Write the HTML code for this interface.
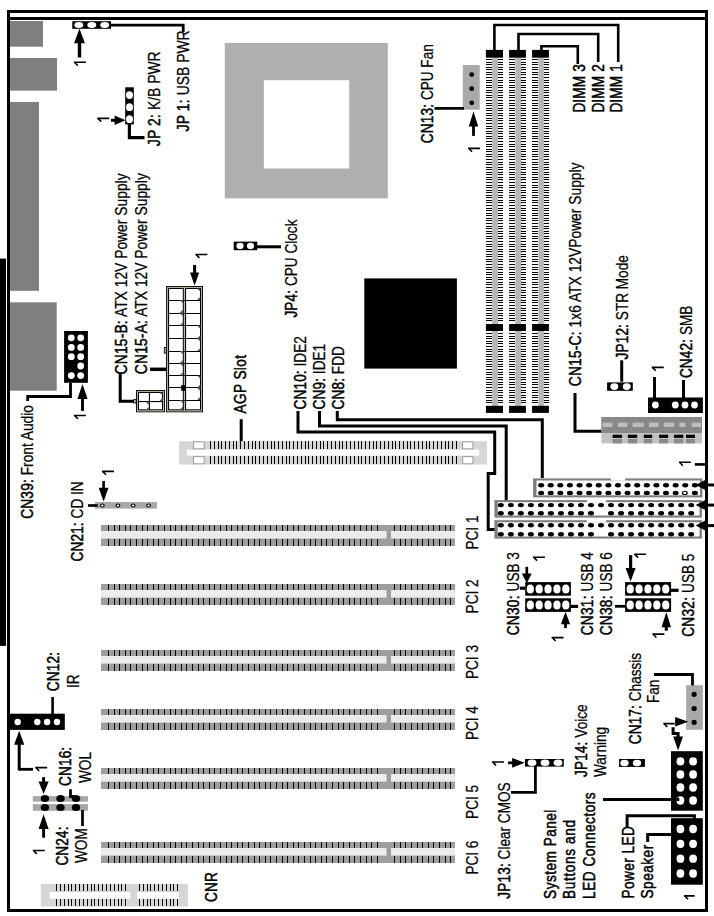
<!DOCTYPE html>
<html><head><meta charset="utf-8"><style>
html,body{margin:0;padding:0;background:#fff;width:714px;height:916px;overflow:hidden}
svg{display:block}
text{font-family:"Liberation Sans",sans-serif;fill:#000}
</style></head><body>
<svg width="714" height="916" viewBox="0 0 714 916">
<rect x="0" y="0" width="714" height="916" fill="#fff"/>
<rect x="7.00" y="10.00" width="3.00" height="902.00" fill="#000"/>
<rect x="7.00" y="10.00" width="701.00" height="3.00" fill="#000"/>
<rect x="10.00" y="17.00" width="695.00" height="3.00" fill="#000"/>
<rect x="705.00" y="10.00" width="3.00" height="902.00" fill="#000"/>
<rect x="7.00" y="909.00" width="701.00" height="3.00" fill="#000"/>
<rect x="0.00" y="258.60" width="6.00" height="387.30" fill="#000"/>
<rect x="10.00" y="21.00" width="33.00" height="25.70" fill="#7f7f7f"/>
<rect x="10.00" y="58.00" width="47.00" height="32.60" fill="#7f7f7f"/>
<rect x="10.00" y="102.00" width="29.00" height="188.80" fill="#7f7f7f"/>
<rect x="10.00" y="302.30" width="46.70" height="88.40" fill="#7f7f7f"/>
<rect x="224.80" y="42.90" width="163.00" height="155.50" fill="#afafaf"/>
<rect x="263.90" y="80.20" width="85.30" height="88.30" fill="#fff"/>
<rect x="72.30" y="21.20" width="38.70" height="7.60" fill="#000"/>
<ellipse cx="78.80" cy="25.00" rx="4.50" ry="2.90" fill="#fff"/>
<ellipse cx="91.80" cy="25.00" rx="4.50" ry="2.90" fill="#fff"/>
<ellipse cx="104.70" cy="25.00" rx="4.50" ry="2.90" fill="#fff"/>
<path d="M111.00,25.20 L183.20,25.20 L183.20,32.00" fill="none" stroke="#000" stroke-width="2.8" stroke-linejoin="miter" stroke-linecap="butt"/>
<path d="M79.5,28.8 L74.0,43.3 L85.0,43.3 Z"/>
<rect x="77.80" y="42.30" width="3.40" height="15.20" fill="#000"/>
<path d="M73.90,62.30 L85.90,62.30 M74.20,62.00 L77.90,65.70" fill="none" stroke="#000" stroke-width="1.6"/>
<text transform="translate(189.00,131.50) rotate(-90) scale(0.82,1)" font-size="17" xml:space="preserve" ><tspan stroke="#000" stroke-width="0.5" letter-spacing="0.2">JP 1:</tspan><tspan stroke="#000" stroke-width="0.25"> USB PWR</tspan></text>
<rect x="125.20" y="87.30" width="8.60" height="37.10" fill="#000"/>
<ellipse cx="129.50" cy="95.10" rx="3.50" ry="3.90" fill="#fff"/>
<ellipse cx="129.50" cy="107.20" rx="3.50" ry="3.90" fill="#fff"/>
<ellipse cx="129.50" cy="119.20" rx="3.50" ry="3.90" fill="#fff"/>
<path d="M129.40,124.00 L129.40,137.70 L144.50,137.70" fill="none" stroke="#000" stroke-width="3.2" stroke-linejoin="miter" stroke-linecap="butt"/>
<path d="M125.6,120.3 L114.6,115.55 L114.6,125.05 Z"/>
<rect x="111.00" y="118.80" width="4.60" height="3.00" fill="#000"/>
<path d="M97.30,118.40 L109.30,118.40 M97.60,118.10 L101.30,121.80" fill="none" stroke="#000" stroke-width="1.6"/>
<text transform="translate(159.70,146.20) rotate(-90) scale(0.818,1)" font-size="17" xml:space="preserve" ><tspan stroke="#000" stroke-width="0.5" letter-spacing="0.2">JP 2:</tspan><tspan stroke="#000" stroke-width="0.25"> K/B PWR</tspan></text>
<rect x="462.80" y="65.00" width="16.90" height="44.70" fill="#a9a9a9"/>
<ellipse cx="471.70" cy="74.60" rx="2.40" ry="2.40" fill="#000"/>
<ellipse cx="471.70" cy="88.70" rx="2.40" ry="2.40" fill="#000"/>
<ellipse cx="471.70" cy="102.80" rx="2.40" ry="2.40" fill="#000"/>
<path d="M434.50,108.40 L464.00,108.40" fill="none" stroke="#000" stroke-width="2.7" stroke-linejoin="miter" stroke-linecap="butt"/>
<path d="M473.5,111.5 L468.75,126.5 L478.25,126.5 Z"/>
<rect x="472.10" y="125.50" width="2.80" height="10.40" fill="#000"/>
<path d="M468.10,148.40 L480.10,148.40 M468.40,148.10 L472.10,151.80" fill="none" stroke="#000" stroke-width="1.6"/>
<text transform="translate(432.80,143.20) rotate(-90) scale(0.8,1)" font-size="17" xml:space="preserve" ><tspan stroke="#000" stroke-width="0.5" letter-spacing="0.2">CN13:</tspan><tspan stroke="#000" stroke-width="0.25"> CPU Fan</tspan></text>
<rect x="492.10" y="57.70" width="5.90" height="348.10" fill="#b6b6ba"/>
<rect x="485.90" y="49.90" width="17.10" height="7.80" fill="#000"/>
<rect x="485.90" y="324.00" width="17.10" height="7.00" fill="#000"/>
<rect x="485.90" y="405.80" width="17.10" height="7.10" fill="#000"/>
<rect x="486" y="59" width="6" height="1" fill="#000" shape-rendering="crispEdges"/>
<rect x="498" y="59" width="5" height="1" fill="#000" shape-rendering="crispEdges"/>
<rect x="486" y="62" width="6" height="1" fill="#000" shape-rendering="crispEdges"/>
<rect x="498" y="62" width="5" height="1" fill="#000" shape-rendering="crispEdges"/>
<rect x="486" y="64" width="6" height="1" fill="#000" shape-rendering="crispEdges"/>
<rect x="498" y="64" width="5" height="1" fill="#000" shape-rendering="crispEdges"/>
<rect x="486" y="67" width="6" height="1" fill="#000" shape-rendering="crispEdges"/>
<rect x="498" y="67" width="5" height="1" fill="#000" shape-rendering="crispEdges"/>
<rect x="486" y="69" width="6" height="1" fill="#000" shape-rendering="crispEdges"/>
<rect x="498" y="69" width="5" height="1" fill="#000" shape-rendering="crispEdges"/>
<rect x="486" y="72" width="6" height="1" fill="#000" shape-rendering="crispEdges"/>
<rect x="498" y="72" width="5" height="1" fill="#000" shape-rendering="crispEdges"/>
<rect x="486" y="74" width="6" height="1" fill="#000" shape-rendering="crispEdges"/>
<rect x="498" y="74" width="5" height="1" fill="#000" shape-rendering="crispEdges"/>
<rect x="486" y="77" width="6" height="1" fill="#000" shape-rendering="crispEdges"/>
<rect x="498" y="77" width="5" height="1" fill="#000" shape-rendering="crispEdges"/>
<rect x="486" y="80" width="6" height="1" fill="#000" shape-rendering="crispEdges"/>
<rect x="498" y="80" width="5" height="1" fill="#000" shape-rendering="crispEdges"/>
<rect x="486" y="82" width="6" height="1" fill="#000" shape-rendering="crispEdges"/>
<rect x="498" y="82" width="5" height="1" fill="#000" shape-rendering="crispEdges"/>
<rect x="486" y="85" width="6" height="1" fill="#000" shape-rendering="crispEdges"/>
<rect x="498" y="85" width="5" height="1" fill="#000" shape-rendering="crispEdges"/>
<rect x="486" y="87" width="6" height="1" fill="#000" shape-rendering="crispEdges"/>
<rect x="498" y="87" width="5" height="1" fill="#000" shape-rendering="crispEdges"/>
<rect x="486" y="90" width="6" height="1" fill="#000" shape-rendering="crispEdges"/>
<rect x="498" y="90" width="5" height="1" fill="#000" shape-rendering="crispEdges"/>
<rect x="486" y="92" width="6" height="1" fill="#000" shape-rendering="crispEdges"/>
<rect x="498" y="92" width="5" height="1" fill="#000" shape-rendering="crispEdges"/>
<rect x="486" y="95" width="6" height="1" fill="#000" shape-rendering="crispEdges"/>
<rect x="498" y="95" width="5" height="1" fill="#000" shape-rendering="crispEdges"/>
<rect x="486" y="97" width="6" height="1" fill="#000" shape-rendering="crispEdges"/>
<rect x="498" y="97" width="5" height="1" fill="#000" shape-rendering="crispEdges"/>
<rect x="486" y="100" width="6" height="1" fill="#000" shape-rendering="crispEdges"/>
<rect x="498" y="100" width="5" height="1" fill="#000" shape-rendering="crispEdges"/>
<rect x="486" y="103" width="6" height="1" fill="#000" shape-rendering="crispEdges"/>
<rect x="498" y="103" width="5" height="1" fill="#000" shape-rendering="crispEdges"/>
<rect x="486" y="105" width="6" height="1" fill="#000" shape-rendering="crispEdges"/>
<rect x="498" y="105" width="5" height="1" fill="#000" shape-rendering="crispEdges"/>
<rect x="486" y="108" width="6" height="1" fill="#000" shape-rendering="crispEdges"/>
<rect x="498" y="108" width="5" height="1" fill="#000" shape-rendering="crispEdges"/>
<rect x="486" y="110" width="6" height="1" fill="#000" shape-rendering="crispEdges"/>
<rect x="498" y="110" width="5" height="1" fill="#000" shape-rendering="crispEdges"/>
<rect x="486" y="113" width="6" height="1" fill="#000" shape-rendering="crispEdges"/>
<rect x="498" y="113" width="5" height="1" fill="#000" shape-rendering="crispEdges"/>
<rect x="486" y="115" width="6" height="1" fill="#000" shape-rendering="crispEdges"/>
<rect x="498" y="115" width="5" height="1" fill="#000" shape-rendering="crispEdges"/>
<rect x="486" y="118" width="6" height="1" fill="#000" shape-rendering="crispEdges"/>
<rect x="498" y="118" width="5" height="1" fill="#000" shape-rendering="crispEdges"/>
<rect x="486" y="120" width="6" height="1" fill="#000" shape-rendering="crispEdges"/>
<rect x="498" y="120" width="5" height="1" fill="#000" shape-rendering="crispEdges"/>
<rect x="486" y="123" width="6" height="1" fill="#000" shape-rendering="crispEdges"/>
<rect x="498" y="123" width="5" height="1" fill="#000" shape-rendering="crispEdges"/>
<rect x="486" y="126" width="6" height="1" fill="#000" shape-rendering="crispEdges"/>
<rect x="498" y="126" width="5" height="1" fill="#000" shape-rendering="crispEdges"/>
<rect x="486" y="128" width="6" height="1" fill="#000" shape-rendering="crispEdges"/>
<rect x="498" y="128" width="5" height="1" fill="#000" shape-rendering="crispEdges"/>
<rect x="486" y="131" width="6" height="1" fill="#000" shape-rendering="crispEdges"/>
<rect x="498" y="131" width="5" height="1" fill="#000" shape-rendering="crispEdges"/>
<rect x="486" y="133" width="6" height="1" fill="#000" shape-rendering="crispEdges"/>
<rect x="498" y="133" width="5" height="1" fill="#000" shape-rendering="crispEdges"/>
<rect x="486" y="136" width="6" height="1" fill="#000" shape-rendering="crispEdges"/>
<rect x="498" y="136" width="5" height="1" fill="#000" shape-rendering="crispEdges"/>
<rect x="486" y="138" width="6" height="1" fill="#000" shape-rendering="crispEdges"/>
<rect x="498" y="138" width="5" height="1" fill="#000" shape-rendering="crispEdges"/>
<rect x="486" y="141" width="6" height="1" fill="#000" shape-rendering="crispEdges"/>
<rect x="498" y="141" width="5" height="1" fill="#000" shape-rendering="crispEdges"/>
<rect x="486" y="144" width="6" height="1" fill="#000" shape-rendering="crispEdges"/>
<rect x="498" y="144" width="5" height="1" fill="#000" shape-rendering="crispEdges"/>
<rect x="486" y="146" width="6" height="1" fill="#000" shape-rendering="crispEdges"/>
<rect x="498" y="146" width="5" height="1" fill="#000" shape-rendering="crispEdges"/>
<rect x="486" y="149" width="6" height="1" fill="#000" shape-rendering="crispEdges"/>
<rect x="498" y="149" width="5" height="1" fill="#000" shape-rendering="crispEdges"/>
<rect x="486" y="151" width="6" height="1" fill="#000" shape-rendering="crispEdges"/>
<rect x="498" y="151" width="5" height="1" fill="#000" shape-rendering="crispEdges"/>
<rect x="486" y="154" width="6" height="1" fill="#000" shape-rendering="crispEdges"/>
<rect x="498" y="154" width="5" height="1" fill="#000" shape-rendering="crispEdges"/>
<rect x="486" y="156" width="6" height="1" fill="#000" shape-rendering="crispEdges"/>
<rect x="498" y="156" width="5" height="1" fill="#000" shape-rendering="crispEdges"/>
<rect x="486" y="159" width="6" height="1" fill="#000" shape-rendering="crispEdges"/>
<rect x="498" y="159" width="5" height="1" fill="#000" shape-rendering="crispEdges"/>
<rect x="486" y="162" width="6" height="1" fill="#000" shape-rendering="crispEdges"/>
<rect x="498" y="162" width="5" height="1" fill="#000" shape-rendering="crispEdges"/>
<rect x="486" y="164" width="6" height="1" fill="#000" shape-rendering="crispEdges"/>
<rect x="498" y="164" width="5" height="1" fill="#000" shape-rendering="crispEdges"/>
<rect x="486" y="167" width="6" height="1" fill="#000" shape-rendering="crispEdges"/>
<rect x="498" y="167" width="5" height="1" fill="#000" shape-rendering="crispEdges"/>
<rect x="486" y="169" width="6" height="1" fill="#000" shape-rendering="crispEdges"/>
<rect x="498" y="169" width="5" height="1" fill="#000" shape-rendering="crispEdges"/>
<rect x="486" y="172" width="6" height="1" fill="#000" shape-rendering="crispEdges"/>
<rect x="498" y="172" width="5" height="1" fill="#000" shape-rendering="crispEdges"/>
<rect x="486" y="174" width="6" height="1" fill="#000" shape-rendering="crispEdges"/>
<rect x="498" y="174" width="5" height="1" fill="#000" shape-rendering="crispEdges"/>
<rect x="486" y="177" width="6" height="1" fill="#000" shape-rendering="crispEdges"/>
<rect x="498" y="177" width="5" height="1" fill="#000" shape-rendering="crispEdges"/>
<rect x="486" y="179" width="6" height="1" fill="#000" shape-rendering="crispEdges"/>
<rect x="498" y="179" width="5" height="1" fill="#000" shape-rendering="crispEdges"/>
<rect x="486" y="182" width="6" height="1" fill="#000" shape-rendering="crispEdges"/>
<rect x="498" y="182" width="5" height="1" fill="#000" shape-rendering="crispEdges"/>
<rect x="486" y="185" width="6" height="1" fill="#000" shape-rendering="crispEdges"/>
<rect x="498" y="185" width="5" height="1" fill="#000" shape-rendering="crispEdges"/>
<rect x="486" y="187" width="6" height="1" fill="#000" shape-rendering="crispEdges"/>
<rect x="498" y="187" width="5" height="1" fill="#000" shape-rendering="crispEdges"/>
<rect x="486" y="190" width="6" height="1" fill="#000" shape-rendering="crispEdges"/>
<rect x="498" y="190" width="5" height="1" fill="#000" shape-rendering="crispEdges"/>
<rect x="486" y="192" width="6" height="1" fill="#000" shape-rendering="crispEdges"/>
<rect x="498" y="192" width="5" height="1" fill="#000" shape-rendering="crispEdges"/>
<rect x="486" y="195" width="6" height="1" fill="#000" shape-rendering="crispEdges"/>
<rect x="498" y="195" width="5" height="1" fill="#000" shape-rendering="crispEdges"/>
<rect x="486" y="197" width="6" height="1" fill="#000" shape-rendering="crispEdges"/>
<rect x="498" y="197" width="5" height="1" fill="#000" shape-rendering="crispEdges"/>
<rect x="486" y="200" width="6" height="1" fill="#000" shape-rendering="crispEdges"/>
<rect x="498" y="200" width="5" height="1" fill="#000" shape-rendering="crispEdges"/>
<rect x="486" y="202" width="6" height="1" fill="#000" shape-rendering="crispEdges"/>
<rect x="498" y="202" width="5" height="1" fill="#000" shape-rendering="crispEdges"/>
<rect x="486" y="205" width="6" height="1" fill="#000" shape-rendering="crispEdges"/>
<rect x="498" y="205" width="5" height="1" fill="#000" shape-rendering="crispEdges"/>
<rect x="486" y="208" width="6" height="1" fill="#000" shape-rendering="crispEdges"/>
<rect x="498" y="208" width="5" height="1" fill="#000" shape-rendering="crispEdges"/>
<rect x="486" y="210" width="6" height="1" fill="#000" shape-rendering="crispEdges"/>
<rect x="498" y="210" width="5" height="1" fill="#000" shape-rendering="crispEdges"/>
<rect x="486" y="213" width="6" height="1" fill="#000" shape-rendering="crispEdges"/>
<rect x="498" y="213" width="5" height="1" fill="#000" shape-rendering="crispEdges"/>
<rect x="486" y="215" width="6" height="1" fill="#000" shape-rendering="crispEdges"/>
<rect x="498" y="215" width="5" height="1" fill="#000" shape-rendering="crispEdges"/>
<rect x="486" y="218" width="6" height="1" fill="#000" shape-rendering="crispEdges"/>
<rect x="498" y="218" width="5" height="1" fill="#000" shape-rendering="crispEdges"/>
<rect x="486" y="220" width="6" height="1" fill="#000" shape-rendering="crispEdges"/>
<rect x="498" y="220" width="5" height="1" fill="#000" shape-rendering="crispEdges"/>
<rect x="486" y="223" width="6" height="1" fill="#000" shape-rendering="crispEdges"/>
<rect x="498" y="223" width="5" height="1" fill="#000" shape-rendering="crispEdges"/>
<rect x="486" y="226" width="6" height="1" fill="#000" shape-rendering="crispEdges"/>
<rect x="498" y="226" width="5" height="1" fill="#000" shape-rendering="crispEdges"/>
<rect x="486" y="228" width="6" height="1" fill="#000" shape-rendering="crispEdges"/>
<rect x="498" y="228" width="5" height="1" fill="#000" shape-rendering="crispEdges"/>
<rect x="486" y="231" width="6" height="1" fill="#000" shape-rendering="crispEdges"/>
<rect x="498" y="231" width="5" height="1" fill="#000" shape-rendering="crispEdges"/>
<rect x="486" y="233" width="6" height="1" fill="#000" shape-rendering="crispEdges"/>
<rect x="498" y="233" width="5" height="1" fill="#000" shape-rendering="crispEdges"/>
<rect x="486" y="236" width="6" height="1" fill="#000" shape-rendering="crispEdges"/>
<rect x="498" y="236" width="5" height="1" fill="#000" shape-rendering="crispEdges"/>
<rect x="486" y="238" width="6" height="1" fill="#000" shape-rendering="crispEdges"/>
<rect x="498" y="238" width="5" height="1" fill="#000" shape-rendering="crispEdges"/>
<rect x="486" y="241" width="6" height="1" fill="#000" shape-rendering="crispEdges"/>
<rect x="498" y="241" width="5" height="1" fill="#000" shape-rendering="crispEdges"/>
<rect x="486" y="244" width="6" height="1" fill="#000" shape-rendering="crispEdges"/>
<rect x="498" y="244" width="5" height="1" fill="#000" shape-rendering="crispEdges"/>
<rect x="486" y="246" width="6" height="1" fill="#000" shape-rendering="crispEdges"/>
<rect x="498" y="246" width="5" height="1" fill="#000" shape-rendering="crispEdges"/>
<rect x="486" y="249" width="6" height="1" fill="#000" shape-rendering="crispEdges"/>
<rect x="498" y="249" width="5" height="1" fill="#000" shape-rendering="crispEdges"/>
<rect x="486" y="251" width="6" height="1" fill="#000" shape-rendering="crispEdges"/>
<rect x="498" y="251" width="5" height="1" fill="#000" shape-rendering="crispEdges"/>
<rect x="486" y="254" width="6" height="1" fill="#000" shape-rendering="crispEdges"/>
<rect x="498" y="254" width="5" height="1" fill="#000" shape-rendering="crispEdges"/>
<rect x="486" y="256" width="6" height="1" fill="#000" shape-rendering="crispEdges"/>
<rect x="498" y="256" width="5" height="1" fill="#000" shape-rendering="crispEdges"/>
<rect x="486" y="259" width="6" height="1" fill="#000" shape-rendering="crispEdges"/>
<rect x="498" y="259" width="5" height="1" fill="#000" shape-rendering="crispEdges"/>
<rect x="486" y="261" width="6" height="1" fill="#000" shape-rendering="crispEdges"/>
<rect x="498" y="261" width="5" height="1" fill="#000" shape-rendering="crispEdges"/>
<rect x="486" y="264" width="6" height="1" fill="#000" shape-rendering="crispEdges"/>
<rect x="498" y="264" width="5" height="1" fill="#000" shape-rendering="crispEdges"/>
<rect x="486" y="267" width="6" height="1" fill="#000" shape-rendering="crispEdges"/>
<rect x="498" y="267" width="5" height="1" fill="#000" shape-rendering="crispEdges"/>
<rect x="486" y="269" width="6" height="1" fill="#000" shape-rendering="crispEdges"/>
<rect x="498" y="269" width="5" height="1" fill="#000" shape-rendering="crispEdges"/>
<rect x="486" y="272" width="6" height="1" fill="#000" shape-rendering="crispEdges"/>
<rect x="498" y="272" width="5" height="1" fill="#000" shape-rendering="crispEdges"/>
<rect x="486" y="274" width="6" height="1" fill="#000" shape-rendering="crispEdges"/>
<rect x="498" y="274" width="5" height="1" fill="#000" shape-rendering="crispEdges"/>
<rect x="486" y="277" width="6" height="1" fill="#000" shape-rendering="crispEdges"/>
<rect x="498" y="277" width="5" height="1" fill="#000" shape-rendering="crispEdges"/>
<rect x="486" y="279" width="6" height="1" fill="#000" shape-rendering="crispEdges"/>
<rect x="498" y="279" width="5" height="1" fill="#000" shape-rendering="crispEdges"/>
<rect x="486" y="282" width="6" height="1" fill="#000" shape-rendering="crispEdges"/>
<rect x="498" y="282" width="5" height="1" fill="#000" shape-rendering="crispEdges"/>
<rect x="486" y="284" width="6" height="1" fill="#000" shape-rendering="crispEdges"/>
<rect x="498" y="284" width="5" height="1" fill="#000" shape-rendering="crispEdges"/>
<rect x="486" y="287" width="6" height="1" fill="#000" shape-rendering="crispEdges"/>
<rect x="498" y="287" width="5" height="1" fill="#000" shape-rendering="crispEdges"/>
<rect x="486" y="290" width="6" height="1" fill="#000" shape-rendering="crispEdges"/>
<rect x="498" y="290" width="5" height="1" fill="#000" shape-rendering="crispEdges"/>
<rect x="486" y="292" width="6" height="1" fill="#000" shape-rendering="crispEdges"/>
<rect x="498" y="292" width="5" height="1" fill="#000" shape-rendering="crispEdges"/>
<rect x="486" y="295" width="6" height="1" fill="#000" shape-rendering="crispEdges"/>
<rect x="498" y="295" width="5" height="1" fill="#000" shape-rendering="crispEdges"/>
<rect x="486" y="297" width="6" height="1" fill="#000" shape-rendering="crispEdges"/>
<rect x="498" y="297" width="5" height="1" fill="#000" shape-rendering="crispEdges"/>
<rect x="486" y="300" width="6" height="1" fill="#000" shape-rendering="crispEdges"/>
<rect x="498" y="300" width="5" height="1" fill="#000" shape-rendering="crispEdges"/>
<rect x="486" y="302" width="6" height="1" fill="#000" shape-rendering="crispEdges"/>
<rect x="498" y="302" width="5" height="1" fill="#000" shape-rendering="crispEdges"/>
<rect x="486" y="305" width="6" height="1" fill="#000" shape-rendering="crispEdges"/>
<rect x="498" y="305" width="5" height="1" fill="#000" shape-rendering="crispEdges"/>
<rect x="486" y="308" width="6" height="1" fill="#000" shape-rendering="crispEdges"/>
<rect x="498" y="308" width="5" height="1" fill="#000" shape-rendering="crispEdges"/>
<rect x="486" y="310" width="6" height="1" fill="#000" shape-rendering="crispEdges"/>
<rect x="498" y="310" width="5" height="1" fill="#000" shape-rendering="crispEdges"/>
<rect x="486" y="313" width="6" height="1" fill="#000" shape-rendering="crispEdges"/>
<rect x="498" y="313" width="5" height="1" fill="#000" shape-rendering="crispEdges"/>
<rect x="486" y="315" width="6" height="1" fill="#000" shape-rendering="crispEdges"/>
<rect x="498" y="315" width="5" height="1" fill="#000" shape-rendering="crispEdges"/>
<rect x="486" y="318" width="6" height="1" fill="#000" shape-rendering="crispEdges"/>
<rect x="498" y="318" width="5" height="1" fill="#000" shape-rendering="crispEdges"/>
<rect x="486" y="320" width="6" height="1" fill="#000" shape-rendering="crispEdges"/>
<rect x="498" y="320" width="5" height="1" fill="#000" shape-rendering="crispEdges"/>
<rect x="486" y="333" width="6" height="1" fill="#000" shape-rendering="crispEdges"/>
<rect x="498" y="333" width="5" height="1" fill="#000" shape-rendering="crispEdges"/>
<rect x="486" y="336" width="6" height="1" fill="#000" shape-rendering="crispEdges"/>
<rect x="498" y="336" width="5" height="1" fill="#000" shape-rendering="crispEdges"/>
<rect x="486" y="338" width="6" height="1" fill="#000" shape-rendering="crispEdges"/>
<rect x="498" y="338" width="5" height="1" fill="#000" shape-rendering="crispEdges"/>
<rect x="486" y="341" width="6" height="1" fill="#000" shape-rendering="crispEdges"/>
<rect x="498" y="341" width="5" height="1" fill="#000" shape-rendering="crispEdges"/>
<rect x="486" y="343" width="6" height="1" fill="#000" shape-rendering="crispEdges"/>
<rect x="498" y="343" width="5" height="1" fill="#000" shape-rendering="crispEdges"/>
<rect x="486" y="346" width="6" height="1" fill="#000" shape-rendering="crispEdges"/>
<rect x="498" y="346" width="5" height="1" fill="#000" shape-rendering="crispEdges"/>
<rect x="486" y="349" width="6" height="1" fill="#000" shape-rendering="crispEdges"/>
<rect x="498" y="349" width="5" height="1" fill="#000" shape-rendering="crispEdges"/>
<rect x="486" y="351" width="6" height="1" fill="#000" shape-rendering="crispEdges"/>
<rect x="498" y="351" width="5" height="1" fill="#000" shape-rendering="crispEdges"/>
<rect x="486" y="354" width="6" height="1" fill="#000" shape-rendering="crispEdges"/>
<rect x="498" y="354" width="5" height="1" fill="#000" shape-rendering="crispEdges"/>
<rect x="486" y="356" width="6" height="1" fill="#000" shape-rendering="crispEdges"/>
<rect x="498" y="356" width="5" height="1" fill="#000" shape-rendering="crispEdges"/>
<rect x="486" y="359" width="6" height="1" fill="#000" shape-rendering="crispEdges"/>
<rect x="498" y="359" width="5" height="1" fill="#000" shape-rendering="crispEdges"/>
<rect x="486" y="361" width="6" height="1" fill="#000" shape-rendering="crispEdges"/>
<rect x="498" y="361" width="5" height="1" fill="#000" shape-rendering="crispEdges"/>
<rect x="486" y="364" width="6" height="1" fill="#000" shape-rendering="crispEdges"/>
<rect x="498" y="364" width="5" height="1" fill="#000" shape-rendering="crispEdges"/>
<rect x="486" y="366" width="6" height="1" fill="#000" shape-rendering="crispEdges"/>
<rect x="498" y="366" width="5" height="1" fill="#000" shape-rendering="crispEdges"/>
<rect x="486" y="369" width="6" height="1" fill="#000" shape-rendering="crispEdges"/>
<rect x="498" y="369" width="5" height="1" fill="#000" shape-rendering="crispEdges"/>
<rect x="486" y="372" width="6" height="1" fill="#000" shape-rendering="crispEdges"/>
<rect x="498" y="372" width="5" height="1" fill="#000" shape-rendering="crispEdges"/>
<rect x="486" y="374" width="6" height="1" fill="#000" shape-rendering="crispEdges"/>
<rect x="498" y="374" width="5" height="1" fill="#000" shape-rendering="crispEdges"/>
<rect x="486" y="377" width="6" height="1" fill="#000" shape-rendering="crispEdges"/>
<rect x="498" y="377" width="5" height="1" fill="#000" shape-rendering="crispEdges"/>
<rect x="486" y="379" width="6" height="1" fill="#000" shape-rendering="crispEdges"/>
<rect x="498" y="379" width="5" height="1" fill="#000" shape-rendering="crispEdges"/>
<rect x="486" y="382" width="6" height="1" fill="#000" shape-rendering="crispEdges"/>
<rect x="498" y="382" width="5" height="1" fill="#000" shape-rendering="crispEdges"/>
<rect x="486" y="384" width="6" height="1" fill="#000" shape-rendering="crispEdges"/>
<rect x="498" y="384" width="5" height="1" fill="#000" shape-rendering="crispEdges"/>
<rect x="486" y="387" width="6" height="1" fill="#000" shape-rendering="crispEdges"/>
<rect x="498" y="387" width="5" height="1" fill="#000" shape-rendering="crispEdges"/>
<rect x="486" y="390" width="6" height="1" fill="#000" shape-rendering="crispEdges"/>
<rect x="498" y="390" width="5" height="1" fill="#000" shape-rendering="crispEdges"/>
<rect x="486" y="392" width="6" height="1" fill="#000" shape-rendering="crispEdges"/>
<rect x="498" y="392" width="5" height="1" fill="#000" shape-rendering="crispEdges"/>
<rect x="486" y="395" width="6" height="1" fill="#000" shape-rendering="crispEdges"/>
<rect x="498" y="395" width="5" height="1" fill="#000" shape-rendering="crispEdges"/>
<rect x="486" y="397" width="6" height="1" fill="#000" shape-rendering="crispEdges"/>
<rect x="498" y="397" width="5" height="1" fill="#000" shape-rendering="crispEdges"/>
<rect x="486" y="400" width="6" height="1" fill="#000" shape-rendering="crispEdges"/>
<rect x="498" y="400" width="5" height="1" fill="#000" shape-rendering="crispEdges"/>
<rect x="486" y="402" width="6" height="1" fill="#000" shape-rendering="crispEdges"/>
<rect x="498" y="402" width="5" height="1" fill="#000" shape-rendering="crispEdges"/>
<rect x="515.30" y="57.70" width="5.90" height="348.10" fill="#b6b6ba"/>
<rect x="509.10" y="49.90" width="16.80" height="7.80" fill="#000"/>
<rect x="509.10" y="324.00" width="16.80" height="7.00" fill="#000"/>
<rect x="509.10" y="405.80" width="16.80" height="7.10" fill="#000"/>
<rect x="509" y="59" width="6" height="1" fill="#000" shape-rendering="crispEdges"/>
<rect x="521" y="59" width="5" height="1" fill="#000" shape-rendering="crispEdges"/>
<rect x="509" y="62" width="6" height="1" fill="#000" shape-rendering="crispEdges"/>
<rect x="521" y="62" width="5" height="1" fill="#000" shape-rendering="crispEdges"/>
<rect x="509" y="64" width="6" height="1" fill="#000" shape-rendering="crispEdges"/>
<rect x="521" y="64" width="5" height="1" fill="#000" shape-rendering="crispEdges"/>
<rect x="509" y="67" width="6" height="1" fill="#000" shape-rendering="crispEdges"/>
<rect x="521" y="67" width="5" height="1" fill="#000" shape-rendering="crispEdges"/>
<rect x="509" y="69" width="6" height="1" fill="#000" shape-rendering="crispEdges"/>
<rect x="521" y="69" width="5" height="1" fill="#000" shape-rendering="crispEdges"/>
<rect x="509" y="72" width="6" height="1" fill="#000" shape-rendering="crispEdges"/>
<rect x="521" y="72" width="5" height="1" fill="#000" shape-rendering="crispEdges"/>
<rect x="509" y="74" width="6" height="1" fill="#000" shape-rendering="crispEdges"/>
<rect x="521" y="74" width="5" height="1" fill="#000" shape-rendering="crispEdges"/>
<rect x="509" y="77" width="6" height="1" fill="#000" shape-rendering="crispEdges"/>
<rect x="521" y="77" width="5" height="1" fill="#000" shape-rendering="crispEdges"/>
<rect x="509" y="80" width="6" height="1" fill="#000" shape-rendering="crispEdges"/>
<rect x="521" y="80" width="5" height="1" fill="#000" shape-rendering="crispEdges"/>
<rect x="509" y="82" width="6" height="1" fill="#000" shape-rendering="crispEdges"/>
<rect x="521" y="82" width="5" height="1" fill="#000" shape-rendering="crispEdges"/>
<rect x="509" y="85" width="6" height="1" fill="#000" shape-rendering="crispEdges"/>
<rect x="521" y="85" width="5" height="1" fill="#000" shape-rendering="crispEdges"/>
<rect x="509" y="87" width="6" height="1" fill="#000" shape-rendering="crispEdges"/>
<rect x="521" y="87" width="5" height="1" fill="#000" shape-rendering="crispEdges"/>
<rect x="509" y="90" width="6" height="1" fill="#000" shape-rendering="crispEdges"/>
<rect x="521" y="90" width="5" height="1" fill="#000" shape-rendering="crispEdges"/>
<rect x="509" y="92" width="6" height="1" fill="#000" shape-rendering="crispEdges"/>
<rect x="521" y="92" width="5" height="1" fill="#000" shape-rendering="crispEdges"/>
<rect x="509" y="95" width="6" height="1" fill="#000" shape-rendering="crispEdges"/>
<rect x="521" y="95" width="5" height="1" fill="#000" shape-rendering="crispEdges"/>
<rect x="509" y="97" width="6" height="1" fill="#000" shape-rendering="crispEdges"/>
<rect x="521" y="97" width="5" height="1" fill="#000" shape-rendering="crispEdges"/>
<rect x="509" y="100" width="6" height="1" fill="#000" shape-rendering="crispEdges"/>
<rect x="521" y="100" width="5" height="1" fill="#000" shape-rendering="crispEdges"/>
<rect x="509" y="103" width="6" height="1" fill="#000" shape-rendering="crispEdges"/>
<rect x="521" y="103" width="5" height="1" fill="#000" shape-rendering="crispEdges"/>
<rect x="509" y="105" width="6" height="1" fill="#000" shape-rendering="crispEdges"/>
<rect x="521" y="105" width="5" height="1" fill="#000" shape-rendering="crispEdges"/>
<rect x="509" y="108" width="6" height="1" fill="#000" shape-rendering="crispEdges"/>
<rect x="521" y="108" width="5" height="1" fill="#000" shape-rendering="crispEdges"/>
<rect x="509" y="110" width="6" height="1" fill="#000" shape-rendering="crispEdges"/>
<rect x="521" y="110" width="5" height="1" fill="#000" shape-rendering="crispEdges"/>
<rect x="509" y="113" width="6" height="1" fill="#000" shape-rendering="crispEdges"/>
<rect x="521" y="113" width="5" height="1" fill="#000" shape-rendering="crispEdges"/>
<rect x="509" y="115" width="6" height="1" fill="#000" shape-rendering="crispEdges"/>
<rect x="521" y="115" width="5" height="1" fill="#000" shape-rendering="crispEdges"/>
<rect x="509" y="118" width="6" height="1" fill="#000" shape-rendering="crispEdges"/>
<rect x="521" y="118" width="5" height="1" fill="#000" shape-rendering="crispEdges"/>
<rect x="509" y="120" width="6" height="1" fill="#000" shape-rendering="crispEdges"/>
<rect x="521" y="120" width="5" height="1" fill="#000" shape-rendering="crispEdges"/>
<rect x="509" y="123" width="6" height="1" fill="#000" shape-rendering="crispEdges"/>
<rect x="521" y="123" width="5" height="1" fill="#000" shape-rendering="crispEdges"/>
<rect x="509" y="126" width="6" height="1" fill="#000" shape-rendering="crispEdges"/>
<rect x="521" y="126" width="5" height="1" fill="#000" shape-rendering="crispEdges"/>
<rect x="509" y="128" width="6" height="1" fill="#000" shape-rendering="crispEdges"/>
<rect x="521" y="128" width="5" height="1" fill="#000" shape-rendering="crispEdges"/>
<rect x="509" y="131" width="6" height="1" fill="#000" shape-rendering="crispEdges"/>
<rect x="521" y="131" width="5" height="1" fill="#000" shape-rendering="crispEdges"/>
<rect x="509" y="133" width="6" height="1" fill="#000" shape-rendering="crispEdges"/>
<rect x="521" y="133" width="5" height="1" fill="#000" shape-rendering="crispEdges"/>
<rect x="509" y="136" width="6" height="1" fill="#000" shape-rendering="crispEdges"/>
<rect x="521" y="136" width="5" height="1" fill="#000" shape-rendering="crispEdges"/>
<rect x="509" y="138" width="6" height="1" fill="#000" shape-rendering="crispEdges"/>
<rect x="521" y="138" width="5" height="1" fill="#000" shape-rendering="crispEdges"/>
<rect x="509" y="141" width="6" height="1" fill="#000" shape-rendering="crispEdges"/>
<rect x="521" y="141" width="5" height="1" fill="#000" shape-rendering="crispEdges"/>
<rect x="509" y="144" width="6" height="1" fill="#000" shape-rendering="crispEdges"/>
<rect x="521" y="144" width="5" height="1" fill="#000" shape-rendering="crispEdges"/>
<rect x="509" y="146" width="6" height="1" fill="#000" shape-rendering="crispEdges"/>
<rect x="521" y="146" width="5" height="1" fill="#000" shape-rendering="crispEdges"/>
<rect x="509" y="149" width="6" height="1" fill="#000" shape-rendering="crispEdges"/>
<rect x="521" y="149" width="5" height="1" fill="#000" shape-rendering="crispEdges"/>
<rect x="509" y="151" width="6" height="1" fill="#000" shape-rendering="crispEdges"/>
<rect x="521" y="151" width="5" height="1" fill="#000" shape-rendering="crispEdges"/>
<rect x="509" y="154" width="6" height="1" fill="#000" shape-rendering="crispEdges"/>
<rect x="521" y="154" width="5" height="1" fill="#000" shape-rendering="crispEdges"/>
<rect x="509" y="156" width="6" height="1" fill="#000" shape-rendering="crispEdges"/>
<rect x="521" y="156" width="5" height="1" fill="#000" shape-rendering="crispEdges"/>
<rect x="509" y="159" width="6" height="1" fill="#000" shape-rendering="crispEdges"/>
<rect x="521" y="159" width="5" height="1" fill="#000" shape-rendering="crispEdges"/>
<rect x="509" y="162" width="6" height="1" fill="#000" shape-rendering="crispEdges"/>
<rect x="521" y="162" width="5" height="1" fill="#000" shape-rendering="crispEdges"/>
<rect x="509" y="164" width="6" height="1" fill="#000" shape-rendering="crispEdges"/>
<rect x="521" y="164" width="5" height="1" fill="#000" shape-rendering="crispEdges"/>
<rect x="509" y="167" width="6" height="1" fill="#000" shape-rendering="crispEdges"/>
<rect x="521" y="167" width="5" height="1" fill="#000" shape-rendering="crispEdges"/>
<rect x="509" y="169" width="6" height="1" fill="#000" shape-rendering="crispEdges"/>
<rect x="521" y="169" width="5" height="1" fill="#000" shape-rendering="crispEdges"/>
<rect x="509" y="172" width="6" height="1" fill="#000" shape-rendering="crispEdges"/>
<rect x="521" y="172" width="5" height="1" fill="#000" shape-rendering="crispEdges"/>
<rect x="509" y="174" width="6" height="1" fill="#000" shape-rendering="crispEdges"/>
<rect x="521" y="174" width="5" height="1" fill="#000" shape-rendering="crispEdges"/>
<rect x="509" y="177" width="6" height="1" fill="#000" shape-rendering="crispEdges"/>
<rect x="521" y="177" width="5" height="1" fill="#000" shape-rendering="crispEdges"/>
<rect x="509" y="179" width="6" height="1" fill="#000" shape-rendering="crispEdges"/>
<rect x="521" y="179" width="5" height="1" fill="#000" shape-rendering="crispEdges"/>
<rect x="509" y="182" width="6" height="1" fill="#000" shape-rendering="crispEdges"/>
<rect x="521" y="182" width="5" height="1" fill="#000" shape-rendering="crispEdges"/>
<rect x="509" y="185" width="6" height="1" fill="#000" shape-rendering="crispEdges"/>
<rect x="521" y="185" width="5" height="1" fill="#000" shape-rendering="crispEdges"/>
<rect x="509" y="187" width="6" height="1" fill="#000" shape-rendering="crispEdges"/>
<rect x="521" y="187" width="5" height="1" fill="#000" shape-rendering="crispEdges"/>
<rect x="509" y="190" width="6" height="1" fill="#000" shape-rendering="crispEdges"/>
<rect x="521" y="190" width="5" height="1" fill="#000" shape-rendering="crispEdges"/>
<rect x="509" y="192" width="6" height="1" fill="#000" shape-rendering="crispEdges"/>
<rect x="521" y="192" width="5" height="1" fill="#000" shape-rendering="crispEdges"/>
<rect x="509" y="195" width="6" height="1" fill="#000" shape-rendering="crispEdges"/>
<rect x="521" y="195" width="5" height="1" fill="#000" shape-rendering="crispEdges"/>
<rect x="509" y="197" width="6" height="1" fill="#000" shape-rendering="crispEdges"/>
<rect x="521" y="197" width="5" height="1" fill="#000" shape-rendering="crispEdges"/>
<rect x="509" y="200" width="6" height="1" fill="#000" shape-rendering="crispEdges"/>
<rect x="521" y="200" width="5" height="1" fill="#000" shape-rendering="crispEdges"/>
<rect x="509" y="202" width="6" height="1" fill="#000" shape-rendering="crispEdges"/>
<rect x="521" y="202" width="5" height="1" fill="#000" shape-rendering="crispEdges"/>
<rect x="509" y="205" width="6" height="1" fill="#000" shape-rendering="crispEdges"/>
<rect x="521" y="205" width="5" height="1" fill="#000" shape-rendering="crispEdges"/>
<rect x="509" y="208" width="6" height="1" fill="#000" shape-rendering="crispEdges"/>
<rect x="521" y="208" width="5" height="1" fill="#000" shape-rendering="crispEdges"/>
<rect x="509" y="210" width="6" height="1" fill="#000" shape-rendering="crispEdges"/>
<rect x="521" y="210" width="5" height="1" fill="#000" shape-rendering="crispEdges"/>
<rect x="509" y="213" width="6" height="1" fill="#000" shape-rendering="crispEdges"/>
<rect x="521" y="213" width="5" height="1" fill="#000" shape-rendering="crispEdges"/>
<rect x="509" y="215" width="6" height="1" fill="#000" shape-rendering="crispEdges"/>
<rect x="521" y="215" width="5" height="1" fill="#000" shape-rendering="crispEdges"/>
<rect x="509" y="218" width="6" height="1" fill="#000" shape-rendering="crispEdges"/>
<rect x="521" y="218" width="5" height="1" fill="#000" shape-rendering="crispEdges"/>
<rect x="509" y="220" width="6" height="1" fill="#000" shape-rendering="crispEdges"/>
<rect x="521" y="220" width="5" height="1" fill="#000" shape-rendering="crispEdges"/>
<rect x="509" y="223" width="6" height="1" fill="#000" shape-rendering="crispEdges"/>
<rect x="521" y="223" width="5" height="1" fill="#000" shape-rendering="crispEdges"/>
<rect x="509" y="226" width="6" height="1" fill="#000" shape-rendering="crispEdges"/>
<rect x="521" y="226" width="5" height="1" fill="#000" shape-rendering="crispEdges"/>
<rect x="509" y="228" width="6" height="1" fill="#000" shape-rendering="crispEdges"/>
<rect x="521" y="228" width="5" height="1" fill="#000" shape-rendering="crispEdges"/>
<rect x="509" y="231" width="6" height="1" fill="#000" shape-rendering="crispEdges"/>
<rect x="521" y="231" width="5" height="1" fill="#000" shape-rendering="crispEdges"/>
<rect x="509" y="233" width="6" height="1" fill="#000" shape-rendering="crispEdges"/>
<rect x="521" y="233" width="5" height="1" fill="#000" shape-rendering="crispEdges"/>
<rect x="509" y="236" width="6" height="1" fill="#000" shape-rendering="crispEdges"/>
<rect x="521" y="236" width="5" height="1" fill="#000" shape-rendering="crispEdges"/>
<rect x="509" y="238" width="6" height="1" fill="#000" shape-rendering="crispEdges"/>
<rect x="521" y="238" width="5" height="1" fill="#000" shape-rendering="crispEdges"/>
<rect x="509" y="241" width="6" height="1" fill="#000" shape-rendering="crispEdges"/>
<rect x="521" y="241" width="5" height="1" fill="#000" shape-rendering="crispEdges"/>
<rect x="509" y="244" width="6" height="1" fill="#000" shape-rendering="crispEdges"/>
<rect x="521" y="244" width="5" height="1" fill="#000" shape-rendering="crispEdges"/>
<rect x="509" y="246" width="6" height="1" fill="#000" shape-rendering="crispEdges"/>
<rect x="521" y="246" width="5" height="1" fill="#000" shape-rendering="crispEdges"/>
<rect x="509" y="249" width="6" height="1" fill="#000" shape-rendering="crispEdges"/>
<rect x="521" y="249" width="5" height="1" fill="#000" shape-rendering="crispEdges"/>
<rect x="509" y="251" width="6" height="1" fill="#000" shape-rendering="crispEdges"/>
<rect x="521" y="251" width="5" height="1" fill="#000" shape-rendering="crispEdges"/>
<rect x="509" y="254" width="6" height="1" fill="#000" shape-rendering="crispEdges"/>
<rect x="521" y="254" width="5" height="1" fill="#000" shape-rendering="crispEdges"/>
<rect x="509" y="256" width="6" height="1" fill="#000" shape-rendering="crispEdges"/>
<rect x="521" y="256" width="5" height="1" fill="#000" shape-rendering="crispEdges"/>
<rect x="509" y="259" width="6" height="1" fill="#000" shape-rendering="crispEdges"/>
<rect x="521" y="259" width="5" height="1" fill="#000" shape-rendering="crispEdges"/>
<rect x="509" y="261" width="6" height="1" fill="#000" shape-rendering="crispEdges"/>
<rect x="521" y="261" width="5" height="1" fill="#000" shape-rendering="crispEdges"/>
<rect x="509" y="264" width="6" height="1" fill="#000" shape-rendering="crispEdges"/>
<rect x="521" y="264" width="5" height="1" fill="#000" shape-rendering="crispEdges"/>
<rect x="509" y="267" width="6" height="1" fill="#000" shape-rendering="crispEdges"/>
<rect x="521" y="267" width="5" height="1" fill="#000" shape-rendering="crispEdges"/>
<rect x="509" y="269" width="6" height="1" fill="#000" shape-rendering="crispEdges"/>
<rect x="521" y="269" width="5" height="1" fill="#000" shape-rendering="crispEdges"/>
<rect x="509" y="272" width="6" height="1" fill="#000" shape-rendering="crispEdges"/>
<rect x="521" y="272" width="5" height="1" fill="#000" shape-rendering="crispEdges"/>
<rect x="509" y="274" width="6" height="1" fill="#000" shape-rendering="crispEdges"/>
<rect x="521" y="274" width="5" height="1" fill="#000" shape-rendering="crispEdges"/>
<rect x="509" y="277" width="6" height="1" fill="#000" shape-rendering="crispEdges"/>
<rect x="521" y="277" width="5" height="1" fill="#000" shape-rendering="crispEdges"/>
<rect x="509" y="279" width="6" height="1" fill="#000" shape-rendering="crispEdges"/>
<rect x="521" y="279" width="5" height="1" fill="#000" shape-rendering="crispEdges"/>
<rect x="509" y="282" width="6" height="1" fill="#000" shape-rendering="crispEdges"/>
<rect x="521" y="282" width="5" height="1" fill="#000" shape-rendering="crispEdges"/>
<rect x="509" y="284" width="6" height="1" fill="#000" shape-rendering="crispEdges"/>
<rect x="521" y="284" width="5" height="1" fill="#000" shape-rendering="crispEdges"/>
<rect x="509" y="287" width="6" height="1" fill="#000" shape-rendering="crispEdges"/>
<rect x="521" y="287" width="5" height="1" fill="#000" shape-rendering="crispEdges"/>
<rect x="509" y="290" width="6" height="1" fill="#000" shape-rendering="crispEdges"/>
<rect x="521" y="290" width="5" height="1" fill="#000" shape-rendering="crispEdges"/>
<rect x="509" y="292" width="6" height="1" fill="#000" shape-rendering="crispEdges"/>
<rect x="521" y="292" width="5" height="1" fill="#000" shape-rendering="crispEdges"/>
<rect x="509" y="295" width="6" height="1" fill="#000" shape-rendering="crispEdges"/>
<rect x="521" y="295" width="5" height="1" fill="#000" shape-rendering="crispEdges"/>
<rect x="509" y="297" width="6" height="1" fill="#000" shape-rendering="crispEdges"/>
<rect x="521" y="297" width="5" height="1" fill="#000" shape-rendering="crispEdges"/>
<rect x="509" y="300" width="6" height="1" fill="#000" shape-rendering="crispEdges"/>
<rect x="521" y="300" width="5" height="1" fill="#000" shape-rendering="crispEdges"/>
<rect x="509" y="302" width="6" height="1" fill="#000" shape-rendering="crispEdges"/>
<rect x="521" y="302" width="5" height="1" fill="#000" shape-rendering="crispEdges"/>
<rect x="509" y="305" width="6" height="1" fill="#000" shape-rendering="crispEdges"/>
<rect x="521" y="305" width="5" height="1" fill="#000" shape-rendering="crispEdges"/>
<rect x="509" y="308" width="6" height="1" fill="#000" shape-rendering="crispEdges"/>
<rect x="521" y="308" width="5" height="1" fill="#000" shape-rendering="crispEdges"/>
<rect x="509" y="310" width="6" height="1" fill="#000" shape-rendering="crispEdges"/>
<rect x="521" y="310" width="5" height="1" fill="#000" shape-rendering="crispEdges"/>
<rect x="509" y="313" width="6" height="1" fill="#000" shape-rendering="crispEdges"/>
<rect x="521" y="313" width="5" height="1" fill="#000" shape-rendering="crispEdges"/>
<rect x="509" y="315" width="6" height="1" fill="#000" shape-rendering="crispEdges"/>
<rect x="521" y="315" width="5" height="1" fill="#000" shape-rendering="crispEdges"/>
<rect x="509" y="318" width="6" height="1" fill="#000" shape-rendering="crispEdges"/>
<rect x="521" y="318" width="5" height="1" fill="#000" shape-rendering="crispEdges"/>
<rect x="509" y="320" width="6" height="1" fill="#000" shape-rendering="crispEdges"/>
<rect x="521" y="320" width="5" height="1" fill="#000" shape-rendering="crispEdges"/>
<rect x="509" y="333" width="6" height="1" fill="#000" shape-rendering="crispEdges"/>
<rect x="521" y="333" width="5" height="1" fill="#000" shape-rendering="crispEdges"/>
<rect x="509" y="336" width="6" height="1" fill="#000" shape-rendering="crispEdges"/>
<rect x="521" y="336" width="5" height="1" fill="#000" shape-rendering="crispEdges"/>
<rect x="509" y="338" width="6" height="1" fill="#000" shape-rendering="crispEdges"/>
<rect x="521" y="338" width="5" height="1" fill="#000" shape-rendering="crispEdges"/>
<rect x="509" y="341" width="6" height="1" fill="#000" shape-rendering="crispEdges"/>
<rect x="521" y="341" width="5" height="1" fill="#000" shape-rendering="crispEdges"/>
<rect x="509" y="343" width="6" height="1" fill="#000" shape-rendering="crispEdges"/>
<rect x="521" y="343" width="5" height="1" fill="#000" shape-rendering="crispEdges"/>
<rect x="509" y="346" width="6" height="1" fill="#000" shape-rendering="crispEdges"/>
<rect x="521" y="346" width="5" height="1" fill="#000" shape-rendering="crispEdges"/>
<rect x="509" y="349" width="6" height="1" fill="#000" shape-rendering="crispEdges"/>
<rect x="521" y="349" width="5" height="1" fill="#000" shape-rendering="crispEdges"/>
<rect x="509" y="351" width="6" height="1" fill="#000" shape-rendering="crispEdges"/>
<rect x="521" y="351" width="5" height="1" fill="#000" shape-rendering="crispEdges"/>
<rect x="509" y="354" width="6" height="1" fill="#000" shape-rendering="crispEdges"/>
<rect x="521" y="354" width="5" height="1" fill="#000" shape-rendering="crispEdges"/>
<rect x="509" y="356" width="6" height="1" fill="#000" shape-rendering="crispEdges"/>
<rect x="521" y="356" width="5" height="1" fill="#000" shape-rendering="crispEdges"/>
<rect x="509" y="359" width="6" height="1" fill="#000" shape-rendering="crispEdges"/>
<rect x="521" y="359" width="5" height="1" fill="#000" shape-rendering="crispEdges"/>
<rect x="509" y="361" width="6" height="1" fill="#000" shape-rendering="crispEdges"/>
<rect x="521" y="361" width="5" height="1" fill="#000" shape-rendering="crispEdges"/>
<rect x="509" y="364" width="6" height="1" fill="#000" shape-rendering="crispEdges"/>
<rect x="521" y="364" width="5" height="1" fill="#000" shape-rendering="crispEdges"/>
<rect x="509" y="366" width="6" height="1" fill="#000" shape-rendering="crispEdges"/>
<rect x="521" y="366" width="5" height="1" fill="#000" shape-rendering="crispEdges"/>
<rect x="509" y="369" width="6" height="1" fill="#000" shape-rendering="crispEdges"/>
<rect x="521" y="369" width="5" height="1" fill="#000" shape-rendering="crispEdges"/>
<rect x="509" y="372" width="6" height="1" fill="#000" shape-rendering="crispEdges"/>
<rect x="521" y="372" width="5" height="1" fill="#000" shape-rendering="crispEdges"/>
<rect x="509" y="374" width="6" height="1" fill="#000" shape-rendering="crispEdges"/>
<rect x="521" y="374" width="5" height="1" fill="#000" shape-rendering="crispEdges"/>
<rect x="509" y="377" width="6" height="1" fill="#000" shape-rendering="crispEdges"/>
<rect x="521" y="377" width="5" height="1" fill="#000" shape-rendering="crispEdges"/>
<rect x="509" y="379" width="6" height="1" fill="#000" shape-rendering="crispEdges"/>
<rect x="521" y="379" width="5" height="1" fill="#000" shape-rendering="crispEdges"/>
<rect x="509" y="382" width="6" height="1" fill="#000" shape-rendering="crispEdges"/>
<rect x="521" y="382" width="5" height="1" fill="#000" shape-rendering="crispEdges"/>
<rect x="509" y="384" width="6" height="1" fill="#000" shape-rendering="crispEdges"/>
<rect x="521" y="384" width="5" height="1" fill="#000" shape-rendering="crispEdges"/>
<rect x="509" y="387" width="6" height="1" fill="#000" shape-rendering="crispEdges"/>
<rect x="521" y="387" width="5" height="1" fill="#000" shape-rendering="crispEdges"/>
<rect x="509" y="390" width="6" height="1" fill="#000" shape-rendering="crispEdges"/>
<rect x="521" y="390" width="5" height="1" fill="#000" shape-rendering="crispEdges"/>
<rect x="509" y="392" width="6" height="1" fill="#000" shape-rendering="crispEdges"/>
<rect x="521" y="392" width="5" height="1" fill="#000" shape-rendering="crispEdges"/>
<rect x="509" y="395" width="6" height="1" fill="#000" shape-rendering="crispEdges"/>
<rect x="521" y="395" width="5" height="1" fill="#000" shape-rendering="crispEdges"/>
<rect x="509" y="397" width="6" height="1" fill="#000" shape-rendering="crispEdges"/>
<rect x="521" y="397" width="5" height="1" fill="#000" shape-rendering="crispEdges"/>
<rect x="509" y="400" width="6" height="1" fill="#000" shape-rendering="crispEdges"/>
<rect x="521" y="400" width="5" height="1" fill="#000" shape-rendering="crispEdges"/>
<rect x="509" y="402" width="6" height="1" fill="#000" shape-rendering="crispEdges"/>
<rect x="521" y="402" width="5" height="1" fill="#000" shape-rendering="crispEdges"/>
<rect x="538.30" y="57.70" width="5.90" height="348.10" fill="#b6b6ba"/>
<rect x="532.10" y="49.90" width="16.80" height="7.80" fill="#000"/>
<rect x="532.10" y="324.00" width="16.80" height="7.00" fill="#000"/>
<rect x="532.10" y="405.80" width="16.80" height="7.10" fill="#000"/>
<rect x="532" y="59" width="6" height="1" fill="#000" shape-rendering="crispEdges"/>
<rect x="544" y="59" width="5" height="1" fill="#000" shape-rendering="crispEdges"/>
<rect x="532" y="62" width="6" height="1" fill="#000" shape-rendering="crispEdges"/>
<rect x="544" y="62" width="5" height="1" fill="#000" shape-rendering="crispEdges"/>
<rect x="532" y="64" width="6" height="1" fill="#000" shape-rendering="crispEdges"/>
<rect x="544" y="64" width="5" height="1" fill="#000" shape-rendering="crispEdges"/>
<rect x="532" y="67" width="6" height="1" fill="#000" shape-rendering="crispEdges"/>
<rect x="544" y="67" width="5" height="1" fill="#000" shape-rendering="crispEdges"/>
<rect x="532" y="69" width="6" height="1" fill="#000" shape-rendering="crispEdges"/>
<rect x="544" y="69" width="5" height="1" fill="#000" shape-rendering="crispEdges"/>
<rect x="532" y="72" width="6" height="1" fill="#000" shape-rendering="crispEdges"/>
<rect x="544" y="72" width="5" height="1" fill="#000" shape-rendering="crispEdges"/>
<rect x="532" y="74" width="6" height="1" fill="#000" shape-rendering="crispEdges"/>
<rect x="544" y="74" width="5" height="1" fill="#000" shape-rendering="crispEdges"/>
<rect x="532" y="77" width="6" height="1" fill="#000" shape-rendering="crispEdges"/>
<rect x="544" y="77" width="5" height="1" fill="#000" shape-rendering="crispEdges"/>
<rect x="532" y="80" width="6" height="1" fill="#000" shape-rendering="crispEdges"/>
<rect x="544" y="80" width="5" height="1" fill="#000" shape-rendering="crispEdges"/>
<rect x="532" y="82" width="6" height="1" fill="#000" shape-rendering="crispEdges"/>
<rect x="544" y="82" width="5" height="1" fill="#000" shape-rendering="crispEdges"/>
<rect x="532" y="85" width="6" height="1" fill="#000" shape-rendering="crispEdges"/>
<rect x="544" y="85" width="5" height="1" fill="#000" shape-rendering="crispEdges"/>
<rect x="532" y="87" width="6" height="1" fill="#000" shape-rendering="crispEdges"/>
<rect x="544" y="87" width="5" height="1" fill="#000" shape-rendering="crispEdges"/>
<rect x="532" y="90" width="6" height="1" fill="#000" shape-rendering="crispEdges"/>
<rect x="544" y="90" width="5" height="1" fill="#000" shape-rendering="crispEdges"/>
<rect x="532" y="92" width="6" height="1" fill="#000" shape-rendering="crispEdges"/>
<rect x="544" y="92" width="5" height="1" fill="#000" shape-rendering="crispEdges"/>
<rect x="532" y="95" width="6" height="1" fill="#000" shape-rendering="crispEdges"/>
<rect x="544" y="95" width="5" height="1" fill="#000" shape-rendering="crispEdges"/>
<rect x="532" y="97" width="6" height="1" fill="#000" shape-rendering="crispEdges"/>
<rect x="544" y="97" width="5" height="1" fill="#000" shape-rendering="crispEdges"/>
<rect x="532" y="100" width="6" height="1" fill="#000" shape-rendering="crispEdges"/>
<rect x="544" y="100" width="5" height="1" fill="#000" shape-rendering="crispEdges"/>
<rect x="532" y="103" width="6" height="1" fill="#000" shape-rendering="crispEdges"/>
<rect x="544" y="103" width="5" height="1" fill="#000" shape-rendering="crispEdges"/>
<rect x="532" y="105" width="6" height="1" fill="#000" shape-rendering="crispEdges"/>
<rect x="544" y="105" width="5" height="1" fill="#000" shape-rendering="crispEdges"/>
<rect x="532" y="108" width="6" height="1" fill="#000" shape-rendering="crispEdges"/>
<rect x="544" y="108" width="5" height="1" fill="#000" shape-rendering="crispEdges"/>
<rect x="532" y="110" width="6" height="1" fill="#000" shape-rendering="crispEdges"/>
<rect x="544" y="110" width="5" height="1" fill="#000" shape-rendering="crispEdges"/>
<rect x="532" y="113" width="6" height="1" fill="#000" shape-rendering="crispEdges"/>
<rect x="544" y="113" width="5" height="1" fill="#000" shape-rendering="crispEdges"/>
<rect x="532" y="115" width="6" height="1" fill="#000" shape-rendering="crispEdges"/>
<rect x="544" y="115" width="5" height="1" fill="#000" shape-rendering="crispEdges"/>
<rect x="532" y="118" width="6" height="1" fill="#000" shape-rendering="crispEdges"/>
<rect x="544" y="118" width="5" height="1" fill="#000" shape-rendering="crispEdges"/>
<rect x="532" y="120" width="6" height="1" fill="#000" shape-rendering="crispEdges"/>
<rect x="544" y="120" width="5" height="1" fill="#000" shape-rendering="crispEdges"/>
<rect x="532" y="123" width="6" height="1" fill="#000" shape-rendering="crispEdges"/>
<rect x="544" y="123" width="5" height="1" fill="#000" shape-rendering="crispEdges"/>
<rect x="532" y="126" width="6" height="1" fill="#000" shape-rendering="crispEdges"/>
<rect x="544" y="126" width="5" height="1" fill="#000" shape-rendering="crispEdges"/>
<rect x="532" y="128" width="6" height="1" fill="#000" shape-rendering="crispEdges"/>
<rect x="544" y="128" width="5" height="1" fill="#000" shape-rendering="crispEdges"/>
<rect x="532" y="131" width="6" height="1" fill="#000" shape-rendering="crispEdges"/>
<rect x="544" y="131" width="5" height="1" fill="#000" shape-rendering="crispEdges"/>
<rect x="532" y="133" width="6" height="1" fill="#000" shape-rendering="crispEdges"/>
<rect x="544" y="133" width="5" height="1" fill="#000" shape-rendering="crispEdges"/>
<rect x="532" y="136" width="6" height="1" fill="#000" shape-rendering="crispEdges"/>
<rect x="544" y="136" width="5" height="1" fill="#000" shape-rendering="crispEdges"/>
<rect x="532" y="138" width="6" height="1" fill="#000" shape-rendering="crispEdges"/>
<rect x="544" y="138" width="5" height="1" fill="#000" shape-rendering="crispEdges"/>
<rect x="532" y="141" width="6" height="1" fill="#000" shape-rendering="crispEdges"/>
<rect x="544" y="141" width="5" height="1" fill="#000" shape-rendering="crispEdges"/>
<rect x="532" y="144" width="6" height="1" fill="#000" shape-rendering="crispEdges"/>
<rect x="544" y="144" width="5" height="1" fill="#000" shape-rendering="crispEdges"/>
<rect x="532" y="146" width="6" height="1" fill="#000" shape-rendering="crispEdges"/>
<rect x="544" y="146" width="5" height="1" fill="#000" shape-rendering="crispEdges"/>
<rect x="532" y="149" width="6" height="1" fill="#000" shape-rendering="crispEdges"/>
<rect x="544" y="149" width="5" height="1" fill="#000" shape-rendering="crispEdges"/>
<rect x="532" y="151" width="6" height="1" fill="#000" shape-rendering="crispEdges"/>
<rect x="544" y="151" width="5" height="1" fill="#000" shape-rendering="crispEdges"/>
<rect x="532" y="154" width="6" height="1" fill="#000" shape-rendering="crispEdges"/>
<rect x="544" y="154" width="5" height="1" fill="#000" shape-rendering="crispEdges"/>
<rect x="532" y="156" width="6" height="1" fill="#000" shape-rendering="crispEdges"/>
<rect x="544" y="156" width="5" height="1" fill="#000" shape-rendering="crispEdges"/>
<rect x="532" y="159" width="6" height="1" fill="#000" shape-rendering="crispEdges"/>
<rect x="544" y="159" width="5" height="1" fill="#000" shape-rendering="crispEdges"/>
<rect x="532" y="162" width="6" height="1" fill="#000" shape-rendering="crispEdges"/>
<rect x="544" y="162" width="5" height="1" fill="#000" shape-rendering="crispEdges"/>
<rect x="532" y="164" width="6" height="1" fill="#000" shape-rendering="crispEdges"/>
<rect x="544" y="164" width="5" height="1" fill="#000" shape-rendering="crispEdges"/>
<rect x="532" y="167" width="6" height="1" fill="#000" shape-rendering="crispEdges"/>
<rect x="544" y="167" width="5" height="1" fill="#000" shape-rendering="crispEdges"/>
<rect x="532" y="169" width="6" height="1" fill="#000" shape-rendering="crispEdges"/>
<rect x="544" y="169" width="5" height="1" fill="#000" shape-rendering="crispEdges"/>
<rect x="532" y="172" width="6" height="1" fill="#000" shape-rendering="crispEdges"/>
<rect x="544" y="172" width="5" height="1" fill="#000" shape-rendering="crispEdges"/>
<rect x="532" y="174" width="6" height="1" fill="#000" shape-rendering="crispEdges"/>
<rect x="544" y="174" width="5" height="1" fill="#000" shape-rendering="crispEdges"/>
<rect x="532" y="177" width="6" height="1" fill="#000" shape-rendering="crispEdges"/>
<rect x="544" y="177" width="5" height="1" fill="#000" shape-rendering="crispEdges"/>
<rect x="532" y="179" width="6" height="1" fill="#000" shape-rendering="crispEdges"/>
<rect x="544" y="179" width="5" height="1" fill="#000" shape-rendering="crispEdges"/>
<rect x="532" y="182" width="6" height="1" fill="#000" shape-rendering="crispEdges"/>
<rect x="544" y="182" width="5" height="1" fill="#000" shape-rendering="crispEdges"/>
<rect x="532" y="185" width="6" height="1" fill="#000" shape-rendering="crispEdges"/>
<rect x="544" y="185" width="5" height="1" fill="#000" shape-rendering="crispEdges"/>
<rect x="532" y="187" width="6" height="1" fill="#000" shape-rendering="crispEdges"/>
<rect x="544" y="187" width="5" height="1" fill="#000" shape-rendering="crispEdges"/>
<rect x="532" y="190" width="6" height="1" fill="#000" shape-rendering="crispEdges"/>
<rect x="544" y="190" width="5" height="1" fill="#000" shape-rendering="crispEdges"/>
<rect x="532" y="192" width="6" height="1" fill="#000" shape-rendering="crispEdges"/>
<rect x="544" y="192" width="5" height="1" fill="#000" shape-rendering="crispEdges"/>
<rect x="532" y="195" width="6" height="1" fill="#000" shape-rendering="crispEdges"/>
<rect x="544" y="195" width="5" height="1" fill="#000" shape-rendering="crispEdges"/>
<rect x="532" y="197" width="6" height="1" fill="#000" shape-rendering="crispEdges"/>
<rect x="544" y="197" width="5" height="1" fill="#000" shape-rendering="crispEdges"/>
<rect x="532" y="200" width="6" height="1" fill="#000" shape-rendering="crispEdges"/>
<rect x="544" y="200" width="5" height="1" fill="#000" shape-rendering="crispEdges"/>
<rect x="532" y="202" width="6" height="1" fill="#000" shape-rendering="crispEdges"/>
<rect x="544" y="202" width="5" height="1" fill="#000" shape-rendering="crispEdges"/>
<rect x="532" y="205" width="6" height="1" fill="#000" shape-rendering="crispEdges"/>
<rect x="544" y="205" width="5" height="1" fill="#000" shape-rendering="crispEdges"/>
<rect x="532" y="208" width="6" height="1" fill="#000" shape-rendering="crispEdges"/>
<rect x="544" y="208" width="5" height="1" fill="#000" shape-rendering="crispEdges"/>
<rect x="532" y="210" width="6" height="1" fill="#000" shape-rendering="crispEdges"/>
<rect x="544" y="210" width="5" height="1" fill="#000" shape-rendering="crispEdges"/>
<rect x="532" y="213" width="6" height="1" fill="#000" shape-rendering="crispEdges"/>
<rect x="544" y="213" width="5" height="1" fill="#000" shape-rendering="crispEdges"/>
<rect x="532" y="215" width="6" height="1" fill="#000" shape-rendering="crispEdges"/>
<rect x="544" y="215" width="5" height="1" fill="#000" shape-rendering="crispEdges"/>
<rect x="532" y="218" width="6" height="1" fill="#000" shape-rendering="crispEdges"/>
<rect x="544" y="218" width="5" height="1" fill="#000" shape-rendering="crispEdges"/>
<rect x="532" y="220" width="6" height="1" fill="#000" shape-rendering="crispEdges"/>
<rect x="544" y="220" width="5" height="1" fill="#000" shape-rendering="crispEdges"/>
<rect x="532" y="223" width="6" height="1" fill="#000" shape-rendering="crispEdges"/>
<rect x="544" y="223" width="5" height="1" fill="#000" shape-rendering="crispEdges"/>
<rect x="532" y="226" width="6" height="1" fill="#000" shape-rendering="crispEdges"/>
<rect x="544" y="226" width="5" height="1" fill="#000" shape-rendering="crispEdges"/>
<rect x="532" y="228" width="6" height="1" fill="#000" shape-rendering="crispEdges"/>
<rect x="544" y="228" width="5" height="1" fill="#000" shape-rendering="crispEdges"/>
<rect x="532" y="231" width="6" height="1" fill="#000" shape-rendering="crispEdges"/>
<rect x="544" y="231" width="5" height="1" fill="#000" shape-rendering="crispEdges"/>
<rect x="532" y="233" width="6" height="1" fill="#000" shape-rendering="crispEdges"/>
<rect x="544" y="233" width="5" height="1" fill="#000" shape-rendering="crispEdges"/>
<rect x="532" y="236" width="6" height="1" fill="#000" shape-rendering="crispEdges"/>
<rect x="544" y="236" width="5" height="1" fill="#000" shape-rendering="crispEdges"/>
<rect x="532" y="238" width="6" height="1" fill="#000" shape-rendering="crispEdges"/>
<rect x="544" y="238" width="5" height="1" fill="#000" shape-rendering="crispEdges"/>
<rect x="532" y="241" width="6" height="1" fill="#000" shape-rendering="crispEdges"/>
<rect x="544" y="241" width="5" height="1" fill="#000" shape-rendering="crispEdges"/>
<rect x="532" y="244" width="6" height="1" fill="#000" shape-rendering="crispEdges"/>
<rect x="544" y="244" width="5" height="1" fill="#000" shape-rendering="crispEdges"/>
<rect x="532" y="246" width="6" height="1" fill="#000" shape-rendering="crispEdges"/>
<rect x="544" y="246" width="5" height="1" fill="#000" shape-rendering="crispEdges"/>
<rect x="532" y="249" width="6" height="1" fill="#000" shape-rendering="crispEdges"/>
<rect x="544" y="249" width="5" height="1" fill="#000" shape-rendering="crispEdges"/>
<rect x="532" y="251" width="6" height="1" fill="#000" shape-rendering="crispEdges"/>
<rect x="544" y="251" width="5" height="1" fill="#000" shape-rendering="crispEdges"/>
<rect x="532" y="254" width="6" height="1" fill="#000" shape-rendering="crispEdges"/>
<rect x="544" y="254" width="5" height="1" fill="#000" shape-rendering="crispEdges"/>
<rect x="532" y="256" width="6" height="1" fill="#000" shape-rendering="crispEdges"/>
<rect x="544" y="256" width="5" height="1" fill="#000" shape-rendering="crispEdges"/>
<rect x="532" y="259" width="6" height="1" fill="#000" shape-rendering="crispEdges"/>
<rect x="544" y="259" width="5" height="1" fill="#000" shape-rendering="crispEdges"/>
<rect x="532" y="261" width="6" height="1" fill="#000" shape-rendering="crispEdges"/>
<rect x="544" y="261" width="5" height="1" fill="#000" shape-rendering="crispEdges"/>
<rect x="532" y="264" width="6" height="1" fill="#000" shape-rendering="crispEdges"/>
<rect x="544" y="264" width="5" height="1" fill="#000" shape-rendering="crispEdges"/>
<rect x="532" y="267" width="6" height="1" fill="#000" shape-rendering="crispEdges"/>
<rect x="544" y="267" width="5" height="1" fill="#000" shape-rendering="crispEdges"/>
<rect x="532" y="269" width="6" height="1" fill="#000" shape-rendering="crispEdges"/>
<rect x="544" y="269" width="5" height="1" fill="#000" shape-rendering="crispEdges"/>
<rect x="532" y="272" width="6" height="1" fill="#000" shape-rendering="crispEdges"/>
<rect x="544" y="272" width="5" height="1" fill="#000" shape-rendering="crispEdges"/>
<rect x="532" y="274" width="6" height="1" fill="#000" shape-rendering="crispEdges"/>
<rect x="544" y="274" width="5" height="1" fill="#000" shape-rendering="crispEdges"/>
<rect x="532" y="277" width="6" height="1" fill="#000" shape-rendering="crispEdges"/>
<rect x="544" y="277" width="5" height="1" fill="#000" shape-rendering="crispEdges"/>
<rect x="532" y="279" width="6" height="1" fill="#000" shape-rendering="crispEdges"/>
<rect x="544" y="279" width="5" height="1" fill="#000" shape-rendering="crispEdges"/>
<rect x="532" y="282" width="6" height="1" fill="#000" shape-rendering="crispEdges"/>
<rect x="544" y="282" width="5" height="1" fill="#000" shape-rendering="crispEdges"/>
<rect x="532" y="284" width="6" height="1" fill="#000" shape-rendering="crispEdges"/>
<rect x="544" y="284" width="5" height="1" fill="#000" shape-rendering="crispEdges"/>
<rect x="532" y="287" width="6" height="1" fill="#000" shape-rendering="crispEdges"/>
<rect x="544" y="287" width="5" height="1" fill="#000" shape-rendering="crispEdges"/>
<rect x="532" y="290" width="6" height="1" fill="#000" shape-rendering="crispEdges"/>
<rect x="544" y="290" width="5" height="1" fill="#000" shape-rendering="crispEdges"/>
<rect x="532" y="292" width="6" height="1" fill="#000" shape-rendering="crispEdges"/>
<rect x="544" y="292" width="5" height="1" fill="#000" shape-rendering="crispEdges"/>
<rect x="532" y="295" width="6" height="1" fill="#000" shape-rendering="crispEdges"/>
<rect x="544" y="295" width="5" height="1" fill="#000" shape-rendering="crispEdges"/>
<rect x="532" y="297" width="6" height="1" fill="#000" shape-rendering="crispEdges"/>
<rect x="544" y="297" width="5" height="1" fill="#000" shape-rendering="crispEdges"/>
<rect x="532" y="300" width="6" height="1" fill="#000" shape-rendering="crispEdges"/>
<rect x="544" y="300" width="5" height="1" fill="#000" shape-rendering="crispEdges"/>
<rect x="532" y="302" width="6" height="1" fill="#000" shape-rendering="crispEdges"/>
<rect x="544" y="302" width="5" height="1" fill="#000" shape-rendering="crispEdges"/>
<rect x="532" y="305" width="6" height="1" fill="#000" shape-rendering="crispEdges"/>
<rect x="544" y="305" width="5" height="1" fill="#000" shape-rendering="crispEdges"/>
<rect x="532" y="308" width="6" height="1" fill="#000" shape-rendering="crispEdges"/>
<rect x="544" y="308" width="5" height="1" fill="#000" shape-rendering="crispEdges"/>
<rect x="532" y="310" width="6" height="1" fill="#000" shape-rendering="crispEdges"/>
<rect x="544" y="310" width="5" height="1" fill="#000" shape-rendering="crispEdges"/>
<rect x="532" y="313" width="6" height="1" fill="#000" shape-rendering="crispEdges"/>
<rect x="544" y="313" width="5" height="1" fill="#000" shape-rendering="crispEdges"/>
<rect x="532" y="315" width="6" height="1" fill="#000" shape-rendering="crispEdges"/>
<rect x="544" y="315" width="5" height="1" fill="#000" shape-rendering="crispEdges"/>
<rect x="532" y="318" width="6" height="1" fill="#000" shape-rendering="crispEdges"/>
<rect x="544" y="318" width="5" height="1" fill="#000" shape-rendering="crispEdges"/>
<rect x="532" y="320" width="6" height="1" fill="#000" shape-rendering="crispEdges"/>
<rect x="544" y="320" width="5" height="1" fill="#000" shape-rendering="crispEdges"/>
<rect x="532" y="333" width="6" height="1" fill="#000" shape-rendering="crispEdges"/>
<rect x="544" y="333" width="5" height="1" fill="#000" shape-rendering="crispEdges"/>
<rect x="532" y="336" width="6" height="1" fill="#000" shape-rendering="crispEdges"/>
<rect x="544" y="336" width="5" height="1" fill="#000" shape-rendering="crispEdges"/>
<rect x="532" y="338" width="6" height="1" fill="#000" shape-rendering="crispEdges"/>
<rect x="544" y="338" width="5" height="1" fill="#000" shape-rendering="crispEdges"/>
<rect x="532" y="341" width="6" height="1" fill="#000" shape-rendering="crispEdges"/>
<rect x="544" y="341" width="5" height="1" fill="#000" shape-rendering="crispEdges"/>
<rect x="532" y="343" width="6" height="1" fill="#000" shape-rendering="crispEdges"/>
<rect x="544" y="343" width="5" height="1" fill="#000" shape-rendering="crispEdges"/>
<rect x="532" y="346" width="6" height="1" fill="#000" shape-rendering="crispEdges"/>
<rect x="544" y="346" width="5" height="1" fill="#000" shape-rendering="crispEdges"/>
<rect x="532" y="349" width="6" height="1" fill="#000" shape-rendering="crispEdges"/>
<rect x="544" y="349" width="5" height="1" fill="#000" shape-rendering="crispEdges"/>
<rect x="532" y="351" width="6" height="1" fill="#000" shape-rendering="crispEdges"/>
<rect x="544" y="351" width="5" height="1" fill="#000" shape-rendering="crispEdges"/>
<rect x="532" y="354" width="6" height="1" fill="#000" shape-rendering="crispEdges"/>
<rect x="544" y="354" width="5" height="1" fill="#000" shape-rendering="crispEdges"/>
<rect x="532" y="356" width="6" height="1" fill="#000" shape-rendering="crispEdges"/>
<rect x="544" y="356" width="5" height="1" fill="#000" shape-rendering="crispEdges"/>
<rect x="532" y="359" width="6" height="1" fill="#000" shape-rendering="crispEdges"/>
<rect x="544" y="359" width="5" height="1" fill="#000" shape-rendering="crispEdges"/>
<rect x="532" y="361" width="6" height="1" fill="#000" shape-rendering="crispEdges"/>
<rect x="544" y="361" width="5" height="1" fill="#000" shape-rendering="crispEdges"/>
<rect x="532" y="364" width="6" height="1" fill="#000" shape-rendering="crispEdges"/>
<rect x="544" y="364" width="5" height="1" fill="#000" shape-rendering="crispEdges"/>
<rect x="532" y="366" width="6" height="1" fill="#000" shape-rendering="crispEdges"/>
<rect x="544" y="366" width="5" height="1" fill="#000" shape-rendering="crispEdges"/>
<rect x="532" y="369" width="6" height="1" fill="#000" shape-rendering="crispEdges"/>
<rect x="544" y="369" width="5" height="1" fill="#000" shape-rendering="crispEdges"/>
<rect x="532" y="372" width="6" height="1" fill="#000" shape-rendering="crispEdges"/>
<rect x="544" y="372" width="5" height="1" fill="#000" shape-rendering="crispEdges"/>
<rect x="532" y="374" width="6" height="1" fill="#000" shape-rendering="crispEdges"/>
<rect x="544" y="374" width="5" height="1" fill="#000" shape-rendering="crispEdges"/>
<rect x="532" y="377" width="6" height="1" fill="#000" shape-rendering="crispEdges"/>
<rect x="544" y="377" width="5" height="1" fill="#000" shape-rendering="crispEdges"/>
<rect x="532" y="379" width="6" height="1" fill="#000" shape-rendering="crispEdges"/>
<rect x="544" y="379" width="5" height="1" fill="#000" shape-rendering="crispEdges"/>
<rect x="532" y="382" width="6" height="1" fill="#000" shape-rendering="crispEdges"/>
<rect x="544" y="382" width="5" height="1" fill="#000" shape-rendering="crispEdges"/>
<rect x="532" y="384" width="6" height="1" fill="#000" shape-rendering="crispEdges"/>
<rect x="544" y="384" width="5" height="1" fill="#000" shape-rendering="crispEdges"/>
<rect x="532" y="387" width="6" height="1" fill="#000" shape-rendering="crispEdges"/>
<rect x="544" y="387" width="5" height="1" fill="#000" shape-rendering="crispEdges"/>
<rect x="532" y="390" width="6" height="1" fill="#000" shape-rendering="crispEdges"/>
<rect x="544" y="390" width="5" height="1" fill="#000" shape-rendering="crispEdges"/>
<rect x="532" y="392" width="6" height="1" fill="#000" shape-rendering="crispEdges"/>
<rect x="544" y="392" width="5" height="1" fill="#000" shape-rendering="crispEdges"/>
<rect x="532" y="395" width="6" height="1" fill="#000" shape-rendering="crispEdges"/>
<rect x="544" y="395" width="5" height="1" fill="#000" shape-rendering="crispEdges"/>
<rect x="532" y="397" width="6" height="1" fill="#000" shape-rendering="crispEdges"/>
<rect x="544" y="397" width="5" height="1" fill="#000" shape-rendering="crispEdges"/>
<rect x="532" y="400" width="6" height="1" fill="#000" shape-rendering="crispEdges"/>
<rect x="544" y="400" width="5" height="1" fill="#000" shape-rendering="crispEdges"/>
<rect x="532" y="402" width="6" height="1" fill="#000" shape-rendering="crispEdges"/>
<rect x="544" y="402" width="5" height="1" fill="#000" shape-rendering="crispEdges"/>
<path d="M494.40,50.00 L494.40,25.00 L618.20,25.00 L618.20,62.00" fill="none" stroke="#000" stroke-width="2.6" stroke-linejoin="miter" stroke-linecap="butt"/>
<path d="M518.50,50.00 L518.50,34.00 L598.20,34.00 L598.20,62.00" fill="none" stroke="#000" stroke-width="2.6" stroke-linejoin="miter" stroke-linecap="butt"/>
<path d="M541.40,50.00 L541.40,46.20 L577.80,46.20 L577.80,64.00" fill="none" stroke="#000" stroke-width="2.6" stroke-linejoin="miter" stroke-linecap="butt"/>
<text transform="translate(584.60,112.60) rotate(-90) scale(0.8,1)" font-size="17" xml:space="preserve" ><tspan stroke="#000" stroke-width="0.5" letter-spacing="0.2">DIMM 3</tspan></text>
<text transform="translate(603.60,112.60) rotate(-90) scale(0.8,1)" font-size="17" xml:space="preserve" ><tspan stroke="#000" stroke-width="0.5" letter-spacing="0.2">DIMM 2</tspan></text>
<text transform="translate(622.40,112.60) rotate(-90) scale(0.8,1)" font-size="17" xml:space="preserve" ><tspan stroke="#000" stroke-width="0.5" letter-spacing="0.2">DIMM 1</tspan></text>
<rect x="166.70" y="286.60" width="35.70" height="125.10" fill="none" stroke="#000" stroke-width="1.2"/>
<rect x="168.50" y="288.40" width="32.10" height="121.50" fill="none" stroke="#000" stroke-width="1.2"/>
<rect x="167.30" y="287.20" width="34.50" height="123.90" fill="none" stroke="#c8b8a0" stroke-width="0.6"/>
<rect x="182.80" y="288.00" width="1.10" height="122.30" fill="#000"/>
<rect x="185.00" y="288.00" width="1.10" height="122.30" fill="#000"/>
<rect x="183.90" y="288.00" width="1.10" height="122.30" fill="#c8b8c0"/>
<rect x="169" y="300" width="31" height="1" fill="#000" shape-rendering="crispEdges"/>
<rect x="169" y="313" width="31" height="1" fill="#000" shape-rendering="crispEdges"/>
<rect x="169" y="325" width="31" height="1" fill="#000" shape-rendering="crispEdges"/>
<rect x="169" y="338" width="31" height="1" fill="#000" shape-rendering="crispEdges"/>
<rect x="169" y="351" width="31" height="1" fill="#000" shape-rendering="crispEdges"/>
<rect x="169" y="363" width="31" height="1" fill="#000" shape-rendering="crispEdges"/>
<rect x="169" y="375" width="31" height="1" fill="#000" shape-rendering="crispEdges"/>
<rect x="169" y="387" width="31" height="1" fill="#000" shape-rendering="crispEdges"/>
<rect x="169" y="400" width="31" height="1" fill="#000" shape-rendering="crispEdges"/>
<path d="M182.80,300.00 L179.60,300.00 L182.80,303.20 Z" fill="#555"/>
<path d="M182.80,313.00 L179.60,313.00 L182.80,309.80 Z" fill="#555"/>
<path d="M182.80,313.00 L179.60,313.00 L182.80,316.20 Z" fill="#555"/>
<path d="M182.80,325.60 L179.60,325.60 L182.80,322.40 Z" fill="#555"/>
<path d="M182.80,351.10 L179.60,351.10 L182.80,354.30 Z" fill="#555"/>
<path d="M182.80,363.30 L179.60,363.30 L182.80,360.10 Z" fill="#555"/>
<path d="M182.80,363.30 L179.60,363.30 L182.80,366.50 Z" fill="#555"/>
<path d="M182.80,375.50 L179.60,375.50 L182.80,372.30 Z" fill="#555"/>
<path d="M182.80,400.00 L179.60,400.00 L182.80,403.20 Z" fill="#555"/>
<path d="M182.80,409.80 L179.60,409.80 L182.80,406.60 Z" fill="#555"/>
<path d="M200.30,288.60 L197.10,288.60 L200.30,291.80 Z" fill="#555"/>
<path d="M200.30,300.00 L197.10,300.00 L200.30,296.80 Z" fill="#555"/>
<path d="M200.30,325.60 L197.10,325.60 L200.30,328.80 Z" fill="#555"/>
<path d="M200.30,338.40 L197.10,338.40 L200.30,335.20 Z" fill="#555"/>
<path d="M200.30,338.40 L197.10,338.40 L200.30,341.60 Z" fill="#555"/>
<path d="M200.30,351.10 L197.10,351.10 L200.30,347.90 Z" fill="#555"/>
<path d="M200.30,375.50 L197.10,375.50 L200.30,378.70 Z" fill="#555"/>
<path d="M200.30,387.80 L197.10,387.80 L200.30,384.60 Z" fill="#555"/>
<path d="M200.30,387.80 L197.10,387.80 L200.30,391.00 Z" fill="#555"/>
<path d="M200.30,400.00 L197.10,400.00 L200.30,396.80 Z" fill="#555"/>
<rect x="164.3" y="347.5" width="1.8" height="5.6" fill="none" stroke="#000" stroke-width="0.9"/>
<rect x="181.20" y="385.10" width="4.20" height="5.70" fill="#000"/>
<path d="M194.6,285.4 L190.0,272.4 L199.2,272.4 Z"/>
<rect x="193.10" y="264.90" width="3.00" height="8.50" fill="#000"/>
<path d="M195.40,254.50 L207.40,254.50 M195.70,254.20 L199.40,257.90" fill="none" stroke="#000" stroke-width="1.6"/>
<rect x="136.60" y="390.60" width="27.80" height="21.10" fill="none" stroke="#000" stroke-width="1.2"/>
<rect x="138.40" y="392.40" width="24.20" height="17.50" fill="none" stroke="#000" stroke-width="1.2"/>
<rect x="137.20" y="391.20" width="26.60" height="19.90" fill="none" stroke="#c8b8a0" stroke-width="0.6"/>
<rect x="148.90" y="392.40" width="1.10" height="17.50" fill="#000"/>
<rect x="138.60" y="401.00" width="24.00" height="1.10" fill="#000"/>
<rect x="133.8" y="399.6" width="2.2" height="3.4" fill="none" stroke="#000" stroke-width="0.9"/>
<path d="M162.60,392.40 L159.40,392.40 L162.60,395.60 Z" fill="#555"/>
<path d="M162.60,401.00 L159.40,401.00 L162.60,397.80 Z" fill="#555"/>
<path d="M148.90,401.80 L145.70,401.80 L148.90,405.00 Z" fill="#555"/>
<path d="M148.90,409.90 L145.70,409.90 L148.90,406.70 Z" fill="#555"/>
<path d="M120.20,372.60 L120.20,401.20 L134.00,401.20" fill="none" stroke="#000" stroke-width="3" stroke-linejoin="miter" stroke-linecap="butt"/>
<path d="M150.00,369.30 L166.00,369.30" fill="none" stroke="#000" stroke-width="3.5" stroke-linejoin="miter" stroke-linecap="butt"/>
<text transform="translate(127.30,374.40) rotate(-90) scale(0.815,1)" font-size="17" xml:space="preserve" ><tspan stroke="#000" stroke-width="0.5" letter-spacing="0.2">CN15-B:</tspan><tspan stroke="#000" stroke-width="0.25"> ATX 12V Power Supply</tspan></text>
<text transform="translate(146.50,374.20) rotate(-90) scale(0.815,1)" font-size="17" xml:space="preserve" ><tspan stroke="#000" stroke-width="0.5" letter-spacing="0.2">CN15-A:</tspan><tspan stroke="#000" stroke-width="0.25"> ATX 12V Power Supply</tspan></text>
<rect x="64.10" y="331.00" width="23.80" height="51.80" fill="#000"/>
<ellipse cx="71.30" cy="337.80" rx="3.40" ry="3.40" fill="#fff"/>
<ellipse cx="80.70" cy="337.80" rx="3.40" ry="3.40" fill="#fff"/>
<ellipse cx="71.30" cy="347.40" rx="3.40" ry="3.40" fill="#fff"/>
<ellipse cx="80.70" cy="347.40" rx="3.40" ry="3.40" fill="#fff"/>
<ellipse cx="71.30" cy="356.70" rx="3.40" ry="3.40" fill="#fff"/>
<ellipse cx="80.70" cy="356.70" rx="3.40" ry="3.40" fill="#fff"/>
<ellipse cx="80.70" cy="366.00" rx="3.40" ry="3.40" fill="#fff"/>
<ellipse cx="71.30" cy="375.60" rx="3.40" ry="3.40" fill="#fff"/>
<ellipse cx="80.70" cy="375.60" rx="3.40" ry="3.40" fill="#fff"/>
<path d="M70.50,382.70 L70.50,396.50 L27.70,396.50 L27.70,401.00" fill="none" stroke="#000" stroke-width="2.8" stroke-linejoin="miter" stroke-linecap="butt"/>
<path d="M82.5,384 L77.4,399 L87.6,399 Z"/>
<rect x="81.05" y="398.00" width="2.90" height="12.90" fill="#000"/>
<path d="M73.90,415.50 L85.90,415.50 M74.20,415.20 L77.90,418.90" fill="none" stroke="#000" stroke-width="1.6"/>
<text transform="translate(33.30,518.80) rotate(-90) scale(0.808,1)" font-size="17" xml:space="preserve" ><tspan stroke="#000" stroke-width="0.5" letter-spacing="0.2">CN39:</tspan><tspan stroke="#000" stroke-width="0.25"> Front Audio</tspan></text>
<rect x="233.70" y="241.60" width="23.60" height="8.60" fill="#000"/>
<ellipse cx="240.00" cy="245.90" rx="3.60" ry="3.10" fill="#fff"/>
<ellipse cx="250.50" cy="245.90" rx="3.60" ry="3.10" fill="#fff"/>
<path d="M257.00,246.80 L281.00,246.80" fill="none" stroke="#000" stroke-width="3" stroke-linejoin="miter" stroke-linecap="butt"/>
<text transform="translate(297.30,317.60) rotate(-90) scale(0.8,1)" font-size="17" xml:space="preserve" ><tspan stroke="#000" stroke-width="0.5" letter-spacing="0.2">JP4:</tspan><tspan stroke="#000" stroke-width="0.25"> CPU Clock</tspan></text>
<rect x="364.30" y="278.40" width="92.60" height="90.20" fill="#000"/>
<rect x="179.20" y="441.20" width="307.70" height="23.30" fill="#d6d6d6"/>
<rect x="187.00" y="449.70" width="292.20" height="5.90" fill="#fff"/>
<rect x="193.30" y="441.50" width="11.20" height="7.70" fill="#8a8a8a"/>
<rect x="194.10" y="442.30" width="9.60" height="6.10" fill="#fff"/>
<rect x="193.30" y="456.30" width="11.20" height="7.90" fill="#8a8a8a"/>
<rect x="194.10" y="457.10" width="9.60" height="6.30" fill="#fff"/>
<rect x="462.30" y="441.50" width="11.00" height="7.70" fill="#8a8a8a"/>
<rect x="463.10" y="442.30" width="9.40" height="6.10" fill="#fff"/>
<rect x="462.30" y="456.30" width="11.00" height="7.90" fill="#8a8a8a"/>
<rect x="463.10" y="457.10" width="9.40" height="6.30" fill="#fff"/>
<rect x="210" y="441" width="1" height="8" fill="#000" shape-rendering="crispEdges"/>
<rect x="210" y="456" width="1" height="8" fill="#000" shape-rendering="crispEdges"/>
<rect x="214" y="441" width="1" height="8" fill="#000" shape-rendering="crispEdges"/>
<rect x="214" y="456" width="1" height="8" fill="#000" shape-rendering="crispEdges"/>
<rect x="218" y="441" width="1" height="8" fill="#000" shape-rendering="crispEdges"/>
<rect x="218" y="456" width="1" height="8" fill="#000" shape-rendering="crispEdges"/>
<rect x="221" y="441" width="1" height="8" fill="#000" shape-rendering="crispEdges"/>
<rect x="221" y="456" width="1" height="8" fill="#000" shape-rendering="crispEdges"/>
<rect x="225" y="441" width="1" height="8" fill="#000" shape-rendering="crispEdges"/>
<rect x="225" y="456" width="1" height="8" fill="#000" shape-rendering="crispEdges"/>
<rect x="229" y="441" width="1" height="8" fill="#000" shape-rendering="crispEdges"/>
<rect x="229" y="456" width="1" height="8" fill="#000" shape-rendering="crispEdges"/>
<rect x="233" y="441" width="1" height="8" fill="#000" shape-rendering="crispEdges"/>
<rect x="233" y="456" width="1" height="8" fill="#000" shape-rendering="crispEdges"/>
<rect x="236" y="441" width="1" height="8" fill="#000" shape-rendering="crispEdges"/>
<rect x="236" y="456" width="1" height="8" fill="#000" shape-rendering="crispEdges"/>
<rect x="240" y="441" width="1" height="8" fill="#000" shape-rendering="crispEdges"/>
<rect x="240" y="456" width="1" height="8" fill="#000" shape-rendering="crispEdges"/>
<rect x="244" y="441" width="1" height="8" fill="#000" shape-rendering="crispEdges"/>
<rect x="244" y="456" width="1" height="8" fill="#000" shape-rendering="crispEdges"/>
<rect x="248" y="441" width="1" height="8" fill="#000" shape-rendering="crispEdges"/>
<rect x="248" y="456" width="1" height="8" fill="#000" shape-rendering="crispEdges"/>
<rect x="252" y="441" width="1" height="8" fill="#000" shape-rendering="crispEdges"/>
<rect x="252" y="456" width="1" height="8" fill="#000" shape-rendering="crispEdges"/>
<rect x="255" y="441" width="1" height="8" fill="#000" shape-rendering="crispEdges"/>
<rect x="255" y="456" width="1" height="8" fill="#000" shape-rendering="crispEdges"/>
<rect x="259" y="441" width="1" height="8" fill="#000" shape-rendering="crispEdges"/>
<rect x="259" y="456" width="1" height="8" fill="#000" shape-rendering="crispEdges"/>
<rect x="263" y="441" width="1" height="8" fill="#000" shape-rendering="crispEdges"/>
<rect x="263" y="456" width="1" height="8" fill="#000" shape-rendering="crispEdges"/>
<rect x="267" y="441" width="1" height="8" fill="#000" shape-rendering="crispEdges"/>
<rect x="267" y="456" width="1" height="8" fill="#000" shape-rendering="crispEdges"/>
<rect x="271" y="441" width="1" height="8" fill="#000" shape-rendering="crispEdges"/>
<rect x="271" y="456" width="1" height="8" fill="#000" shape-rendering="crispEdges"/>
<rect x="274" y="441" width="1" height="8" fill="#000" shape-rendering="crispEdges"/>
<rect x="274" y="456" width="1" height="8" fill="#000" shape-rendering="crispEdges"/>
<rect x="278" y="441" width="1" height="8" fill="#000" shape-rendering="crispEdges"/>
<rect x="278" y="456" width="1" height="8" fill="#000" shape-rendering="crispEdges"/>
<rect x="282" y="441" width="1" height="8" fill="#000" shape-rendering="crispEdges"/>
<rect x="282" y="456" width="1" height="8" fill="#000" shape-rendering="crispEdges"/>
<rect x="286" y="441" width="1" height="8" fill="#000" shape-rendering="crispEdges"/>
<rect x="286" y="456" width="1" height="8" fill="#000" shape-rendering="crispEdges"/>
<rect x="289" y="441" width="1" height="8" fill="#000" shape-rendering="crispEdges"/>
<rect x="289" y="456" width="1" height="8" fill="#000" shape-rendering="crispEdges"/>
<rect x="293" y="441" width="1" height="8" fill="#000" shape-rendering="crispEdges"/>
<rect x="293" y="456" width="1" height="8" fill="#000" shape-rendering="crispEdges"/>
<rect x="297" y="441" width="1" height="8" fill="#000" shape-rendering="crispEdges"/>
<rect x="297" y="456" width="1" height="8" fill="#000" shape-rendering="crispEdges"/>
<rect x="301" y="441" width="1" height="8" fill="#000" shape-rendering="crispEdges"/>
<rect x="301" y="456" width="1" height="8" fill="#000" shape-rendering="crispEdges"/>
<rect x="305" y="441" width="1" height="8" fill="#000" shape-rendering="crispEdges"/>
<rect x="305" y="456" width="1" height="8" fill="#000" shape-rendering="crispEdges"/>
<rect x="308" y="441" width="1" height="8" fill="#000" shape-rendering="crispEdges"/>
<rect x="308" y="456" width="1" height="8" fill="#000" shape-rendering="crispEdges"/>
<rect x="312" y="441" width="1" height="8" fill="#000" shape-rendering="crispEdges"/>
<rect x="312" y="456" width="1" height="8" fill="#000" shape-rendering="crispEdges"/>
<rect x="316" y="441" width="1" height="8" fill="#000" shape-rendering="crispEdges"/>
<rect x="316" y="456" width="1" height="8" fill="#000" shape-rendering="crispEdges"/>
<rect x="320" y="441" width="1" height="8" fill="#000" shape-rendering="crispEdges"/>
<rect x="320" y="456" width="1" height="8" fill="#000" shape-rendering="crispEdges"/>
<rect x="323" y="441" width="1" height="8" fill="#000" shape-rendering="crispEdges"/>
<rect x="323" y="456" width="1" height="8" fill="#000" shape-rendering="crispEdges"/>
<rect x="327" y="441" width="1" height="8" fill="#000" shape-rendering="crispEdges"/>
<rect x="327" y="456" width="1" height="8" fill="#000" shape-rendering="crispEdges"/>
<rect x="331" y="441" width="1" height="8" fill="#000" shape-rendering="crispEdges"/>
<rect x="331" y="456" width="1" height="8" fill="#000" shape-rendering="crispEdges"/>
<rect x="335" y="441" width="1" height="8" fill="#000" shape-rendering="crispEdges"/>
<rect x="335" y="456" width="1" height="8" fill="#000" shape-rendering="crispEdges"/>
<rect x="339" y="441" width="1" height="8" fill="#000" shape-rendering="crispEdges"/>
<rect x="339" y="456" width="1" height="8" fill="#000" shape-rendering="crispEdges"/>
<rect x="342" y="441" width="1" height="8" fill="#000" shape-rendering="crispEdges"/>
<rect x="342" y="456" width="1" height="8" fill="#000" shape-rendering="crispEdges"/>
<rect x="346" y="441" width="1" height="8" fill="#000" shape-rendering="crispEdges"/>
<rect x="346" y="456" width="1" height="8" fill="#000" shape-rendering="crispEdges"/>
<rect x="350" y="441" width="1" height="8" fill="#000" shape-rendering="crispEdges"/>
<rect x="350" y="456" width="1" height="8" fill="#000" shape-rendering="crispEdges"/>
<rect x="354" y="441" width="1" height="8" fill="#000" shape-rendering="crispEdges"/>
<rect x="354" y="456" width="1" height="8" fill="#000" shape-rendering="crispEdges"/>
<rect x="358" y="441" width="1" height="8" fill="#000" shape-rendering="crispEdges"/>
<rect x="358" y="456" width="1" height="8" fill="#000" shape-rendering="crispEdges"/>
<rect x="361" y="441" width="1" height="8" fill="#000" shape-rendering="crispEdges"/>
<rect x="361" y="456" width="1" height="8" fill="#000" shape-rendering="crispEdges"/>
<rect x="365" y="441" width="1" height="8" fill="#000" shape-rendering="crispEdges"/>
<rect x="365" y="456" width="1" height="8" fill="#000" shape-rendering="crispEdges"/>
<rect x="369" y="441" width="1" height="8" fill="#000" shape-rendering="crispEdges"/>
<rect x="369" y="456" width="1" height="8" fill="#000" shape-rendering="crispEdges"/>
<rect x="373" y="441" width="1" height="8" fill="#000" shape-rendering="crispEdges"/>
<rect x="373" y="456" width="1" height="8" fill="#000" shape-rendering="crispEdges"/>
<rect x="376" y="441" width="1" height="8" fill="#000" shape-rendering="crispEdges"/>
<rect x="376" y="456" width="1" height="8" fill="#000" shape-rendering="crispEdges"/>
<rect x="380" y="441" width="1" height="8" fill="#000" shape-rendering="crispEdges"/>
<rect x="380" y="456" width="1" height="8" fill="#000" shape-rendering="crispEdges"/>
<rect x="384" y="441" width="1" height="8" fill="#000" shape-rendering="crispEdges"/>
<rect x="384" y="456" width="1" height="8" fill="#000" shape-rendering="crispEdges"/>
<rect x="388" y="441" width="1" height="8" fill="#000" shape-rendering="crispEdges"/>
<rect x="388" y="456" width="1" height="8" fill="#000" shape-rendering="crispEdges"/>
<rect x="392" y="441" width="1" height="8" fill="#000" shape-rendering="crispEdges"/>
<rect x="392" y="456" width="1" height="8" fill="#000" shape-rendering="crispEdges"/>
<rect x="395" y="441" width="1" height="8" fill="#000" shape-rendering="crispEdges"/>
<rect x="395" y="456" width="1" height="8" fill="#000" shape-rendering="crispEdges"/>
<rect x="399" y="441" width="1" height="8" fill="#000" shape-rendering="crispEdges"/>
<rect x="399" y="456" width="1" height="8" fill="#000" shape-rendering="crispEdges"/>
<rect x="403" y="441" width="1" height="8" fill="#000" shape-rendering="crispEdges"/>
<rect x="403" y="456" width="1" height="8" fill="#000" shape-rendering="crispEdges"/>
<rect x="407" y="441" width="1" height="8" fill="#000" shape-rendering="crispEdges"/>
<rect x="407" y="456" width="1" height="8" fill="#000" shape-rendering="crispEdges"/>
<rect x="410" y="441" width="1" height="8" fill="#000" shape-rendering="crispEdges"/>
<rect x="410" y="456" width="1" height="8" fill="#000" shape-rendering="crispEdges"/>
<rect x="414" y="441" width="1" height="8" fill="#000" shape-rendering="crispEdges"/>
<rect x="414" y="456" width="1" height="8" fill="#000" shape-rendering="crispEdges"/>
<rect x="418" y="441" width="1" height="8" fill="#000" shape-rendering="crispEdges"/>
<rect x="418" y="456" width="1" height="8" fill="#000" shape-rendering="crispEdges"/>
<rect x="422" y="441" width="1" height="8" fill="#000" shape-rendering="crispEdges"/>
<rect x="422" y="456" width="1" height="8" fill="#000" shape-rendering="crispEdges"/>
<rect x="426" y="441" width="1" height="8" fill="#000" shape-rendering="crispEdges"/>
<rect x="426" y="456" width="1" height="8" fill="#000" shape-rendering="crispEdges"/>
<rect x="429" y="441" width="1" height="8" fill="#000" shape-rendering="crispEdges"/>
<rect x="429" y="456" width="1" height="8" fill="#000" shape-rendering="crispEdges"/>
<rect x="433" y="441" width="1" height="8" fill="#000" shape-rendering="crispEdges"/>
<rect x="433" y="456" width="1" height="8" fill="#000" shape-rendering="crispEdges"/>
<rect x="437" y="441" width="1" height="8" fill="#000" shape-rendering="crispEdges"/>
<rect x="437" y="456" width="1" height="8" fill="#000" shape-rendering="crispEdges"/>
<rect x="441" y="441" width="1" height="8" fill="#000" shape-rendering="crispEdges"/>
<rect x="441" y="456" width="1" height="8" fill="#000" shape-rendering="crispEdges"/>
<rect x="445" y="441" width="1" height="8" fill="#000" shape-rendering="crispEdges"/>
<rect x="445" y="456" width="1" height="8" fill="#000" shape-rendering="crispEdges"/>
<rect x="448" y="441" width="1" height="8" fill="#000" shape-rendering="crispEdges"/>
<rect x="448" y="456" width="1" height="8" fill="#000" shape-rendering="crispEdges"/>
<rect x="452" y="441" width="1" height="8" fill="#000" shape-rendering="crispEdges"/>
<rect x="452" y="456" width="1" height="8" fill="#000" shape-rendering="crispEdges"/>
<rect x="456" y="441" width="1" height="8" fill="#000" shape-rendering="crispEdges"/>
<rect x="456" y="456" width="1" height="8" fill="#000" shape-rendering="crispEdges"/>
<path d="M241.20,419.20 L241.20,441.20" fill="none" stroke="#000" stroke-width="3" stroke-linejoin="miter" stroke-linecap="butt"/>
<text transform="translate(246.30,413.40) rotate(-90) scale(0.8,1)" font-size="17" xml:space="preserve" ><tspan stroke="#000" stroke-width="0.5" letter-spacing="0.5">AGP Slot</tspan></text>
<text transform="translate(306.00,409.50) rotate(-90) scale(0.8,1)" font-size="17" xml:space="preserve" ><tspan stroke="#000" stroke-width="0.5" letter-spacing="0.2">CN10:</tspan><tspan stroke="#000" stroke-width="0.25"> IDE2</tspan></text>
<text transform="translate(325.10,409.50) rotate(-90) scale(0.8,1)" font-size="17" xml:space="preserve" ><tspan stroke="#000" stroke-width="0.5" letter-spacing="0.2">CN9:</tspan><tspan stroke="#000" stroke-width="0.25"> IDE1</tspan></text>
<text transform="translate(343.70,409.50) rotate(-90) scale(0.8,1)" font-size="17" xml:space="preserve" ><tspan stroke="#000" stroke-width="0.5" letter-spacing="0.2">CN8:</tspan><tspan stroke="#000" stroke-width="0.25"> FDD</tspan></text>
<path d="M298.00,411.00 L298.00,432.00 L494.70,432.00 L494.70,473.40 L488.20,473.40 L488.20,529.50 L495.00,529.50" fill="none" stroke="#000" stroke-width="3" stroke-linejoin="miter" stroke-linecap="butt"/>
<path d="M319.50,411.00 L319.50,426.00 L506.20,426.00 L506.20,501.00" fill="none" stroke="#000" stroke-width="3" stroke-linejoin="miter" stroke-linecap="butt"/>
<path d="M337.30,411.00 L337.30,419.70 L542.30,419.70 L542.30,478.00" fill="none" stroke="#000" stroke-width="3" stroke-linejoin="miter" stroke-linecap="butt"/>
<rect x="533.10" y="478.40" width="169.30" height="19.00" fill="#7e7e7e"/>
<rect x="536.50" y="480.50" width="163.50" height="14.80" fill="#fff"/>
<rect x="610.80" y="477.90" width="14.30" height="2.70" fill="#fff"/>
<ellipse cx="541.10" cy="485.30" rx="3.00" ry="2.20" fill="#000"/>
<ellipse cx="550.71" cy="485.30" rx="3.00" ry="2.20" fill="#000"/>
<ellipse cx="560.32" cy="485.30" rx="3.00" ry="2.20" fill="#000"/>
<ellipse cx="569.93" cy="485.30" rx="3.00" ry="2.20" fill="#000"/>
<ellipse cx="579.54" cy="485.30" rx="3.00" ry="2.20" fill="#000"/>
<ellipse cx="589.15" cy="485.30" rx="3.00" ry="2.20" fill="#000"/>
<ellipse cx="598.76" cy="485.30" rx="3.00" ry="2.20" fill="#000"/>
<ellipse cx="608.37" cy="485.30" rx="3.00" ry="2.20" fill="#000"/>
<ellipse cx="617.98" cy="485.30" rx="3.00" ry="2.20" fill="#000"/>
<ellipse cx="627.59" cy="485.30" rx="3.00" ry="2.20" fill="#000"/>
<ellipse cx="637.20" cy="485.30" rx="3.00" ry="2.20" fill="#000"/>
<ellipse cx="646.81" cy="485.30" rx="3.00" ry="2.20" fill="#000"/>
<ellipse cx="656.42" cy="485.30" rx="3.00" ry="2.20" fill="#000"/>
<ellipse cx="666.03" cy="485.30" rx="3.00" ry="2.20" fill="#000"/>
<ellipse cx="675.64" cy="485.30" rx="3.00" ry="2.20" fill="#000"/>
<ellipse cx="685.25" cy="485.30" rx="3.00" ry="2.20" fill="#000"/>
<ellipse cx="694.86" cy="485.30" rx="3.00" ry="2.20" fill="#000"/>
<ellipse cx="541.10" cy="492.90" rx="3.00" ry="2.20" fill="#000"/>
<ellipse cx="550.71" cy="492.90" rx="3.00" ry="2.20" fill="#000"/>
<ellipse cx="560.32" cy="492.90" rx="3.00" ry="2.20" fill="#000"/>
<ellipse cx="569.93" cy="492.90" rx="3.00" ry="2.20" fill="#000"/>
<ellipse cx="579.54" cy="492.90" rx="3.00" ry="2.20" fill="#000"/>
<ellipse cx="589.15" cy="492.90" rx="3.00" ry="2.20" fill="#000"/>
<ellipse cx="598.76" cy="492.90" rx="3.00" ry="2.20" fill="#000"/>
<ellipse cx="608.37" cy="492.90" rx="3.00" ry="2.20" fill="#000"/>
<ellipse cx="617.98" cy="492.90" rx="3.00" ry="2.20" fill="#000"/>
<ellipse cx="627.59" cy="492.90" rx="3.00" ry="2.20" fill="#000"/>
<ellipse cx="637.20" cy="492.90" rx="3.00" ry="2.20" fill="#000"/>
<ellipse cx="646.81" cy="492.90" rx="3.00" ry="2.20" fill="#000"/>
<ellipse cx="656.42" cy="492.90" rx="3.00" ry="2.20" fill="#000"/>
<ellipse cx="666.03" cy="492.90" rx="3.00" ry="2.20" fill="#000"/>
<ellipse cx="675.64" cy="492.90" rx="3.00" ry="2.20" fill="#000"/>
<ellipse cx="694.86" cy="492.90" rx="3.00" ry="2.20" fill="#000"/>
<ellipse cx="684.80" cy="492.90" rx="3.00" ry="2.20" fill="#000"/>
<ellipse cx="684.80" cy="492.90" rx="1.80" ry="1.10" fill="#fff"/>
<rect x="494.40" y="500.10" width="207.50" height="17.50" fill="#7e7e7e"/>
<rect x="497.80" y="502.20" width="201.70" height="13.30" fill="#fff"/>
<rect x="586.90" y="499.60" width="19.20" height="2.70" fill="#fff"/>
<ellipse cx="500.80" cy="505.10" rx="3.00" ry="2.20" fill="#000"/>
<ellipse cx="510.82" cy="505.10" rx="3.00" ry="2.20" fill="#000"/>
<ellipse cx="520.84" cy="505.10" rx="3.00" ry="2.20" fill="#000"/>
<ellipse cx="530.86" cy="505.10" rx="3.00" ry="2.20" fill="#000"/>
<ellipse cx="540.88" cy="505.10" rx="3.00" ry="2.20" fill="#000"/>
<ellipse cx="550.90" cy="505.10" rx="3.00" ry="2.20" fill="#000"/>
<ellipse cx="560.92" cy="505.10" rx="3.00" ry="2.20" fill="#000"/>
<ellipse cx="570.94" cy="505.10" rx="3.00" ry="2.20" fill="#000"/>
<ellipse cx="580.96" cy="505.10" rx="3.00" ry="2.20" fill="#000"/>
<ellipse cx="590.98" cy="505.10" rx="3.00" ry="2.20" fill="#000"/>
<ellipse cx="601.00" cy="505.10" rx="3.00" ry="2.20" fill="#000"/>
<ellipse cx="611.02" cy="505.10" rx="3.00" ry="2.20" fill="#000"/>
<ellipse cx="621.04" cy="505.10" rx="3.00" ry="2.20" fill="#000"/>
<ellipse cx="631.06" cy="505.10" rx="3.00" ry="2.20" fill="#000"/>
<ellipse cx="641.08" cy="505.10" rx="3.00" ry="2.20" fill="#000"/>
<ellipse cx="651.10" cy="505.10" rx="3.00" ry="2.20" fill="#000"/>
<ellipse cx="661.12" cy="505.10" rx="3.00" ry="2.20" fill="#000"/>
<ellipse cx="671.14" cy="505.10" rx="3.00" ry="2.20" fill="#000"/>
<ellipse cx="681.16" cy="505.10" rx="3.00" ry="2.20" fill="#000"/>
<ellipse cx="691.18" cy="505.10" rx="3.00" ry="2.20" fill="#000"/>
<ellipse cx="500.80" cy="513.20" rx="3.00" ry="2.20" fill="#000"/>
<ellipse cx="510.82" cy="513.20" rx="3.00" ry="2.20" fill="#000"/>
<ellipse cx="520.84" cy="513.20" rx="3.00" ry="2.20" fill="#000"/>
<ellipse cx="530.86" cy="513.20" rx="3.00" ry="2.20" fill="#000"/>
<ellipse cx="540.88" cy="513.20" rx="3.00" ry="2.20" fill="#000"/>
<ellipse cx="550.90" cy="513.20" rx="3.00" ry="2.20" fill="#000"/>
<ellipse cx="560.92" cy="513.20" rx="3.00" ry="2.20" fill="#000"/>
<ellipse cx="570.94" cy="513.20" rx="3.00" ry="2.20" fill="#000"/>
<ellipse cx="580.96" cy="513.20" rx="3.00" ry="2.20" fill="#000"/>
<ellipse cx="590.98" cy="513.20" rx="3.00" ry="2.20" fill="#000"/>
<ellipse cx="611.02" cy="513.20" rx="3.00" ry="2.20" fill="#000"/>
<ellipse cx="621.04" cy="513.20" rx="3.00" ry="2.20" fill="#000"/>
<ellipse cx="631.06" cy="513.20" rx="3.00" ry="2.20" fill="#000"/>
<ellipse cx="641.08" cy="513.20" rx="3.00" ry="2.20" fill="#000"/>
<ellipse cx="651.10" cy="513.20" rx="3.00" ry="2.20" fill="#000"/>
<ellipse cx="661.12" cy="513.20" rx="3.00" ry="2.20" fill="#000"/>
<ellipse cx="671.14" cy="513.20" rx="3.00" ry="2.20" fill="#000"/>
<ellipse cx="681.16" cy="513.20" rx="3.00" ry="2.20" fill="#000"/>
<ellipse cx="691.18" cy="513.20" rx="3.00" ry="2.20" fill="#000"/>
<rect x="494.40" y="520.20" width="207.50" height="18.40" fill="#7e7e7e"/>
<rect x="497.80" y="522.30" width="201.70" height="14.20" fill="#fff"/>
<rect x="586.90" y="519.70" width="19.20" height="2.70" fill="#fff"/>
<ellipse cx="500.80" cy="525.20" rx="3.00" ry="2.20" fill="#000"/>
<ellipse cx="510.82" cy="525.20" rx="3.00" ry="2.20" fill="#000"/>
<ellipse cx="520.84" cy="525.20" rx="3.00" ry="2.20" fill="#000"/>
<ellipse cx="530.86" cy="525.20" rx="3.00" ry="2.20" fill="#000"/>
<ellipse cx="540.88" cy="525.20" rx="3.00" ry="2.20" fill="#000"/>
<ellipse cx="550.90" cy="525.20" rx="3.00" ry="2.20" fill="#000"/>
<ellipse cx="560.92" cy="525.20" rx="3.00" ry="2.20" fill="#000"/>
<ellipse cx="570.94" cy="525.20" rx="3.00" ry="2.20" fill="#000"/>
<ellipse cx="580.96" cy="525.20" rx="3.00" ry="2.20" fill="#000"/>
<ellipse cx="590.98" cy="525.20" rx="3.00" ry="2.20" fill="#000"/>
<ellipse cx="601.00" cy="525.20" rx="3.00" ry="2.20" fill="#000"/>
<ellipse cx="611.02" cy="525.20" rx="3.00" ry="2.20" fill="#000"/>
<ellipse cx="621.04" cy="525.20" rx="3.00" ry="2.20" fill="#000"/>
<ellipse cx="631.06" cy="525.20" rx="3.00" ry="2.20" fill="#000"/>
<ellipse cx="641.08" cy="525.20" rx="3.00" ry="2.20" fill="#000"/>
<ellipse cx="651.10" cy="525.20" rx="3.00" ry="2.20" fill="#000"/>
<ellipse cx="661.12" cy="525.20" rx="3.00" ry="2.20" fill="#000"/>
<ellipse cx="671.14" cy="525.20" rx="3.00" ry="2.20" fill="#000"/>
<ellipse cx="681.16" cy="525.20" rx="3.00" ry="2.20" fill="#000"/>
<ellipse cx="691.18" cy="525.20" rx="3.00" ry="2.20" fill="#000"/>
<ellipse cx="500.80" cy="534.20" rx="3.00" ry="2.20" fill="#000"/>
<ellipse cx="510.82" cy="534.20" rx="3.00" ry="2.20" fill="#000"/>
<ellipse cx="520.84" cy="534.20" rx="3.00" ry="2.20" fill="#000"/>
<ellipse cx="530.86" cy="534.20" rx="3.00" ry="2.20" fill="#000"/>
<ellipse cx="540.88" cy="534.20" rx="3.00" ry="2.20" fill="#000"/>
<ellipse cx="550.90" cy="534.20" rx="3.00" ry="2.20" fill="#000"/>
<ellipse cx="560.92" cy="534.20" rx="3.00" ry="2.20" fill="#000"/>
<ellipse cx="570.94" cy="534.20" rx="3.00" ry="2.20" fill="#000"/>
<ellipse cx="580.96" cy="534.20" rx="3.00" ry="2.20" fill="#000"/>
<ellipse cx="590.98" cy="534.20" rx="3.00" ry="2.20" fill="#000"/>
<ellipse cx="611.02" cy="534.20" rx="3.00" ry="2.20" fill="#000"/>
<ellipse cx="621.04" cy="534.20" rx="3.00" ry="2.20" fill="#000"/>
<ellipse cx="631.06" cy="534.20" rx="3.00" ry="2.20" fill="#000"/>
<ellipse cx="641.08" cy="534.20" rx="3.00" ry="2.20" fill="#000"/>
<ellipse cx="651.10" cy="534.20" rx="3.00" ry="2.20" fill="#000"/>
<ellipse cx="661.12" cy="534.20" rx="3.00" ry="2.20" fill="#000"/>
<ellipse cx="671.14" cy="534.20" rx="3.00" ry="2.20" fill="#000"/>
<ellipse cx="681.16" cy="534.20" rx="3.00" ry="2.20" fill="#000"/>
<ellipse cx="691.18" cy="534.20" rx="3.00" ry="2.20" fill="#000"/>
<path d="M695.7,485 L705.2,480.0 L705.2,490.0 Z"/>
<rect x="704.20" y="483.50" width="10.50" height="3.00" fill="#000"/>
<path d="M695.7,505.1 L705.2,500.1 L705.2,510.1 Z"/>
<rect x="704.20" y="503.60" width="10.50" height="3.00" fill="#000"/>
<path d="M695.7,525.6 L705.2,520.6 L705.2,530.6 Z"/>
<rect x="704.20" y="524.10" width="10.50" height="3.00" fill="#000"/>
<path d="M694.80,464.40 L705.00,464.40" fill="none" stroke="#000" stroke-width="2.6" stroke-linejoin="miter" stroke-linecap="butt"/>
<path d="M678.90,462.30 L690.90,462.30 M679.20,462.00 L682.90,465.70" fill="none" stroke="#000" stroke-width="1.6"/>
<rect x="601.30" y="417.00" width="100.70" height="16.00" fill="#888888"/>
<rect x="602.50" y="422.60" width="10.10" height="4.40" fill="#bdbdbd"/>
<rect x="617.80" y="422.60" width="9.50" height="4.40" fill="#bdbdbd"/>
<rect x="632.60" y="422.60" width="11.20" height="4.40" fill="#bdbdbd"/>
<rect x="649.00" y="422.60" width="9.60" height="4.40" fill="#bdbdbd"/>
<rect x="663.80" y="422.60" width="10.40" height="4.40" fill="#bdbdbd"/>
<rect x="679.40" y="422.60" width="6.10" height="4.40" fill="#bdbdbd"/>
<rect x="691.60" y="422.60" width="9.40" height="4.40" fill="#bdbdbd"/>
<rect x="601.30" y="433.00" width="100.70" height="10.40" fill="#c2c2c2"/>
<rect x="612.60" y="434.70" width="9.50" height="3.20" fill="#000"/>
<rect x="612.60" y="439.00" width="9.50" height="4.40" fill="#8a8a8a"/>
<rect x="627.90" y="434.70" width="9.30" height="3.20" fill="#000"/>
<rect x="627.90" y="439.00" width="9.30" height="4.40" fill="#8a8a8a"/>
<rect x="643.80" y="434.70" width="8.40" height="3.20" fill="#000"/>
<rect x="643.80" y="439.00" width="8.40" height="4.40" fill="#8a8a8a"/>
<rect x="659.10" y="434.70" width="9.00" height="3.20" fill="#000"/>
<rect x="659.10" y="439.00" width="9.00" height="4.40" fill="#8a8a8a"/>
<rect x="673.90" y="434.70" width="9.40" height="3.20" fill="#000"/>
<rect x="673.90" y="439.00" width="9.40" height="4.40" fill="#8a8a8a"/>
<rect x="686.00" y="434.70" width="9.00" height="3.20" fill="#000"/>
<rect x="686.00" y="439.00" width="9.00" height="4.40" fill="#8a8a8a"/>
<path d="M575.00,393.00 L575.00,431.30 L601.30,431.30" fill="none" stroke="#000" stroke-width="3" stroke-linejoin="miter" stroke-linecap="butt"/>
<text transform="translate(581.20,386.20) rotate(-90) scale(0.814,1)" font-size="17" xml:space="preserve" ><tspan stroke="#000" stroke-width="0.5" letter-spacing="0.2">CN15-C:</tspan><tspan stroke="#000" stroke-width="0.25"> 1x6 ATX 12VPower Supply</tspan></text>
<rect x="607.10" y="382.40" width="25.70" height="8.40" fill="#000"/>
<ellipse cx="614.30" cy="386.60" rx="4.00" ry="3.40" fill="#fff"/>
<ellipse cx="626.70" cy="386.60" rx="4.00" ry="3.40" fill="#fff"/>
<path d="M621.70,360.30 L621.70,381.70" fill="none" stroke="#000" stroke-width="3" stroke-linejoin="miter" stroke-linecap="butt"/>
<text transform="translate(628.10,359.50) rotate(-90) scale(0.8,1)" font-size="17" xml:space="preserve" ><tspan stroke="#000" stroke-width="0.5" letter-spacing="0.2">JP12:</tspan><tspan stroke="#000" stroke-width="0.25"> STR Mode</tspan></text>
<rect x="648.00" y="397.50" width="54.90" height="15.50" fill="#000"/>
<ellipse cx="655.40" cy="405.00" rx="3.40" ry="3.40" fill="#fff"/>
<ellipse cx="675.30" cy="405.00" rx="3.40" ry="3.40" fill="#fff"/>
<ellipse cx="685.00" cy="405.00" rx="3.40" ry="3.40" fill="#fff"/>
<ellipse cx="694.50" cy="405.00" rx="3.40" ry="3.40" fill="#fff"/>
<path d="M654.50,377.00 L654.50,398.00" fill="none" stroke="#000" stroke-width="3" stroke-linejoin="miter" stroke-linecap="butt"/>
<path d="M683.50,380.00 L683.50,398.00" fill="none" stroke="#000" stroke-width="3" stroke-linejoin="miter" stroke-linecap="butt"/>
<path d="M651.80,367.40 L663.80,367.40 M652.10,367.10 L655.80,370.80" fill="none" stroke="#000" stroke-width="1.6"/>
<text transform="translate(691.50,378.10) rotate(-90) scale(0.8,1)" font-size="17" xml:space="preserve" ><tspan stroke="#000" stroke-width="0.5" letter-spacing="0.2">CN42:</tspan><tspan stroke="#000" stroke-width="0.25"> SMB</tspan></text>
<rect x="95.10" y="502.00" width="61.90" height="6.60" fill="#a8a8a8"/>
<ellipse cx="102.30" cy="505.60" rx="2.40" ry="2.00" fill="#000"/>
<ellipse cx="102.30" cy="505.60" rx="1.30" ry="1.00" fill="#fff"/>
<ellipse cx="117.90" cy="505.60" rx="2.40" ry="2.00" fill="#000"/>
<ellipse cx="117.90" cy="505.60" rx="1.30" ry="1.00" fill="#fff"/>
<ellipse cx="133.20" cy="505.60" rx="2.40" ry="2.00" fill="#000"/>
<ellipse cx="133.20" cy="505.60" rx="1.30" ry="1.00" fill="#fff"/>
<ellipse cx="148.60" cy="505.60" rx="2.40" ry="2.00" fill="#000"/>
<ellipse cx="148.60" cy="505.60" rx="1.30" ry="1.00" fill="#fff"/>
<path d="M88.00,505.50 L97.80,505.50" fill="none" stroke="#000" stroke-width="2.7" stroke-linejoin="miter" stroke-linecap="butt"/>
<path d="M103.6,501.4 L98.69999999999999,487.7 L108.5,487.7 Z"/>
<rect x="102.30" y="481.00" width="2.60" height="7.70" fill="#000"/>
<path d="M102.00,471.40 L114.00,471.40 M102.30,471.10 L106.00,474.80" fill="none" stroke="#000" stroke-width="1.6"/>
<text transform="translate(82.80,561.50) rotate(-90) scale(0.8,1)" font-size="17" xml:space="preserve" ><tspan stroke="#000" stroke-width="0.5" letter-spacing="0.2">CN21:</tspan><tspan stroke="#000" stroke-width="0.25"> CD IN</tspan></text>
<rect x="101.00" y="525.00" width="354.00" height="21.00" fill="#9e9e9e"/>
<rect x="101.00" y="531.00" width="285.50" height="7.60" fill="#ececec"/>
<rect x="391.00" y="531.00" width="64.00" height="7.60" fill="#ececec"/>
<rect x="108" y="525" width="1" height="6" fill="#000" shape-rendering="crispEdges"/>
<rect x="108" y="539" width="1" height="7" fill="#000" shape-rendering="crispEdges"/>
<rect x="114" y="525" width="1" height="6" fill="#000" shape-rendering="crispEdges"/>
<rect x="114" y="539" width="1" height="7" fill="#000" shape-rendering="crispEdges"/>
<rect x="119" y="525" width="1" height="6" fill="#000" shape-rendering="crispEdges"/>
<rect x="119" y="539" width="1" height="7" fill="#000" shape-rendering="crispEdges"/>
<rect x="125" y="525" width="1" height="6" fill="#000" shape-rendering="crispEdges"/>
<rect x="125" y="539" width="1" height="7" fill="#000" shape-rendering="crispEdges"/>
<rect x="130" y="525" width="1" height="6" fill="#000" shape-rendering="crispEdges"/>
<rect x="130" y="539" width="1" height="7" fill="#000" shape-rendering="crispEdges"/>
<rect x="136" y="525" width="1" height="6" fill="#000" shape-rendering="crispEdges"/>
<rect x="136" y="539" width="1" height="7" fill="#000" shape-rendering="crispEdges"/>
<rect x="142" y="525" width="1" height="6" fill="#000" shape-rendering="crispEdges"/>
<rect x="142" y="539" width="1" height="7" fill="#000" shape-rendering="crispEdges"/>
<rect x="147" y="525" width="1" height="6" fill="#000" shape-rendering="crispEdges"/>
<rect x="147" y="539" width="1" height="7" fill="#000" shape-rendering="crispEdges"/>
<rect x="153" y="525" width="1" height="6" fill="#000" shape-rendering="crispEdges"/>
<rect x="153" y="539" width="1" height="7" fill="#000" shape-rendering="crispEdges"/>
<rect x="158" y="525" width="1" height="6" fill="#000" shape-rendering="crispEdges"/>
<rect x="158" y="539" width="1" height="7" fill="#000" shape-rendering="crispEdges"/>
<rect x="164" y="525" width="1" height="6" fill="#000" shape-rendering="crispEdges"/>
<rect x="164" y="539" width="1" height="7" fill="#000" shape-rendering="crispEdges"/>
<rect x="170" y="525" width="1" height="6" fill="#000" shape-rendering="crispEdges"/>
<rect x="170" y="539" width="1" height="7" fill="#000" shape-rendering="crispEdges"/>
<rect x="175" y="525" width="1" height="6" fill="#000" shape-rendering="crispEdges"/>
<rect x="175" y="539" width="1" height="7" fill="#000" shape-rendering="crispEdges"/>
<rect x="181" y="525" width="1" height="6" fill="#000" shape-rendering="crispEdges"/>
<rect x="181" y="539" width="1" height="7" fill="#000" shape-rendering="crispEdges"/>
<rect x="186" y="525" width="1" height="6" fill="#000" shape-rendering="crispEdges"/>
<rect x="186" y="539" width="1" height="7" fill="#000" shape-rendering="crispEdges"/>
<rect x="192" y="525" width="1" height="6" fill="#000" shape-rendering="crispEdges"/>
<rect x="192" y="539" width="1" height="7" fill="#000" shape-rendering="crispEdges"/>
<rect x="198" y="525" width="1" height="6" fill="#000" shape-rendering="crispEdges"/>
<rect x="198" y="539" width="1" height="7" fill="#000" shape-rendering="crispEdges"/>
<rect x="203" y="525" width="1" height="6" fill="#000" shape-rendering="crispEdges"/>
<rect x="203" y="539" width="1" height="7" fill="#000" shape-rendering="crispEdges"/>
<rect x="209" y="525" width="1" height="6" fill="#000" shape-rendering="crispEdges"/>
<rect x="209" y="539" width="1" height="7" fill="#000" shape-rendering="crispEdges"/>
<rect x="214" y="525" width="1" height="6" fill="#000" shape-rendering="crispEdges"/>
<rect x="214" y="539" width="1" height="7" fill="#000" shape-rendering="crispEdges"/>
<rect x="220" y="525" width="1" height="6" fill="#000" shape-rendering="crispEdges"/>
<rect x="220" y="539" width="1" height="7" fill="#000" shape-rendering="crispEdges"/>
<rect x="226" y="525" width="1" height="6" fill="#000" shape-rendering="crispEdges"/>
<rect x="226" y="539" width="1" height="7" fill="#000" shape-rendering="crispEdges"/>
<rect x="231" y="525" width="1" height="6" fill="#000" shape-rendering="crispEdges"/>
<rect x="231" y="539" width="1" height="7" fill="#000" shape-rendering="crispEdges"/>
<rect x="237" y="525" width="1" height="6" fill="#000" shape-rendering="crispEdges"/>
<rect x="237" y="539" width="1" height="7" fill="#000" shape-rendering="crispEdges"/>
<rect x="242" y="525" width="1" height="6" fill="#000" shape-rendering="crispEdges"/>
<rect x="242" y="539" width="1" height="7" fill="#000" shape-rendering="crispEdges"/>
<rect x="248" y="525" width="1" height="6" fill="#000" shape-rendering="crispEdges"/>
<rect x="248" y="539" width="1" height="7" fill="#000" shape-rendering="crispEdges"/>
<rect x="254" y="525" width="1" height="6" fill="#000" shape-rendering="crispEdges"/>
<rect x="254" y="539" width="1" height="7" fill="#000" shape-rendering="crispEdges"/>
<rect x="259" y="525" width="1" height="6" fill="#000" shape-rendering="crispEdges"/>
<rect x="259" y="539" width="1" height="7" fill="#000" shape-rendering="crispEdges"/>
<rect x="265" y="525" width="1" height="6" fill="#000" shape-rendering="crispEdges"/>
<rect x="265" y="539" width="1" height="7" fill="#000" shape-rendering="crispEdges"/>
<rect x="270" y="525" width="1" height="6" fill="#000" shape-rendering="crispEdges"/>
<rect x="270" y="539" width="1" height="7" fill="#000" shape-rendering="crispEdges"/>
<rect x="276" y="525" width="1" height="6" fill="#000" shape-rendering="crispEdges"/>
<rect x="276" y="539" width="1" height="7" fill="#000" shape-rendering="crispEdges"/>
<rect x="282" y="525" width="1" height="6" fill="#000" shape-rendering="crispEdges"/>
<rect x="282" y="539" width="1" height="7" fill="#000" shape-rendering="crispEdges"/>
<rect x="287" y="525" width="1" height="6" fill="#000" shape-rendering="crispEdges"/>
<rect x="287" y="539" width="1" height="7" fill="#000" shape-rendering="crispEdges"/>
<rect x="293" y="525" width="1" height="6" fill="#000" shape-rendering="crispEdges"/>
<rect x="293" y="539" width="1" height="7" fill="#000" shape-rendering="crispEdges"/>
<rect x="298" y="525" width="1" height="6" fill="#000" shape-rendering="crispEdges"/>
<rect x="298" y="539" width="1" height="7" fill="#000" shape-rendering="crispEdges"/>
<rect x="304" y="525" width="1" height="6" fill="#000" shape-rendering="crispEdges"/>
<rect x="304" y="539" width="1" height="7" fill="#000" shape-rendering="crispEdges"/>
<rect x="310" y="525" width="1" height="6" fill="#000" shape-rendering="crispEdges"/>
<rect x="310" y="539" width="1" height="7" fill="#000" shape-rendering="crispEdges"/>
<rect x="315" y="525" width="1" height="6" fill="#000" shape-rendering="crispEdges"/>
<rect x="315" y="539" width="1" height="7" fill="#000" shape-rendering="crispEdges"/>
<rect x="321" y="525" width="1" height="6" fill="#000" shape-rendering="crispEdges"/>
<rect x="321" y="539" width="1" height="7" fill="#000" shape-rendering="crispEdges"/>
<rect x="326" y="525" width="1" height="6" fill="#000" shape-rendering="crispEdges"/>
<rect x="326" y="539" width="1" height="7" fill="#000" shape-rendering="crispEdges"/>
<rect x="332" y="525" width="1" height="6" fill="#000" shape-rendering="crispEdges"/>
<rect x="332" y="539" width="1" height="7" fill="#000" shape-rendering="crispEdges"/>
<rect x="338" y="525" width="1" height="6" fill="#000" shape-rendering="crispEdges"/>
<rect x="338" y="539" width="1" height="7" fill="#000" shape-rendering="crispEdges"/>
<rect x="343" y="525" width="1" height="6" fill="#000" shape-rendering="crispEdges"/>
<rect x="343" y="539" width="1" height="7" fill="#000" shape-rendering="crispEdges"/>
<rect x="349" y="525" width="1" height="6" fill="#000" shape-rendering="crispEdges"/>
<rect x="349" y="539" width="1" height="7" fill="#000" shape-rendering="crispEdges"/>
<rect x="354" y="525" width="1" height="6" fill="#000" shape-rendering="crispEdges"/>
<rect x="354" y="539" width="1" height="7" fill="#000" shape-rendering="crispEdges"/>
<rect x="360" y="525" width="1" height="6" fill="#000" shape-rendering="crispEdges"/>
<rect x="360" y="539" width="1" height="7" fill="#000" shape-rendering="crispEdges"/>
<rect x="366" y="525" width="1" height="6" fill="#000" shape-rendering="crispEdges"/>
<rect x="366" y="539" width="1" height="7" fill="#000" shape-rendering="crispEdges"/>
<rect x="371" y="525" width="1" height="6" fill="#000" shape-rendering="crispEdges"/>
<rect x="371" y="539" width="1" height="7" fill="#000" shape-rendering="crispEdges"/>
<rect x="377" y="525" width="1" height="6" fill="#000" shape-rendering="crispEdges"/>
<rect x="377" y="539" width="1" height="7" fill="#000" shape-rendering="crispEdges"/>
<rect x="394" y="525" width="1" height="6" fill="#000" shape-rendering="crispEdges"/>
<rect x="394" y="539" width="1" height="7" fill="#000" shape-rendering="crispEdges"/>
<rect x="400" y="525" width="1" height="6" fill="#000" shape-rendering="crispEdges"/>
<rect x="400" y="539" width="1" height="7" fill="#000" shape-rendering="crispEdges"/>
<rect x="405" y="525" width="1" height="6" fill="#000" shape-rendering="crispEdges"/>
<rect x="405" y="539" width="1" height="7" fill="#000" shape-rendering="crispEdges"/>
<rect x="411" y="525" width="1" height="6" fill="#000" shape-rendering="crispEdges"/>
<rect x="411" y="539" width="1" height="7" fill="#000" shape-rendering="crispEdges"/>
<rect x="417" y="525" width="1" height="6" fill="#000" shape-rendering="crispEdges"/>
<rect x="417" y="539" width="1" height="7" fill="#000" shape-rendering="crispEdges"/>
<rect x="422" y="525" width="1" height="6" fill="#000" shape-rendering="crispEdges"/>
<rect x="422" y="539" width="1" height="7" fill="#000" shape-rendering="crispEdges"/>
<rect x="428" y="525" width="1" height="6" fill="#000" shape-rendering="crispEdges"/>
<rect x="428" y="539" width="1" height="7" fill="#000" shape-rendering="crispEdges"/>
<rect x="433" y="525" width="1" height="6" fill="#000" shape-rendering="crispEdges"/>
<rect x="433" y="539" width="1" height="7" fill="#000" shape-rendering="crispEdges"/>
<rect x="439" y="525" width="1" height="6" fill="#000" shape-rendering="crispEdges"/>
<rect x="439" y="539" width="1" height="7" fill="#000" shape-rendering="crispEdges"/>
<rect x="445" y="525" width="1" height="6" fill="#000" shape-rendering="crispEdges"/>
<rect x="445" y="539" width="1" height="7" fill="#000" shape-rendering="crispEdges"/>
<rect x="450" y="525" width="1" height="6" fill="#000" shape-rendering="crispEdges"/>
<rect x="450" y="539" width="1" height="7" fill="#000" shape-rendering="crispEdges"/>
<rect x="101.00" y="584.00" width="354.00" height="21.00" fill="#9e9e9e"/>
<rect x="101.00" y="590.00" width="285.50" height="7.60" fill="#ececec"/>
<rect x="391.00" y="590.00" width="64.00" height="7.60" fill="#ececec"/>
<rect x="108" y="584" width="1" height="6" fill="#000" shape-rendering="crispEdges"/>
<rect x="108" y="598" width="1" height="7" fill="#000" shape-rendering="crispEdges"/>
<rect x="114" y="584" width="1" height="6" fill="#000" shape-rendering="crispEdges"/>
<rect x="114" y="598" width="1" height="7" fill="#000" shape-rendering="crispEdges"/>
<rect x="119" y="584" width="1" height="6" fill="#000" shape-rendering="crispEdges"/>
<rect x="119" y="598" width="1" height="7" fill="#000" shape-rendering="crispEdges"/>
<rect x="125" y="584" width="1" height="6" fill="#000" shape-rendering="crispEdges"/>
<rect x="125" y="598" width="1" height="7" fill="#000" shape-rendering="crispEdges"/>
<rect x="130" y="584" width="1" height="6" fill="#000" shape-rendering="crispEdges"/>
<rect x="130" y="598" width="1" height="7" fill="#000" shape-rendering="crispEdges"/>
<rect x="136" y="584" width="1" height="6" fill="#000" shape-rendering="crispEdges"/>
<rect x="136" y="598" width="1" height="7" fill="#000" shape-rendering="crispEdges"/>
<rect x="142" y="584" width="1" height="6" fill="#000" shape-rendering="crispEdges"/>
<rect x="142" y="598" width="1" height="7" fill="#000" shape-rendering="crispEdges"/>
<rect x="147" y="584" width="1" height="6" fill="#000" shape-rendering="crispEdges"/>
<rect x="147" y="598" width="1" height="7" fill="#000" shape-rendering="crispEdges"/>
<rect x="153" y="584" width="1" height="6" fill="#000" shape-rendering="crispEdges"/>
<rect x="153" y="598" width="1" height="7" fill="#000" shape-rendering="crispEdges"/>
<rect x="158" y="584" width="1" height="6" fill="#000" shape-rendering="crispEdges"/>
<rect x="158" y="598" width="1" height="7" fill="#000" shape-rendering="crispEdges"/>
<rect x="164" y="584" width="1" height="6" fill="#000" shape-rendering="crispEdges"/>
<rect x="164" y="598" width="1" height="7" fill="#000" shape-rendering="crispEdges"/>
<rect x="170" y="584" width="1" height="6" fill="#000" shape-rendering="crispEdges"/>
<rect x="170" y="598" width="1" height="7" fill="#000" shape-rendering="crispEdges"/>
<rect x="175" y="584" width="1" height="6" fill="#000" shape-rendering="crispEdges"/>
<rect x="175" y="598" width="1" height="7" fill="#000" shape-rendering="crispEdges"/>
<rect x="181" y="584" width="1" height="6" fill="#000" shape-rendering="crispEdges"/>
<rect x="181" y="598" width="1" height="7" fill="#000" shape-rendering="crispEdges"/>
<rect x="186" y="584" width="1" height="6" fill="#000" shape-rendering="crispEdges"/>
<rect x="186" y="598" width="1" height="7" fill="#000" shape-rendering="crispEdges"/>
<rect x="192" y="584" width="1" height="6" fill="#000" shape-rendering="crispEdges"/>
<rect x="192" y="598" width="1" height="7" fill="#000" shape-rendering="crispEdges"/>
<rect x="198" y="584" width="1" height="6" fill="#000" shape-rendering="crispEdges"/>
<rect x="198" y="598" width="1" height="7" fill="#000" shape-rendering="crispEdges"/>
<rect x="203" y="584" width="1" height="6" fill="#000" shape-rendering="crispEdges"/>
<rect x="203" y="598" width="1" height="7" fill="#000" shape-rendering="crispEdges"/>
<rect x="209" y="584" width="1" height="6" fill="#000" shape-rendering="crispEdges"/>
<rect x="209" y="598" width="1" height="7" fill="#000" shape-rendering="crispEdges"/>
<rect x="214" y="584" width="1" height="6" fill="#000" shape-rendering="crispEdges"/>
<rect x="214" y="598" width="1" height="7" fill="#000" shape-rendering="crispEdges"/>
<rect x="220" y="584" width="1" height="6" fill="#000" shape-rendering="crispEdges"/>
<rect x="220" y="598" width="1" height="7" fill="#000" shape-rendering="crispEdges"/>
<rect x="226" y="584" width="1" height="6" fill="#000" shape-rendering="crispEdges"/>
<rect x="226" y="598" width="1" height="7" fill="#000" shape-rendering="crispEdges"/>
<rect x="231" y="584" width="1" height="6" fill="#000" shape-rendering="crispEdges"/>
<rect x="231" y="598" width="1" height="7" fill="#000" shape-rendering="crispEdges"/>
<rect x="237" y="584" width="1" height="6" fill="#000" shape-rendering="crispEdges"/>
<rect x="237" y="598" width="1" height="7" fill="#000" shape-rendering="crispEdges"/>
<rect x="242" y="584" width="1" height="6" fill="#000" shape-rendering="crispEdges"/>
<rect x="242" y="598" width="1" height="7" fill="#000" shape-rendering="crispEdges"/>
<rect x="248" y="584" width="1" height="6" fill="#000" shape-rendering="crispEdges"/>
<rect x="248" y="598" width="1" height="7" fill="#000" shape-rendering="crispEdges"/>
<rect x="254" y="584" width="1" height="6" fill="#000" shape-rendering="crispEdges"/>
<rect x="254" y="598" width="1" height="7" fill="#000" shape-rendering="crispEdges"/>
<rect x="259" y="584" width="1" height="6" fill="#000" shape-rendering="crispEdges"/>
<rect x="259" y="598" width="1" height="7" fill="#000" shape-rendering="crispEdges"/>
<rect x="265" y="584" width="1" height="6" fill="#000" shape-rendering="crispEdges"/>
<rect x="265" y="598" width="1" height="7" fill="#000" shape-rendering="crispEdges"/>
<rect x="270" y="584" width="1" height="6" fill="#000" shape-rendering="crispEdges"/>
<rect x="270" y="598" width="1" height="7" fill="#000" shape-rendering="crispEdges"/>
<rect x="276" y="584" width="1" height="6" fill="#000" shape-rendering="crispEdges"/>
<rect x="276" y="598" width="1" height="7" fill="#000" shape-rendering="crispEdges"/>
<rect x="282" y="584" width="1" height="6" fill="#000" shape-rendering="crispEdges"/>
<rect x="282" y="598" width="1" height="7" fill="#000" shape-rendering="crispEdges"/>
<rect x="287" y="584" width="1" height="6" fill="#000" shape-rendering="crispEdges"/>
<rect x="287" y="598" width="1" height="7" fill="#000" shape-rendering="crispEdges"/>
<rect x="293" y="584" width="1" height="6" fill="#000" shape-rendering="crispEdges"/>
<rect x="293" y="598" width="1" height="7" fill="#000" shape-rendering="crispEdges"/>
<rect x="298" y="584" width="1" height="6" fill="#000" shape-rendering="crispEdges"/>
<rect x="298" y="598" width="1" height="7" fill="#000" shape-rendering="crispEdges"/>
<rect x="304" y="584" width="1" height="6" fill="#000" shape-rendering="crispEdges"/>
<rect x="304" y="598" width="1" height="7" fill="#000" shape-rendering="crispEdges"/>
<rect x="310" y="584" width="1" height="6" fill="#000" shape-rendering="crispEdges"/>
<rect x="310" y="598" width="1" height="7" fill="#000" shape-rendering="crispEdges"/>
<rect x="315" y="584" width="1" height="6" fill="#000" shape-rendering="crispEdges"/>
<rect x="315" y="598" width="1" height="7" fill="#000" shape-rendering="crispEdges"/>
<rect x="321" y="584" width="1" height="6" fill="#000" shape-rendering="crispEdges"/>
<rect x="321" y="598" width="1" height="7" fill="#000" shape-rendering="crispEdges"/>
<rect x="326" y="584" width="1" height="6" fill="#000" shape-rendering="crispEdges"/>
<rect x="326" y="598" width="1" height="7" fill="#000" shape-rendering="crispEdges"/>
<rect x="332" y="584" width="1" height="6" fill="#000" shape-rendering="crispEdges"/>
<rect x="332" y="598" width="1" height="7" fill="#000" shape-rendering="crispEdges"/>
<rect x="338" y="584" width="1" height="6" fill="#000" shape-rendering="crispEdges"/>
<rect x="338" y="598" width="1" height="7" fill="#000" shape-rendering="crispEdges"/>
<rect x="343" y="584" width="1" height="6" fill="#000" shape-rendering="crispEdges"/>
<rect x="343" y="598" width="1" height="7" fill="#000" shape-rendering="crispEdges"/>
<rect x="349" y="584" width="1" height="6" fill="#000" shape-rendering="crispEdges"/>
<rect x="349" y="598" width="1" height="7" fill="#000" shape-rendering="crispEdges"/>
<rect x="354" y="584" width="1" height="6" fill="#000" shape-rendering="crispEdges"/>
<rect x="354" y="598" width="1" height="7" fill="#000" shape-rendering="crispEdges"/>
<rect x="360" y="584" width="1" height="6" fill="#000" shape-rendering="crispEdges"/>
<rect x="360" y="598" width="1" height="7" fill="#000" shape-rendering="crispEdges"/>
<rect x="366" y="584" width="1" height="6" fill="#000" shape-rendering="crispEdges"/>
<rect x="366" y="598" width="1" height="7" fill="#000" shape-rendering="crispEdges"/>
<rect x="371" y="584" width="1" height="6" fill="#000" shape-rendering="crispEdges"/>
<rect x="371" y="598" width="1" height="7" fill="#000" shape-rendering="crispEdges"/>
<rect x="377" y="584" width="1" height="6" fill="#000" shape-rendering="crispEdges"/>
<rect x="377" y="598" width="1" height="7" fill="#000" shape-rendering="crispEdges"/>
<rect x="394" y="584" width="1" height="6" fill="#000" shape-rendering="crispEdges"/>
<rect x="394" y="598" width="1" height="7" fill="#000" shape-rendering="crispEdges"/>
<rect x="400" y="584" width="1" height="6" fill="#000" shape-rendering="crispEdges"/>
<rect x="400" y="598" width="1" height="7" fill="#000" shape-rendering="crispEdges"/>
<rect x="405" y="584" width="1" height="6" fill="#000" shape-rendering="crispEdges"/>
<rect x="405" y="598" width="1" height="7" fill="#000" shape-rendering="crispEdges"/>
<rect x="411" y="584" width="1" height="6" fill="#000" shape-rendering="crispEdges"/>
<rect x="411" y="598" width="1" height="7" fill="#000" shape-rendering="crispEdges"/>
<rect x="417" y="584" width="1" height="6" fill="#000" shape-rendering="crispEdges"/>
<rect x="417" y="598" width="1" height="7" fill="#000" shape-rendering="crispEdges"/>
<rect x="422" y="584" width="1" height="6" fill="#000" shape-rendering="crispEdges"/>
<rect x="422" y="598" width="1" height="7" fill="#000" shape-rendering="crispEdges"/>
<rect x="428" y="584" width="1" height="6" fill="#000" shape-rendering="crispEdges"/>
<rect x="428" y="598" width="1" height="7" fill="#000" shape-rendering="crispEdges"/>
<rect x="433" y="584" width="1" height="6" fill="#000" shape-rendering="crispEdges"/>
<rect x="433" y="598" width="1" height="7" fill="#000" shape-rendering="crispEdges"/>
<rect x="439" y="584" width="1" height="6" fill="#000" shape-rendering="crispEdges"/>
<rect x="439" y="598" width="1" height="7" fill="#000" shape-rendering="crispEdges"/>
<rect x="445" y="584" width="1" height="6" fill="#000" shape-rendering="crispEdges"/>
<rect x="445" y="598" width="1" height="7" fill="#000" shape-rendering="crispEdges"/>
<rect x="450" y="584" width="1" height="6" fill="#000" shape-rendering="crispEdges"/>
<rect x="450" y="598" width="1" height="7" fill="#000" shape-rendering="crispEdges"/>
<rect x="101.00" y="650.00" width="354.00" height="21.00" fill="#9e9e9e"/>
<rect x="101.00" y="656.00" width="285.50" height="7.60" fill="#ececec"/>
<rect x="391.00" y="656.00" width="64.00" height="7.60" fill="#ececec"/>
<rect x="108" y="650" width="1" height="6" fill="#000" shape-rendering="crispEdges"/>
<rect x="108" y="664" width="1" height="7" fill="#000" shape-rendering="crispEdges"/>
<rect x="114" y="650" width="1" height="6" fill="#000" shape-rendering="crispEdges"/>
<rect x="114" y="664" width="1" height="7" fill="#000" shape-rendering="crispEdges"/>
<rect x="119" y="650" width="1" height="6" fill="#000" shape-rendering="crispEdges"/>
<rect x="119" y="664" width="1" height="7" fill="#000" shape-rendering="crispEdges"/>
<rect x="125" y="650" width="1" height="6" fill="#000" shape-rendering="crispEdges"/>
<rect x="125" y="664" width="1" height="7" fill="#000" shape-rendering="crispEdges"/>
<rect x="130" y="650" width="1" height="6" fill="#000" shape-rendering="crispEdges"/>
<rect x="130" y="664" width="1" height="7" fill="#000" shape-rendering="crispEdges"/>
<rect x="136" y="650" width="1" height="6" fill="#000" shape-rendering="crispEdges"/>
<rect x="136" y="664" width="1" height="7" fill="#000" shape-rendering="crispEdges"/>
<rect x="142" y="650" width="1" height="6" fill="#000" shape-rendering="crispEdges"/>
<rect x="142" y="664" width="1" height="7" fill="#000" shape-rendering="crispEdges"/>
<rect x="147" y="650" width="1" height="6" fill="#000" shape-rendering="crispEdges"/>
<rect x="147" y="664" width="1" height="7" fill="#000" shape-rendering="crispEdges"/>
<rect x="153" y="650" width="1" height="6" fill="#000" shape-rendering="crispEdges"/>
<rect x="153" y="664" width="1" height="7" fill="#000" shape-rendering="crispEdges"/>
<rect x="158" y="650" width="1" height="6" fill="#000" shape-rendering="crispEdges"/>
<rect x="158" y="664" width="1" height="7" fill="#000" shape-rendering="crispEdges"/>
<rect x="164" y="650" width="1" height="6" fill="#000" shape-rendering="crispEdges"/>
<rect x="164" y="664" width="1" height="7" fill="#000" shape-rendering="crispEdges"/>
<rect x="170" y="650" width="1" height="6" fill="#000" shape-rendering="crispEdges"/>
<rect x="170" y="664" width="1" height="7" fill="#000" shape-rendering="crispEdges"/>
<rect x="175" y="650" width="1" height="6" fill="#000" shape-rendering="crispEdges"/>
<rect x="175" y="664" width="1" height="7" fill="#000" shape-rendering="crispEdges"/>
<rect x="181" y="650" width="1" height="6" fill="#000" shape-rendering="crispEdges"/>
<rect x="181" y="664" width="1" height="7" fill="#000" shape-rendering="crispEdges"/>
<rect x="186" y="650" width="1" height="6" fill="#000" shape-rendering="crispEdges"/>
<rect x="186" y="664" width="1" height="7" fill="#000" shape-rendering="crispEdges"/>
<rect x="192" y="650" width="1" height="6" fill="#000" shape-rendering="crispEdges"/>
<rect x="192" y="664" width="1" height="7" fill="#000" shape-rendering="crispEdges"/>
<rect x="198" y="650" width="1" height="6" fill="#000" shape-rendering="crispEdges"/>
<rect x="198" y="664" width="1" height="7" fill="#000" shape-rendering="crispEdges"/>
<rect x="203" y="650" width="1" height="6" fill="#000" shape-rendering="crispEdges"/>
<rect x="203" y="664" width="1" height="7" fill="#000" shape-rendering="crispEdges"/>
<rect x="209" y="650" width="1" height="6" fill="#000" shape-rendering="crispEdges"/>
<rect x="209" y="664" width="1" height="7" fill="#000" shape-rendering="crispEdges"/>
<rect x="214" y="650" width="1" height="6" fill="#000" shape-rendering="crispEdges"/>
<rect x="214" y="664" width="1" height="7" fill="#000" shape-rendering="crispEdges"/>
<rect x="220" y="650" width="1" height="6" fill="#000" shape-rendering="crispEdges"/>
<rect x="220" y="664" width="1" height="7" fill="#000" shape-rendering="crispEdges"/>
<rect x="226" y="650" width="1" height="6" fill="#000" shape-rendering="crispEdges"/>
<rect x="226" y="664" width="1" height="7" fill="#000" shape-rendering="crispEdges"/>
<rect x="231" y="650" width="1" height="6" fill="#000" shape-rendering="crispEdges"/>
<rect x="231" y="664" width="1" height="7" fill="#000" shape-rendering="crispEdges"/>
<rect x="237" y="650" width="1" height="6" fill="#000" shape-rendering="crispEdges"/>
<rect x="237" y="664" width="1" height="7" fill="#000" shape-rendering="crispEdges"/>
<rect x="242" y="650" width="1" height="6" fill="#000" shape-rendering="crispEdges"/>
<rect x="242" y="664" width="1" height="7" fill="#000" shape-rendering="crispEdges"/>
<rect x="248" y="650" width="1" height="6" fill="#000" shape-rendering="crispEdges"/>
<rect x="248" y="664" width="1" height="7" fill="#000" shape-rendering="crispEdges"/>
<rect x="254" y="650" width="1" height="6" fill="#000" shape-rendering="crispEdges"/>
<rect x="254" y="664" width="1" height="7" fill="#000" shape-rendering="crispEdges"/>
<rect x="259" y="650" width="1" height="6" fill="#000" shape-rendering="crispEdges"/>
<rect x="259" y="664" width="1" height="7" fill="#000" shape-rendering="crispEdges"/>
<rect x="265" y="650" width="1" height="6" fill="#000" shape-rendering="crispEdges"/>
<rect x="265" y="664" width="1" height="7" fill="#000" shape-rendering="crispEdges"/>
<rect x="270" y="650" width="1" height="6" fill="#000" shape-rendering="crispEdges"/>
<rect x="270" y="664" width="1" height="7" fill="#000" shape-rendering="crispEdges"/>
<rect x="276" y="650" width="1" height="6" fill="#000" shape-rendering="crispEdges"/>
<rect x="276" y="664" width="1" height="7" fill="#000" shape-rendering="crispEdges"/>
<rect x="282" y="650" width="1" height="6" fill="#000" shape-rendering="crispEdges"/>
<rect x="282" y="664" width="1" height="7" fill="#000" shape-rendering="crispEdges"/>
<rect x="287" y="650" width="1" height="6" fill="#000" shape-rendering="crispEdges"/>
<rect x="287" y="664" width="1" height="7" fill="#000" shape-rendering="crispEdges"/>
<rect x="293" y="650" width="1" height="6" fill="#000" shape-rendering="crispEdges"/>
<rect x="293" y="664" width="1" height="7" fill="#000" shape-rendering="crispEdges"/>
<rect x="298" y="650" width="1" height="6" fill="#000" shape-rendering="crispEdges"/>
<rect x="298" y="664" width="1" height="7" fill="#000" shape-rendering="crispEdges"/>
<rect x="304" y="650" width="1" height="6" fill="#000" shape-rendering="crispEdges"/>
<rect x="304" y="664" width="1" height="7" fill="#000" shape-rendering="crispEdges"/>
<rect x="310" y="650" width="1" height="6" fill="#000" shape-rendering="crispEdges"/>
<rect x="310" y="664" width="1" height="7" fill="#000" shape-rendering="crispEdges"/>
<rect x="315" y="650" width="1" height="6" fill="#000" shape-rendering="crispEdges"/>
<rect x="315" y="664" width="1" height="7" fill="#000" shape-rendering="crispEdges"/>
<rect x="321" y="650" width="1" height="6" fill="#000" shape-rendering="crispEdges"/>
<rect x="321" y="664" width="1" height="7" fill="#000" shape-rendering="crispEdges"/>
<rect x="326" y="650" width="1" height="6" fill="#000" shape-rendering="crispEdges"/>
<rect x="326" y="664" width="1" height="7" fill="#000" shape-rendering="crispEdges"/>
<rect x="332" y="650" width="1" height="6" fill="#000" shape-rendering="crispEdges"/>
<rect x="332" y="664" width="1" height="7" fill="#000" shape-rendering="crispEdges"/>
<rect x="338" y="650" width="1" height="6" fill="#000" shape-rendering="crispEdges"/>
<rect x="338" y="664" width="1" height="7" fill="#000" shape-rendering="crispEdges"/>
<rect x="343" y="650" width="1" height="6" fill="#000" shape-rendering="crispEdges"/>
<rect x="343" y="664" width="1" height="7" fill="#000" shape-rendering="crispEdges"/>
<rect x="349" y="650" width="1" height="6" fill="#000" shape-rendering="crispEdges"/>
<rect x="349" y="664" width="1" height="7" fill="#000" shape-rendering="crispEdges"/>
<rect x="354" y="650" width="1" height="6" fill="#000" shape-rendering="crispEdges"/>
<rect x="354" y="664" width="1" height="7" fill="#000" shape-rendering="crispEdges"/>
<rect x="360" y="650" width="1" height="6" fill="#000" shape-rendering="crispEdges"/>
<rect x="360" y="664" width="1" height="7" fill="#000" shape-rendering="crispEdges"/>
<rect x="366" y="650" width="1" height="6" fill="#000" shape-rendering="crispEdges"/>
<rect x="366" y="664" width="1" height="7" fill="#000" shape-rendering="crispEdges"/>
<rect x="371" y="650" width="1" height="6" fill="#000" shape-rendering="crispEdges"/>
<rect x="371" y="664" width="1" height="7" fill="#000" shape-rendering="crispEdges"/>
<rect x="377" y="650" width="1" height="6" fill="#000" shape-rendering="crispEdges"/>
<rect x="377" y="664" width="1" height="7" fill="#000" shape-rendering="crispEdges"/>
<rect x="394" y="650" width="1" height="6" fill="#000" shape-rendering="crispEdges"/>
<rect x="394" y="664" width="1" height="7" fill="#000" shape-rendering="crispEdges"/>
<rect x="400" y="650" width="1" height="6" fill="#000" shape-rendering="crispEdges"/>
<rect x="400" y="664" width="1" height="7" fill="#000" shape-rendering="crispEdges"/>
<rect x="405" y="650" width="1" height="6" fill="#000" shape-rendering="crispEdges"/>
<rect x="405" y="664" width="1" height="7" fill="#000" shape-rendering="crispEdges"/>
<rect x="411" y="650" width="1" height="6" fill="#000" shape-rendering="crispEdges"/>
<rect x="411" y="664" width="1" height="7" fill="#000" shape-rendering="crispEdges"/>
<rect x="417" y="650" width="1" height="6" fill="#000" shape-rendering="crispEdges"/>
<rect x="417" y="664" width="1" height="7" fill="#000" shape-rendering="crispEdges"/>
<rect x="422" y="650" width="1" height="6" fill="#000" shape-rendering="crispEdges"/>
<rect x="422" y="664" width="1" height="7" fill="#000" shape-rendering="crispEdges"/>
<rect x="428" y="650" width="1" height="6" fill="#000" shape-rendering="crispEdges"/>
<rect x="428" y="664" width="1" height="7" fill="#000" shape-rendering="crispEdges"/>
<rect x="433" y="650" width="1" height="6" fill="#000" shape-rendering="crispEdges"/>
<rect x="433" y="664" width="1" height="7" fill="#000" shape-rendering="crispEdges"/>
<rect x="439" y="650" width="1" height="6" fill="#000" shape-rendering="crispEdges"/>
<rect x="439" y="664" width="1" height="7" fill="#000" shape-rendering="crispEdges"/>
<rect x="445" y="650" width="1" height="6" fill="#000" shape-rendering="crispEdges"/>
<rect x="445" y="664" width="1" height="7" fill="#000" shape-rendering="crispEdges"/>
<rect x="450" y="650" width="1" height="6" fill="#000" shape-rendering="crispEdges"/>
<rect x="450" y="664" width="1" height="7" fill="#000" shape-rendering="crispEdges"/>
<rect x="101.00" y="709.00" width="354.00" height="21.00" fill="#9e9e9e"/>
<rect x="101.00" y="715.00" width="285.50" height="7.60" fill="#ececec"/>
<rect x="391.00" y="715.00" width="64.00" height="7.60" fill="#ececec"/>
<rect x="108" y="709" width="1" height="6" fill="#000" shape-rendering="crispEdges"/>
<rect x="108" y="723" width="1" height="7" fill="#000" shape-rendering="crispEdges"/>
<rect x="114" y="709" width="1" height="6" fill="#000" shape-rendering="crispEdges"/>
<rect x="114" y="723" width="1" height="7" fill="#000" shape-rendering="crispEdges"/>
<rect x="119" y="709" width="1" height="6" fill="#000" shape-rendering="crispEdges"/>
<rect x="119" y="723" width="1" height="7" fill="#000" shape-rendering="crispEdges"/>
<rect x="125" y="709" width="1" height="6" fill="#000" shape-rendering="crispEdges"/>
<rect x="125" y="723" width="1" height="7" fill="#000" shape-rendering="crispEdges"/>
<rect x="130" y="709" width="1" height="6" fill="#000" shape-rendering="crispEdges"/>
<rect x="130" y="723" width="1" height="7" fill="#000" shape-rendering="crispEdges"/>
<rect x="136" y="709" width="1" height="6" fill="#000" shape-rendering="crispEdges"/>
<rect x="136" y="723" width="1" height="7" fill="#000" shape-rendering="crispEdges"/>
<rect x="142" y="709" width="1" height="6" fill="#000" shape-rendering="crispEdges"/>
<rect x="142" y="723" width="1" height="7" fill="#000" shape-rendering="crispEdges"/>
<rect x="147" y="709" width="1" height="6" fill="#000" shape-rendering="crispEdges"/>
<rect x="147" y="723" width="1" height="7" fill="#000" shape-rendering="crispEdges"/>
<rect x="153" y="709" width="1" height="6" fill="#000" shape-rendering="crispEdges"/>
<rect x="153" y="723" width="1" height="7" fill="#000" shape-rendering="crispEdges"/>
<rect x="158" y="709" width="1" height="6" fill="#000" shape-rendering="crispEdges"/>
<rect x="158" y="723" width="1" height="7" fill="#000" shape-rendering="crispEdges"/>
<rect x="164" y="709" width="1" height="6" fill="#000" shape-rendering="crispEdges"/>
<rect x="164" y="723" width="1" height="7" fill="#000" shape-rendering="crispEdges"/>
<rect x="170" y="709" width="1" height="6" fill="#000" shape-rendering="crispEdges"/>
<rect x="170" y="723" width="1" height="7" fill="#000" shape-rendering="crispEdges"/>
<rect x="175" y="709" width="1" height="6" fill="#000" shape-rendering="crispEdges"/>
<rect x="175" y="723" width="1" height="7" fill="#000" shape-rendering="crispEdges"/>
<rect x="181" y="709" width="1" height="6" fill="#000" shape-rendering="crispEdges"/>
<rect x="181" y="723" width="1" height="7" fill="#000" shape-rendering="crispEdges"/>
<rect x="186" y="709" width="1" height="6" fill="#000" shape-rendering="crispEdges"/>
<rect x="186" y="723" width="1" height="7" fill="#000" shape-rendering="crispEdges"/>
<rect x="192" y="709" width="1" height="6" fill="#000" shape-rendering="crispEdges"/>
<rect x="192" y="723" width="1" height="7" fill="#000" shape-rendering="crispEdges"/>
<rect x="198" y="709" width="1" height="6" fill="#000" shape-rendering="crispEdges"/>
<rect x="198" y="723" width="1" height="7" fill="#000" shape-rendering="crispEdges"/>
<rect x="203" y="709" width="1" height="6" fill="#000" shape-rendering="crispEdges"/>
<rect x="203" y="723" width="1" height="7" fill="#000" shape-rendering="crispEdges"/>
<rect x="209" y="709" width="1" height="6" fill="#000" shape-rendering="crispEdges"/>
<rect x="209" y="723" width="1" height="7" fill="#000" shape-rendering="crispEdges"/>
<rect x="214" y="709" width="1" height="6" fill="#000" shape-rendering="crispEdges"/>
<rect x="214" y="723" width="1" height="7" fill="#000" shape-rendering="crispEdges"/>
<rect x="220" y="709" width="1" height="6" fill="#000" shape-rendering="crispEdges"/>
<rect x="220" y="723" width="1" height="7" fill="#000" shape-rendering="crispEdges"/>
<rect x="226" y="709" width="1" height="6" fill="#000" shape-rendering="crispEdges"/>
<rect x="226" y="723" width="1" height="7" fill="#000" shape-rendering="crispEdges"/>
<rect x="231" y="709" width="1" height="6" fill="#000" shape-rendering="crispEdges"/>
<rect x="231" y="723" width="1" height="7" fill="#000" shape-rendering="crispEdges"/>
<rect x="237" y="709" width="1" height="6" fill="#000" shape-rendering="crispEdges"/>
<rect x="237" y="723" width="1" height="7" fill="#000" shape-rendering="crispEdges"/>
<rect x="242" y="709" width="1" height="6" fill="#000" shape-rendering="crispEdges"/>
<rect x="242" y="723" width="1" height="7" fill="#000" shape-rendering="crispEdges"/>
<rect x="248" y="709" width="1" height="6" fill="#000" shape-rendering="crispEdges"/>
<rect x="248" y="723" width="1" height="7" fill="#000" shape-rendering="crispEdges"/>
<rect x="254" y="709" width="1" height="6" fill="#000" shape-rendering="crispEdges"/>
<rect x="254" y="723" width="1" height="7" fill="#000" shape-rendering="crispEdges"/>
<rect x="259" y="709" width="1" height="6" fill="#000" shape-rendering="crispEdges"/>
<rect x="259" y="723" width="1" height="7" fill="#000" shape-rendering="crispEdges"/>
<rect x="265" y="709" width="1" height="6" fill="#000" shape-rendering="crispEdges"/>
<rect x="265" y="723" width="1" height="7" fill="#000" shape-rendering="crispEdges"/>
<rect x="270" y="709" width="1" height="6" fill="#000" shape-rendering="crispEdges"/>
<rect x="270" y="723" width="1" height="7" fill="#000" shape-rendering="crispEdges"/>
<rect x="276" y="709" width="1" height="6" fill="#000" shape-rendering="crispEdges"/>
<rect x="276" y="723" width="1" height="7" fill="#000" shape-rendering="crispEdges"/>
<rect x="282" y="709" width="1" height="6" fill="#000" shape-rendering="crispEdges"/>
<rect x="282" y="723" width="1" height="7" fill="#000" shape-rendering="crispEdges"/>
<rect x="287" y="709" width="1" height="6" fill="#000" shape-rendering="crispEdges"/>
<rect x="287" y="723" width="1" height="7" fill="#000" shape-rendering="crispEdges"/>
<rect x="293" y="709" width="1" height="6" fill="#000" shape-rendering="crispEdges"/>
<rect x="293" y="723" width="1" height="7" fill="#000" shape-rendering="crispEdges"/>
<rect x="298" y="709" width="1" height="6" fill="#000" shape-rendering="crispEdges"/>
<rect x="298" y="723" width="1" height="7" fill="#000" shape-rendering="crispEdges"/>
<rect x="304" y="709" width="1" height="6" fill="#000" shape-rendering="crispEdges"/>
<rect x="304" y="723" width="1" height="7" fill="#000" shape-rendering="crispEdges"/>
<rect x="310" y="709" width="1" height="6" fill="#000" shape-rendering="crispEdges"/>
<rect x="310" y="723" width="1" height="7" fill="#000" shape-rendering="crispEdges"/>
<rect x="315" y="709" width="1" height="6" fill="#000" shape-rendering="crispEdges"/>
<rect x="315" y="723" width="1" height="7" fill="#000" shape-rendering="crispEdges"/>
<rect x="321" y="709" width="1" height="6" fill="#000" shape-rendering="crispEdges"/>
<rect x="321" y="723" width="1" height="7" fill="#000" shape-rendering="crispEdges"/>
<rect x="326" y="709" width="1" height="6" fill="#000" shape-rendering="crispEdges"/>
<rect x="326" y="723" width="1" height="7" fill="#000" shape-rendering="crispEdges"/>
<rect x="332" y="709" width="1" height="6" fill="#000" shape-rendering="crispEdges"/>
<rect x="332" y="723" width="1" height="7" fill="#000" shape-rendering="crispEdges"/>
<rect x="338" y="709" width="1" height="6" fill="#000" shape-rendering="crispEdges"/>
<rect x="338" y="723" width="1" height="7" fill="#000" shape-rendering="crispEdges"/>
<rect x="343" y="709" width="1" height="6" fill="#000" shape-rendering="crispEdges"/>
<rect x="343" y="723" width="1" height="7" fill="#000" shape-rendering="crispEdges"/>
<rect x="349" y="709" width="1" height="6" fill="#000" shape-rendering="crispEdges"/>
<rect x="349" y="723" width="1" height="7" fill="#000" shape-rendering="crispEdges"/>
<rect x="354" y="709" width="1" height="6" fill="#000" shape-rendering="crispEdges"/>
<rect x="354" y="723" width="1" height="7" fill="#000" shape-rendering="crispEdges"/>
<rect x="360" y="709" width="1" height="6" fill="#000" shape-rendering="crispEdges"/>
<rect x="360" y="723" width="1" height="7" fill="#000" shape-rendering="crispEdges"/>
<rect x="366" y="709" width="1" height="6" fill="#000" shape-rendering="crispEdges"/>
<rect x="366" y="723" width="1" height="7" fill="#000" shape-rendering="crispEdges"/>
<rect x="371" y="709" width="1" height="6" fill="#000" shape-rendering="crispEdges"/>
<rect x="371" y="723" width="1" height="7" fill="#000" shape-rendering="crispEdges"/>
<rect x="377" y="709" width="1" height="6" fill="#000" shape-rendering="crispEdges"/>
<rect x="377" y="723" width="1" height="7" fill="#000" shape-rendering="crispEdges"/>
<rect x="394" y="709" width="1" height="6" fill="#000" shape-rendering="crispEdges"/>
<rect x="394" y="723" width="1" height="7" fill="#000" shape-rendering="crispEdges"/>
<rect x="400" y="709" width="1" height="6" fill="#000" shape-rendering="crispEdges"/>
<rect x="400" y="723" width="1" height="7" fill="#000" shape-rendering="crispEdges"/>
<rect x="405" y="709" width="1" height="6" fill="#000" shape-rendering="crispEdges"/>
<rect x="405" y="723" width="1" height="7" fill="#000" shape-rendering="crispEdges"/>
<rect x="411" y="709" width="1" height="6" fill="#000" shape-rendering="crispEdges"/>
<rect x="411" y="723" width="1" height="7" fill="#000" shape-rendering="crispEdges"/>
<rect x="417" y="709" width="1" height="6" fill="#000" shape-rendering="crispEdges"/>
<rect x="417" y="723" width="1" height="7" fill="#000" shape-rendering="crispEdges"/>
<rect x="422" y="709" width="1" height="6" fill="#000" shape-rendering="crispEdges"/>
<rect x="422" y="723" width="1" height="7" fill="#000" shape-rendering="crispEdges"/>
<rect x="428" y="709" width="1" height="6" fill="#000" shape-rendering="crispEdges"/>
<rect x="428" y="723" width="1" height="7" fill="#000" shape-rendering="crispEdges"/>
<rect x="433" y="709" width="1" height="6" fill="#000" shape-rendering="crispEdges"/>
<rect x="433" y="723" width="1" height="7" fill="#000" shape-rendering="crispEdges"/>
<rect x="439" y="709" width="1" height="6" fill="#000" shape-rendering="crispEdges"/>
<rect x="439" y="723" width="1" height="7" fill="#000" shape-rendering="crispEdges"/>
<rect x="445" y="709" width="1" height="6" fill="#000" shape-rendering="crispEdges"/>
<rect x="445" y="723" width="1" height="7" fill="#000" shape-rendering="crispEdges"/>
<rect x="450" y="709" width="1" height="6" fill="#000" shape-rendering="crispEdges"/>
<rect x="450" y="723" width="1" height="7" fill="#000" shape-rendering="crispEdges"/>
<rect x="101.00" y="768.00" width="354.00" height="21.00" fill="#9e9e9e"/>
<rect x="101.00" y="774.00" width="285.50" height="7.60" fill="#ececec"/>
<rect x="391.00" y="774.00" width="64.00" height="7.60" fill="#ececec"/>
<rect x="108" y="768" width="1" height="6" fill="#000" shape-rendering="crispEdges"/>
<rect x="108" y="782" width="1" height="7" fill="#000" shape-rendering="crispEdges"/>
<rect x="114" y="768" width="1" height="6" fill="#000" shape-rendering="crispEdges"/>
<rect x="114" y="782" width="1" height="7" fill="#000" shape-rendering="crispEdges"/>
<rect x="119" y="768" width="1" height="6" fill="#000" shape-rendering="crispEdges"/>
<rect x="119" y="782" width="1" height="7" fill="#000" shape-rendering="crispEdges"/>
<rect x="125" y="768" width="1" height="6" fill="#000" shape-rendering="crispEdges"/>
<rect x="125" y="782" width="1" height="7" fill="#000" shape-rendering="crispEdges"/>
<rect x="130" y="768" width="1" height="6" fill="#000" shape-rendering="crispEdges"/>
<rect x="130" y="782" width="1" height="7" fill="#000" shape-rendering="crispEdges"/>
<rect x="136" y="768" width="1" height="6" fill="#000" shape-rendering="crispEdges"/>
<rect x="136" y="782" width="1" height="7" fill="#000" shape-rendering="crispEdges"/>
<rect x="142" y="768" width="1" height="6" fill="#000" shape-rendering="crispEdges"/>
<rect x="142" y="782" width="1" height="7" fill="#000" shape-rendering="crispEdges"/>
<rect x="147" y="768" width="1" height="6" fill="#000" shape-rendering="crispEdges"/>
<rect x="147" y="782" width="1" height="7" fill="#000" shape-rendering="crispEdges"/>
<rect x="153" y="768" width="1" height="6" fill="#000" shape-rendering="crispEdges"/>
<rect x="153" y="782" width="1" height="7" fill="#000" shape-rendering="crispEdges"/>
<rect x="158" y="768" width="1" height="6" fill="#000" shape-rendering="crispEdges"/>
<rect x="158" y="782" width="1" height="7" fill="#000" shape-rendering="crispEdges"/>
<rect x="164" y="768" width="1" height="6" fill="#000" shape-rendering="crispEdges"/>
<rect x="164" y="782" width="1" height="7" fill="#000" shape-rendering="crispEdges"/>
<rect x="170" y="768" width="1" height="6" fill="#000" shape-rendering="crispEdges"/>
<rect x="170" y="782" width="1" height="7" fill="#000" shape-rendering="crispEdges"/>
<rect x="175" y="768" width="1" height="6" fill="#000" shape-rendering="crispEdges"/>
<rect x="175" y="782" width="1" height="7" fill="#000" shape-rendering="crispEdges"/>
<rect x="181" y="768" width="1" height="6" fill="#000" shape-rendering="crispEdges"/>
<rect x="181" y="782" width="1" height="7" fill="#000" shape-rendering="crispEdges"/>
<rect x="186" y="768" width="1" height="6" fill="#000" shape-rendering="crispEdges"/>
<rect x="186" y="782" width="1" height="7" fill="#000" shape-rendering="crispEdges"/>
<rect x="192" y="768" width="1" height="6" fill="#000" shape-rendering="crispEdges"/>
<rect x="192" y="782" width="1" height="7" fill="#000" shape-rendering="crispEdges"/>
<rect x="198" y="768" width="1" height="6" fill="#000" shape-rendering="crispEdges"/>
<rect x="198" y="782" width="1" height="7" fill="#000" shape-rendering="crispEdges"/>
<rect x="203" y="768" width="1" height="6" fill="#000" shape-rendering="crispEdges"/>
<rect x="203" y="782" width="1" height="7" fill="#000" shape-rendering="crispEdges"/>
<rect x="209" y="768" width="1" height="6" fill="#000" shape-rendering="crispEdges"/>
<rect x="209" y="782" width="1" height="7" fill="#000" shape-rendering="crispEdges"/>
<rect x="214" y="768" width="1" height="6" fill="#000" shape-rendering="crispEdges"/>
<rect x="214" y="782" width="1" height="7" fill="#000" shape-rendering="crispEdges"/>
<rect x="220" y="768" width="1" height="6" fill="#000" shape-rendering="crispEdges"/>
<rect x="220" y="782" width="1" height="7" fill="#000" shape-rendering="crispEdges"/>
<rect x="226" y="768" width="1" height="6" fill="#000" shape-rendering="crispEdges"/>
<rect x="226" y="782" width="1" height="7" fill="#000" shape-rendering="crispEdges"/>
<rect x="231" y="768" width="1" height="6" fill="#000" shape-rendering="crispEdges"/>
<rect x="231" y="782" width="1" height="7" fill="#000" shape-rendering="crispEdges"/>
<rect x="237" y="768" width="1" height="6" fill="#000" shape-rendering="crispEdges"/>
<rect x="237" y="782" width="1" height="7" fill="#000" shape-rendering="crispEdges"/>
<rect x="242" y="768" width="1" height="6" fill="#000" shape-rendering="crispEdges"/>
<rect x="242" y="782" width="1" height="7" fill="#000" shape-rendering="crispEdges"/>
<rect x="248" y="768" width="1" height="6" fill="#000" shape-rendering="crispEdges"/>
<rect x="248" y="782" width="1" height="7" fill="#000" shape-rendering="crispEdges"/>
<rect x="254" y="768" width="1" height="6" fill="#000" shape-rendering="crispEdges"/>
<rect x="254" y="782" width="1" height="7" fill="#000" shape-rendering="crispEdges"/>
<rect x="259" y="768" width="1" height="6" fill="#000" shape-rendering="crispEdges"/>
<rect x="259" y="782" width="1" height="7" fill="#000" shape-rendering="crispEdges"/>
<rect x="265" y="768" width="1" height="6" fill="#000" shape-rendering="crispEdges"/>
<rect x="265" y="782" width="1" height="7" fill="#000" shape-rendering="crispEdges"/>
<rect x="270" y="768" width="1" height="6" fill="#000" shape-rendering="crispEdges"/>
<rect x="270" y="782" width="1" height="7" fill="#000" shape-rendering="crispEdges"/>
<rect x="276" y="768" width="1" height="6" fill="#000" shape-rendering="crispEdges"/>
<rect x="276" y="782" width="1" height="7" fill="#000" shape-rendering="crispEdges"/>
<rect x="282" y="768" width="1" height="6" fill="#000" shape-rendering="crispEdges"/>
<rect x="282" y="782" width="1" height="7" fill="#000" shape-rendering="crispEdges"/>
<rect x="287" y="768" width="1" height="6" fill="#000" shape-rendering="crispEdges"/>
<rect x="287" y="782" width="1" height="7" fill="#000" shape-rendering="crispEdges"/>
<rect x="293" y="768" width="1" height="6" fill="#000" shape-rendering="crispEdges"/>
<rect x="293" y="782" width="1" height="7" fill="#000" shape-rendering="crispEdges"/>
<rect x="298" y="768" width="1" height="6" fill="#000" shape-rendering="crispEdges"/>
<rect x="298" y="782" width="1" height="7" fill="#000" shape-rendering="crispEdges"/>
<rect x="304" y="768" width="1" height="6" fill="#000" shape-rendering="crispEdges"/>
<rect x="304" y="782" width="1" height="7" fill="#000" shape-rendering="crispEdges"/>
<rect x="310" y="768" width="1" height="6" fill="#000" shape-rendering="crispEdges"/>
<rect x="310" y="782" width="1" height="7" fill="#000" shape-rendering="crispEdges"/>
<rect x="315" y="768" width="1" height="6" fill="#000" shape-rendering="crispEdges"/>
<rect x="315" y="782" width="1" height="7" fill="#000" shape-rendering="crispEdges"/>
<rect x="321" y="768" width="1" height="6" fill="#000" shape-rendering="crispEdges"/>
<rect x="321" y="782" width="1" height="7" fill="#000" shape-rendering="crispEdges"/>
<rect x="326" y="768" width="1" height="6" fill="#000" shape-rendering="crispEdges"/>
<rect x="326" y="782" width="1" height="7" fill="#000" shape-rendering="crispEdges"/>
<rect x="332" y="768" width="1" height="6" fill="#000" shape-rendering="crispEdges"/>
<rect x="332" y="782" width="1" height="7" fill="#000" shape-rendering="crispEdges"/>
<rect x="338" y="768" width="1" height="6" fill="#000" shape-rendering="crispEdges"/>
<rect x="338" y="782" width="1" height="7" fill="#000" shape-rendering="crispEdges"/>
<rect x="343" y="768" width="1" height="6" fill="#000" shape-rendering="crispEdges"/>
<rect x="343" y="782" width="1" height="7" fill="#000" shape-rendering="crispEdges"/>
<rect x="349" y="768" width="1" height="6" fill="#000" shape-rendering="crispEdges"/>
<rect x="349" y="782" width="1" height="7" fill="#000" shape-rendering="crispEdges"/>
<rect x="354" y="768" width="1" height="6" fill="#000" shape-rendering="crispEdges"/>
<rect x="354" y="782" width="1" height="7" fill="#000" shape-rendering="crispEdges"/>
<rect x="360" y="768" width="1" height="6" fill="#000" shape-rendering="crispEdges"/>
<rect x="360" y="782" width="1" height="7" fill="#000" shape-rendering="crispEdges"/>
<rect x="366" y="768" width="1" height="6" fill="#000" shape-rendering="crispEdges"/>
<rect x="366" y="782" width="1" height="7" fill="#000" shape-rendering="crispEdges"/>
<rect x="371" y="768" width="1" height="6" fill="#000" shape-rendering="crispEdges"/>
<rect x="371" y="782" width="1" height="7" fill="#000" shape-rendering="crispEdges"/>
<rect x="377" y="768" width="1" height="6" fill="#000" shape-rendering="crispEdges"/>
<rect x="377" y="782" width="1" height="7" fill="#000" shape-rendering="crispEdges"/>
<rect x="394" y="768" width="1" height="6" fill="#000" shape-rendering="crispEdges"/>
<rect x="394" y="782" width="1" height="7" fill="#000" shape-rendering="crispEdges"/>
<rect x="400" y="768" width="1" height="6" fill="#000" shape-rendering="crispEdges"/>
<rect x="400" y="782" width="1" height="7" fill="#000" shape-rendering="crispEdges"/>
<rect x="405" y="768" width="1" height="6" fill="#000" shape-rendering="crispEdges"/>
<rect x="405" y="782" width="1" height="7" fill="#000" shape-rendering="crispEdges"/>
<rect x="411" y="768" width="1" height="6" fill="#000" shape-rendering="crispEdges"/>
<rect x="411" y="782" width="1" height="7" fill="#000" shape-rendering="crispEdges"/>
<rect x="417" y="768" width="1" height="6" fill="#000" shape-rendering="crispEdges"/>
<rect x="417" y="782" width="1" height="7" fill="#000" shape-rendering="crispEdges"/>
<rect x="422" y="768" width="1" height="6" fill="#000" shape-rendering="crispEdges"/>
<rect x="422" y="782" width="1" height="7" fill="#000" shape-rendering="crispEdges"/>
<rect x="428" y="768" width="1" height="6" fill="#000" shape-rendering="crispEdges"/>
<rect x="428" y="782" width="1" height="7" fill="#000" shape-rendering="crispEdges"/>
<rect x="433" y="768" width="1" height="6" fill="#000" shape-rendering="crispEdges"/>
<rect x="433" y="782" width="1" height="7" fill="#000" shape-rendering="crispEdges"/>
<rect x="439" y="768" width="1" height="6" fill="#000" shape-rendering="crispEdges"/>
<rect x="439" y="782" width="1" height="7" fill="#000" shape-rendering="crispEdges"/>
<rect x="445" y="768" width="1" height="6" fill="#000" shape-rendering="crispEdges"/>
<rect x="445" y="782" width="1" height="7" fill="#000" shape-rendering="crispEdges"/>
<rect x="450" y="768" width="1" height="6" fill="#000" shape-rendering="crispEdges"/>
<rect x="450" y="782" width="1" height="7" fill="#000" shape-rendering="crispEdges"/>
<rect x="101.00" y="842.00" width="354.00" height="21.00" fill="#9e9e9e"/>
<rect x="101.00" y="848.00" width="285.50" height="7.60" fill="#ececec"/>
<rect x="391.00" y="848.00" width="64.00" height="7.60" fill="#ececec"/>
<rect x="108" y="842" width="1" height="6" fill="#000" shape-rendering="crispEdges"/>
<rect x="108" y="856" width="1" height="7" fill="#000" shape-rendering="crispEdges"/>
<rect x="114" y="842" width="1" height="6" fill="#000" shape-rendering="crispEdges"/>
<rect x="114" y="856" width="1" height="7" fill="#000" shape-rendering="crispEdges"/>
<rect x="119" y="842" width="1" height="6" fill="#000" shape-rendering="crispEdges"/>
<rect x="119" y="856" width="1" height="7" fill="#000" shape-rendering="crispEdges"/>
<rect x="125" y="842" width="1" height="6" fill="#000" shape-rendering="crispEdges"/>
<rect x="125" y="856" width="1" height="7" fill="#000" shape-rendering="crispEdges"/>
<rect x="130" y="842" width="1" height="6" fill="#000" shape-rendering="crispEdges"/>
<rect x="130" y="856" width="1" height="7" fill="#000" shape-rendering="crispEdges"/>
<rect x="136" y="842" width="1" height="6" fill="#000" shape-rendering="crispEdges"/>
<rect x="136" y="856" width="1" height="7" fill="#000" shape-rendering="crispEdges"/>
<rect x="142" y="842" width="1" height="6" fill="#000" shape-rendering="crispEdges"/>
<rect x="142" y="856" width="1" height="7" fill="#000" shape-rendering="crispEdges"/>
<rect x="147" y="842" width="1" height="6" fill="#000" shape-rendering="crispEdges"/>
<rect x="147" y="856" width="1" height="7" fill="#000" shape-rendering="crispEdges"/>
<rect x="153" y="842" width="1" height="6" fill="#000" shape-rendering="crispEdges"/>
<rect x="153" y="856" width="1" height="7" fill="#000" shape-rendering="crispEdges"/>
<rect x="158" y="842" width="1" height="6" fill="#000" shape-rendering="crispEdges"/>
<rect x="158" y="856" width="1" height="7" fill="#000" shape-rendering="crispEdges"/>
<rect x="164" y="842" width="1" height="6" fill="#000" shape-rendering="crispEdges"/>
<rect x="164" y="856" width="1" height="7" fill="#000" shape-rendering="crispEdges"/>
<rect x="170" y="842" width="1" height="6" fill="#000" shape-rendering="crispEdges"/>
<rect x="170" y="856" width="1" height="7" fill="#000" shape-rendering="crispEdges"/>
<rect x="175" y="842" width="1" height="6" fill="#000" shape-rendering="crispEdges"/>
<rect x="175" y="856" width="1" height="7" fill="#000" shape-rendering="crispEdges"/>
<rect x="181" y="842" width="1" height="6" fill="#000" shape-rendering="crispEdges"/>
<rect x="181" y="856" width="1" height="7" fill="#000" shape-rendering="crispEdges"/>
<rect x="186" y="842" width="1" height="6" fill="#000" shape-rendering="crispEdges"/>
<rect x="186" y="856" width="1" height="7" fill="#000" shape-rendering="crispEdges"/>
<rect x="192" y="842" width="1" height="6" fill="#000" shape-rendering="crispEdges"/>
<rect x="192" y="856" width="1" height="7" fill="#000" shape-rendering="crispEdges"/>
<rect x="198" y="842" width="1" height="6" fill="#000" shape-rendering="crispEdges"/>
<rect x="198" y="856" width="1" height="7" fill="#000" shape-rendering="crispEdges"/>
<rect x="203" y="842" width="1" height="6" fill="#000" shape-rendering="crispEdges"/>
<rect x="203" y="856" width="1" height="7" fill="#000" shape-rendering="crispEdges"/>
<rect x="209" y="842" width="1" height="6" fill="#000" shape-rendering="crispEdges"/>
<rect x="209" y="856" width="1" height="7" fill="#000" shape-rendering="crispEdges"/>
<rect x="214" y="842" width="1" height="6" fill="#000" shape-rendering="crispEdges"/>
<rect x="214" y="856" width="1" height="7" fill="#000" shape-rendering="crispEdges"/>
<rect x="220" y="842" width="1" height="6" fill="#000" shape-rendering="crispEdges"/>
<rect x="220" y="856" width="1" height="7" fill="#000" shape-rendering="crispEdges"/>
<rect x="226" y="842" width="1" height="6" fill="#000" shape-rendering="crispEdges"/>
<rect x="226" y="856" width="1" height="7" fill="#000" shape-rendering="crispEdges"/>
<rect x="231" y="842" width="1" height="6" fill="#000" shape-rendering="crispEdges"/>
<rect x="231" y="856" width="1" height="7" fill="#000" shape-rendering="crispEdges"/>
<rect x="237" y="842" width="1" height="6" fill="#000" shape-rendering="crispEdges"/>
<rect x="237" y="856" width="1" height="7" fill="#000" shape-rendering="crispEdges"/>
<rect x="242" y="842" width="1" height="6" fill="#000" shape-rendering="crispEdges"/>
<rect x="242" y="856" width="1" height="7" fill="#000" shape-rendering="crispEdges"/>
<rect x="248" y="842" width="1" height="6" fill="#000" shape-rendering="crispEdges"/>
<rect x="248" y="856" width="1" height="7" fill="#000" shape-rendering="crispEdges"/>
<rect x="254" y="842" width="1" height="6" fill="#000" shape-rendering="crispEdges"/>
<rect x="254" y="856" width="1" height="7" fill="#000" shape-rendering="crispEdges"/>
<rect x="259" y="842" width="1" height="6" fill="#000" shape-rendering="crispEdges"/>
<rect x="259" y="856" width="1" height="7" fill="#000" shape-rendering="crispEdges"/>
<rect x="265" y="842" width="1" height="6" fill="#000" shape-rendering="crispEdges"/>
<rect x="265" y="856" width="1" height="7" fill="#000" shape-rendering="crispEdges"/>
<rect x="270" y="842" width="1" height="6" fill="#000" shape-rendering="crispEdges"/>
<rect x="270" y="856" width="1" height="7" fill="#000" shape-rendering="crispEdges"/>
<rect x="276" y="842" width="1" height="6" fill="#000" shape-rendering="crispEdges"/>
<rect x="276" y="856" width="1" height="7" fill="#000" shape-rendering="crispEdges"/>
<rect x="282" y="842" width="1" height="6" fill="#000" shape-rendering="crispEdges"/>
<rect x="282" y="856" width="1" height="7" fill="#000" shape-rendering="crispEdges"/>
<rect x="287" y="842" width="1" height="6" fill="#000" shape-rendering="crispEdges"/>
<rect x="287" y="856" width="1" height="7" fill="#000" shape-rendering="crispEdges"/>
<rect x="293" y="842" width="1" height="6" fill="#000" shape-rendering="crispEdges"/>
<rect x="293" y="856" width="1" height="7" fill="#000" shape-rendering="crispEdges"/>
<rect x="298" y="842" width="1" height="6" fill="#000" shape-rendering="crispEdges"/>
<rect x="298" y="856" width="1" height="7" fill="#000" shape-rendering="crispEdges"/>
<rect x="304" y="842" width="1" height="6" fill="#000" shape-rendering="crispEdges"/>
<rect x="304" y="856" width="1" height="7" fill="#000" shape-rendering="crispEdges"/>
<rect x="310" y="842" width="1" height="6" fill="#000" shape-rendering="crispEdges"/>
<rect x="310" y="856" width="1" height="7" fill="#000" shape-rendering="crispEdges"/>
<rect x="315" y="842" width="1" height="6" fill="#000" shape-rendering="crispEdges"/>
<rect x="315" y="856" width="1" height="7" fill="#000" shape-rendering="crispEdges"/>
<rect x="321" y="842" width="1" height="6" fill="#000" shape-rendering="crispEdges"/>
<rect x="321" y="856" width="1" height="7" fill="#000" shape-rendering="crispEdges"/>
<rect x="326" y="842" width="1" height="6" fill="#000" shape-rendering="crispEdges"/>
<rect x="326" y="856" width="1" height="7" fill="#000" shape-rendering="crispEdges"/>
<rect x="332" y="842" width="1" height="6" fill="#000" shape-rendering="crispEdges"/>
<rect x="332" y="856" width="1" height="7" fill="#000" shape-rendering="crispEdges"/>
<rect x="338" y="842" width="1" height="6" fill="#000" shape-rendering="crispEdges"/>
<rect x="338" y="856" width="1" height="7" fill="#000" shape-rendering="crispEdges"/>
<rect x="343" y="842" width="1" height="6" fill="#000" shape-rendering="crispEdges"/>
<rect x="343" y="856" width="1" height="7" fill="#000" shape-rendering="crispEdges"/>
<rect x="349" y="842" width="1" height="6" fill="#000" shape-rendering="crispEdges"/>
<rect x="349" y="856" width="1" height="7" fill="#000" shape-rendering="crispEdges"/>
<rect x="354" y="842" width="1" height="6" fill="#000" shape-rendering="crispEdges"/>
<rect x="354" y="856" width="1" height="7" fill="#000" shape-rendering="crispEdges"/>
<rect x="360" y="842" width="1" height="6" fill="#000" shape-rendering="crispEdges"/>
<rect x="360" y="856" width="1" height="7" fill="#000" shape-rendering="crispEdges"/>
<rect x="366" y="842" width="1" height="6" fill="#000" shape-rendering="crispEdges"/>
<rect x="366" y="856" width="1" height="7" fill="#000" shape-rendering="crispEdges"/>
<rect x="371" y="842" width="1" height="6" fill="#000" shape-rendering="crispEdges"/>
<rect x="371" y="856" width="1" height="7" fill="#000" shape-rendering="crispEdges"/>
<rect x="377" y="842" width="1" height="6" fill="#000" shape-rendering="crispEdges"/>
<rect x="377" y="856" width="1" height="7" fill="#000" shape-rendering="crispEdges"/>
<rect x="394" y="842" width="1" height="6" fill="#000" shape-rendering="crispEdges"/>
<rect x="394" y="856" width="1" height="7" fill="#000" shape-rendering="crispEdges"/>
<rect x="400" y="842" width="1" height="6" fill="#000" shape-rendering="crispEdges"/>
<rect x="400" y="856" width="1" height="7" fill="#000" shape-rendering="crispEdges"/>
<rect x="405" y="842" width="1" height="6" fill="#000" shape-rendering="crispEdges"/>
<rect x="405" y="856" width="1" height="7" fill="#000" shape-rendering="crispEdges"/>
<rect x="411" y="842" width="1" height="6" fill="#000" shape-rendering="crispEdges"/>
<rect x="411" y="856" width="1" height="7" fill="#000" shape-rendering="crispEdges"/>
<rect x="417" y="842" width="1" height="6" fill="#000" shape-rendering="crispEdges"/>
<rect x="417" y="856" width="1" height="7" fill="#000" shape-rendering="crispEdges"/>
<rect x="422" y="842" width="1" height="6" fill="#000" shape-rendering="crispEdges"/>
<rect x="422" y="856" width="1" height="7" fill="#000" shape-rendering="crispEdges"/>
<rect x="428" y="842" width="1" height="6" fill="#000" shape-rendering="crispEdges"/>
<rect x="428" y="856" width="1" height="7" fill="#000" shape-rendering="crispEdges"/>
<rect x="433" y="842" width="1" height="6" fill="#000" shape-rendering="crispEdges"/>
<rect x="433" y="856" width="1" height="7" fill="#000" shape-rendering="crispEdges"/>
<rect x="439" y="842" width="1" height="6" fill="#000" shape-rendering="crispEdges"/>
<rect x="439" y="856" width="1" height="7" fill="#000" shape-rendering="crispEdges"/>
<rect x="445" y="842" width="1" height="6" fill="#000" shape-rendering="crispEdges"/>
<rect x="445" y="856" width="1" height="7" fill="#000" shape-rendering="crispEdges"/>
<rect x="450" y="842" width="1" height="6" fill="#000" shape-rendering="crispEdges"/>
<rect x="450" y="856" width="1" height="7" fill="#000" shape-rendering="crispEdges"/>
<text transform="translate(478.10,549.50) rotate(-90) scale(0.8,1)" font-size="17" xml:space="preserve" ><tspan stroke="#000" stroke-width="0.25">PCI 1</tspan></text>
<text transform="translate(478.10,613.40) rotate(-90) scale(0.8,1)" font-size="17" xml:space="preserve" ><tspan stroke="#000" stroke-width="0.25">PCI 2</tspan></text>
<text transform="translate(478.10,679.00) rotate(-90) scale(0.8,1)" font-size="17" xml:space="preserve" ><tspan stroke="#000" stroke-width="0.25">PCI 3</tspan></text>
<text transform="translate(478.10,740.10) rotate(-90) scale(0.8,1)" font-size="17" xml:space="preserve" ><tspan stroke="#000" stroke-width="0.25">PCI 4</tspan></text>
<text transform="translate(478.10,818.90) rotate(-90) scale(0.8,1)" font-size="17" xml:space="preserve" ><tspan stroke="#000" stroke-width="0.25">PCI 5</tspan></text>
<text transform="translate(478.10,874.60) rotate(-90) scale(0.8,1)" font-size="17" xml:space="preserve" ><tspan stroke="#000" stroke-width="0.25">PCI 6</tspan></text>
<rect x="9.80" y="713.70" width="55.00" height="16.20" fill="#000"/>
<ellipse cx="17.70" cy="722.00" rx="3.20" ry="3.20" fill="#fff"/>
<ellipse cx="37.30" cy="722.00" rx="3.20" ry="3.20" fill="#fff"/>
<ellipse cx="47.10" cy="722.00" rx="3.20" ry="3.20" fill="#fff"/>
<ellipse cx="57.00" cy="722.00" rx="3.20" ry="3.20" fill="#fff"/>
<path d="M52.60,697.00 L52.60,714.00" fill="none" stroke="#000" stroke-width="2.6" stroke-linejoin="miter" stroke-linecap="butt"/>
<path d="M19.2,730.7 L14.149999999999999,744.7 L24.25,744.7 Z"/>
<rect x="17.70" y="743.70" width="3.00" height="26.70" fill="#000"/>
<path d="M19.20,769.30 L33.00,769.30" fill="none" stroke="#000" stroke-width="2.8" stroke-linejoin="miter" stroke-linecap="butt"/>
<path d="M35.20,767.60 L47.20,767.60 M35.50,767.30 L39.20,771.00" fill="none" stroke="#000" stroke-width="1.6"/>
<text transform="translate(59.00,691.20) rotate(-90) scale(0.8,1)" font-size="17" xml:space="preserve" ><tspan stroke="#000" stroke-width="0.5" letter-spacing="0.2">CN12:</tspan></text>
<text transform="translate(79.00,688.00) rotate(-90) scale(0.8,1)" font-size="17" xml:space="preserve" ><tspan stroke="#000" stroke-width="0.25">IR</tspan></text>
<rect x="32.80" y="796.10" width="55.20" height="5.60" fill="#a8a8a8"/>
<rect x="32.80" y="804.10" width="55.20" height="6.70" fill="#a8a8a8"/>
<ellipse cx="44.90" cy="798.50" rx="4.20" ry="3.50" fill="#000"/>
<ellipse cx="44.90" cy="807.60" rx="4.20" ry="3.50" fill="#000"/>
<ellipse cx="60.50" cy="798.50" rx="4.20" ry="3.50" fill="#000"/>
<ellipse cx="60.50" cy="807.60" rx="4.20" ry="3.50" fill="#000"/>
<ellipse cx="76.00" cy="798.50" rx="4.20" ry="3.50" fill="#000"/>
<ellipse cx="76.00" cy="807.60" rx="4.20" ry="3.50" fill="#000"/>
<path d="M43.6,794.1 L38.550000000000004,781.4 L48.65,781.4 Z"/>
<rect x="42.15" y="777.10" width="2.90" height="5.30" fill="#000"/>
<path d="M43.6,814.2 L38.6,828.9000000000001 L48.6,828.9000000000001 Z"/>
<rect x="42.15" y="827.90" width="2.90" height="9.80" fill="#000"/>
<path d="M70.50,789.20 L70.50,796.50 L74.00,796.50" fill="none" stroke="#000" stroke-width="2.8" stroke-linejoin="miter" stroke-linecap="butt"/>
<path d="M82.50,810.00 L82.50,826.00" fill="none" stroke="#000" stroke-width="2.7" stroke-linejoin="miter" stroke-linecap="butt"/>
<path d="M32.80,850.50 L44.80,850.50 M33.10,850.20 L36.80,853.90" fill="none" stroke="#000" stroke-width="1.6"/>
<text transform="translate(70.60,786.00) rotate(-90) scale(0.8,1)" font-size="17" xml:space="preserve" ><tspan stroke="#000" stroke-width="0.5" letter-spacing="0.2">CN16:</tspan></text>
<text transform="translate(90.50,783.00) rotate(-90) scale(0.8,1)" font-size="17" xml:space="preserve" ><tspan stroke="#000" stroke-width="0.25">WOL</tspan></text>
<text transform="translate(67.90,865.60) rotate(-90) scale(0.8,1)" font-size="17" xml:space="preserve" ><tspan stroke="#000" stroke-width="0.5" letter-spacing="0.2">CN24:</tspan></text>
<text transform="translate(87.30,863.00) rotate(-90) scale(0.8,1)" font-size="17" xml:space="preserve" ><tspan stroke="#000" stroke-width="0.25">WOM</tspan></text>
<rect x="40.80" y="883.80" width="147.10" height="22.80" fill="#d6d6d6"/>
<rect x="49.80" y="892.00" width="80.40" height="6.70" fill="#fff"/>
<rect x="137.00" y="892.00" width="41.90" height="6.70" fill="#fff"/>
<rect x="56" y="884" width="1" height="7" fill="#000" shape-rendering="crispEdges"/>
<rect x="56" y="899" width="1" height="7" fill="#000" shape-rendering="crispEdges"/>
<rect x="60" y="884" width="1" height="7" fill="#000" shape-rendering="crispEdges"/>
<rect x="60" y="899" width="1" height="7" fill="#000" shape-rendering="crispEdges"/>
<rect x="64" y="884" width="1" height="7" fill="#000" shape-rendering="crispEdges"/>
<rect x="64" y="899" width="1" height="7" fill="#000" shape-rendering="crispEdges"/>
<rect x="68" y="884" width="1" height="7" fill="#000" shape-rendering="crispEdges"/>
<rect x="68" y="899" width="1" height="7" fill="#000" shape-rendering="crispEdges"/>
<rect x="71" y="884" width="1" height="7" fill="#000" shape-rendering="crispEdges"/>
<rect x="71" y="899" width="1" height="7" fill="#000" shape-rendering="crispEdges"/>
<rect x="75" y="884" width="1" height="7" fill="#000" shape-rendering="crispEdges"/>
<rect x="75" y="899" width="1" height="7" fill="#000" shape-rendering="crispEdges"/>
<rect x="79" y="884" width="1" height="7" fill="#000" shape-rendering="crispEdges"/>
<rect x="79" y="899" width="1" height="7" fill="#000" shape-rendering="crispEdges"/>
<rect x="83" y="884" width="1" height="7" fill="#000" shape-rendering="crispEdges"/>
<rect x="83" y="899" width="1" height="7" fill="#000" shape-rendering="crispEdges"/>
<rect x="87" y="884" width="1" height="7" fill="#000" shape-rendering="crispEdges"/>
<rect x="87" y="899" width="1" height="7" fill="#000" shape-rendering="crispEdges"/>
<rect x="91" y="884" width="1" height="7" fill="#000" shape-rendering="crispEdges"/>
<rect x="91" y="899" width="1" height="7" fill="#000" shape-rendering="crispEdges"/>
<rect x="94" y="884" width="1" height="7" fill="#000" shape-rendering="crispEdges"/>
<rect x="94" y="899" width="1" height="7" fill="#000" shape-rendering="crispEdges"/>
<rect x="98" y="884" width="1" height="7" fill="#000" shape-rendering="crispEdges"/>
<rect x="98" y="899" width="1" height="7" fill="#000" shape-rendering="crispEdges"/>
<rect x="102" y="884" width="1" height="7" fill="#000" shape-rendering="crispEdges"/>
<rect x="102" y="899" width="1" height="7" fill="#000" shape-rendering="crispEdges"/>
<rect x="106" y="884" width="1" height="7" fill="#000" shape-rendering="crispEdges"/>
<rect x="106" y="899" width="1" height="7" fill="#000" shape-rendering="crispEdges"/>
<rect x="110" y="884" width="1" height="7" fill="#000" shape-rendering="crispEdges"/>
<rect x="110" y="899" width="1" height="7" fill="#000" shape-rendering="crispEdges"/>
<rect x="114" y="884" width="1" height="7" fill="#000" shape-rendering="crispEdges"/>
<rect x="114" y="899" width="1" height="7" fill="#000" shape-rendering="crispEdges"/>
<rect x="118" y="884" width="1" height="7" fill="#000" shape-rendering="crispEdges"/>
<rect x="118" y="899" width="1" height="7" fill="#000" shape-rendering="crispEdges"/>
<rect x="121" y="884" width="1" height="7" fill="#000" shape-rendering="crispEdges"/>
<rect x="121" y="899" width="1" height="7" fill="#000" shape-rendering="crispEdges"/>
<rect x="125" y="884" width="1" height="7" fill="#000" shape-rendering="crispEdges"/>
<rect x="125" y="899" width="1" height="7" fill="#000" shape-rendering="crispEdges"/>
<rect x="139" y="884" width="1" height="7" fill="#000" shape-rendering="crispEdges"/>
<rect x="139" y="899" width="1" height="7" fill="#000" shape-rendering="crispEdges"/>
<rect x="143" y="884" width="1" height="7" fill="#000" shape-rendering="crispEdges"/>
<rect x="143" y="899" width="1" height="7" fill="#000" shape-rendering="crispEdges"/>
<rect x="147" y="884" width="1" height="7" fill="#000" shape-rendering="crispEdges"/>
<rect x="147" y="899" width="1" height="7" fill="#000" shape-rendering="crispEdges"/>
<rect x="150" y="884" width="1" height="7" fill="#000" shape-rendering="crispEdges"/>
<rect x="150" y="899" width="1" height="7" fill="#000" shape-rendering="crispEdges"/>
<rect x="154" y="884" width="1" height="7" fill="#000" shape-rendering="crispEdges"/>
<rect x="154" y="899" width="1" height="7" fill="#000" shape-rendering="crispEdges"/>
<rect x="158" y="884" width="1" height="7" fill="#000" shape-rendering="crispEdges"/>
<rect x="158" y="899" width="1" height="7" fill="#000" shape-rendering="crispEdges"/>
<rect x="162" y="884" width="1" height="7" fill="#000" shape-rendering="crispEdges"/>
<rect x="162" y="899" width="1" height="7" fill="#000" shape-rendering="crispEdges"/>
<rect x="166" y="884" width="1" height="7" fill="#000" shape-rendering="crispEdges"/>
<rect x="166" y="899" width="1" height="7" fill="#000" shape-rendering="crispEdges"/>
<rect x="170" y="884" width="1" height="7" fill="#000" shape-rendering="crispEdges"/>
<rect x="170" y="899" width="1" height="7" fill="#000" shape-rendering="crispEdges"/>
<rect x="173" y="884" width="1" height="7" fill="#000" shape-rendering="crispEdges"/>
<rect x="173" y="899" width="1" height="7" fill="#000" shape-rendering="crispEdges"/>
<rect x="177" y="884" width="1" height="7" fill="#000" shape-rendering="crispEdges"/>
<rect x="177" y="899" width="1" height="7" fill="#000" shape-rendering="crispEdges"/>
<text transform="translate(217.00,902.00) rotate(-90) scale(0.8,1)" font-size="17" xml:space="preserve" ><tspan stroke="#000" stroke-width="0.5" letter-spacing="0.2">CNR</tspan></text>
<rect x="525.20" y="582.10" width="45.70" height="13.60" fill="#000"/>
<rect x="525.20" y="598.30" width="45.70" height="13.60" fill="#000"/>
<ellipse cx="530.30" cy="588.90" rx="3.65" ry="4.50" fill="#fff"/>
<ellipse cx="530.30" cy="605.00" rx="3.65" ry="4.50" fill="#fff"/>
<ellipse cx="539.18" cy="588.90" rx="3.65" ry="4.50" fill="#fff"/>
<ellipse cx="539.18" cy="605.00" rx="3.65" ry="4.50" fill="#fff"/>
<ellipse cx="548.06" cy="588.90" rx="3.65" ry="4.50" fill="#fff"/>
<ellipse cx="548.06" cy="605.00" rx="3.65" ry="4.50" fill="#fff"/>
<ellipse cx="556.94" cy="588.90" rx="3.65" ry="4.50" fill="#fff"/>
<ellipse cx="556.94" cy="605.00" rx="3.65" ry="4.50" fill="#fff"/>
<ellipse cx="565.82" cy="588.90" rx="3.65" ry="4.50" fill="#fff"/>
<ellipse cx="565.82" cy="605.00" rx="3.65" ry="4.50" fill="#fff"/>
<rect x="625.10" y="582.10" width="46.00" height="13.60" fill="#000"/>
<rect x="625.10" y="598.30" width="46.00" height="13.60" fill="#000"/>
<ellipse cx="630.20" cy="588.90" rx="3.65" ry="4.50" fill="#fff"/>
<ellipse cx="630.20" cy="605.00" rx="3.65" ry="4.50" fill="#fff"/>
<ellipse cx="639.08" cy="588.90" rx="3.65" ry="4.50" fill="#fff"/>
<ellipse cx="639.08" cy="605.00" rx="3.65" ry="4.50" fill="#fff"/>
<ellipse cx="647.96" cy="588.90" rx="3.65" ry="4.50" fill="#fff"/>
<ellipse cx="647.96" cy="605.00" rx="3.65" ry="4.50" fill="#fff"/>
<ellipse cx="656.84" cy="588.90" rx="3.65" ry="4.50" fill="#fff"/>
<ellipse cx="656.84" cy="605.00" rx="3.65" ry="4.50" fill="#fff"/>
<ellipse cx="665.72" cy="588.90" rx="3.65" ry="4.50" fill="#fff"/>
<ellipse cx="665.72" cy="605.00" rx="3.65" ry="4.50" fill="#fff"/>
<path d="M526.8,583.2 L521.9,573.6 L531.6999999999999,573.6 Z"/>
<rect x="525.45" y="566.80" width="2.70" height="7.80" fill="#000"/>
<path d="M565.5,611.8 L560.9,624.1999999999999 L570.1,624.1999999999999 Z"/>
<rect x="564.10" y="623.20" width="2.80" height="4.80" fill="#000"/>
<path d="M630.6,581.4 L625.6,568.0 L635.6,568.0 Z"/>
<rect x="629.00" y="555.10" width="3.20" height="13.90" fill="#000"/>
<path d="M666.3,612.3 L661.55,627.1999999999999 L671.05,627.1999999999999 Z"/>
<rect x="664.75" y="626.20" width="3.10" height="4.50" fill="#000"/>
<path d="M519.90,588.20 L525.50,588.20" fill="none" stroke="#000" stroke-width="3.2" stroke-linejoin="miter" stroke-linecap="butt"/>
<path d="M570.50,606.40 L578.10,606.40" fill="none" stroke="#000" stroke-width="3.2" stroke-linejoin="miter" stroke-linecap="butt"/>
<path d="M670.80,590.30 L678.60,590.30" fill="none" stroke="#000" stroke-width="3.2" stroke-linejoin="miter" stroke-linecap="butt"/>
<path d="M615.00,606.30 L625.50,606.30" fill="none" stroke="#000" stroke-width="2.8" stroke-linejoin="miter" stroke-linecap="butt"/>
<path d="M533.00,557.20 L545.00,557.20 M533.30,556.90 L537.00,560.60" fill="none" stroke="#000" stroke-width="1.6"/>
<path d="M551.60,637.60 L563.60,637.60 M551.90,637.30 L555.60,641.00" fill="none" stroke="#000" stroke-width="1.6"/>
<path d="M634.10,554.20 L646.10,554.20 M634.40,553.90 L638.10,557.60" fill="none" stroke="#000" stroke-width="1.6"/>
<path d="M652.40,634.10 L664.40,634.10 M652.70,633.80 L656.40,637.50" fill="none" stroke="#000" stroke-width="1.6"/>
<text transform="translate(518.70,635.30) rotate(-90) scale(0.8,1)" font-size="17" xml:space="preserve" ><tspan stroke="#000" stroke-width="0.5" letter-spacing="0.4">CN30:</tspan><tspan stroke="#000" stroke-width="0.25"> USB 3</tspan></text>
<text transform="translate(592.50,635.30) rotate(-90) scale(0.8,1)" font-size="17" xml:space="preserve" ><tspan stroke="#000" stroke-width="0.5" letter-spacing="0.4">CN31:</tspan><tspan stroke="#000" stroke-width="0.25"> USB 4</tspan></text>
<text transform="translate(612.00,635.30) rotate(-90) scale(0.8,1)" font-size="17" xml:space="preserve" ><tspan stroke="#000" stroke-width="0.5" letter-spacing="0.4">CN38:</tspan><tspan stroke="#000" stroke-width="0.25"> USB 6</tspan></text>
<text transform="translate(693.50,636.80) rotate(-90) scale(0.8,1)" font-size="17" xml:space="preserve" ><tspan stroke="#000" stroke-width="0.5" letter-spacing="0.4">CN32:</tspan><tspan stroke="#000" stroke-width="0.25"> USB 5</tspan></text>
<rect x="525.00" y="759.00" width="38.80" height="7.60" fill="#000"/>
<ellipse cx="532.00" cy="762.80" rx="4.40" ry="3.30" fill="#fff"/>
<ellipse cx="545.00" cy="762.80" rx="4.40" ry="3.30" fill="#fff"/>
<ellipse cx="558.00" cy="762.80" rx="4.40" ry="3.30" fill="#fff"/>
<path d="M524.8,762.8 L512.0999999999999,757.9499999999999 L512.0999999999999,767.65 Z"/>
<rect x="508.10" y="761.40" width="5.00" height="2.80" fill="#000"/>
<path d="M492.00,762.00 L504.00,762.00 M492.30,761.70 L496.00,765.40" fill="none" stroke="#000" stroke-width="1.6"/>
<path d="M535.40,766.00 L535.40,792.40 L511.00,792.40" fill="none" stroke="#000" stroke-width="2.8" stroke-linejoin="miter" stroke-linecap="butt"/>
<text transform="translate(509.80,898.70) rotate(-90) scale(0.8,1)" font-size="17" xml:space="preserve" ><tspan stroke="#000" stroke-width="0.5" letter-spacing="0.2">JP13:</tspan><tspan stroke="#000" stroke-width="0.25"> Clear CMOS</tspan></text>
<text transform="translate(555.80,898.90) rotate(-90) scale(0.8,1)" font-size="17" xml:space="preserve" ><tspan stroke="#000" stroke-width="0.5" letter-spacing="0.62">System Panel</tspan></text>
<text transform="translate(575.30,898.90) rotate(-90) scale(0.8,1)" font-size="17" xml:space="preserve" ><tspan stroke="#000" stroke-width="0.5" letter-spacing="0.8">Buttons and</tspan></text>
<text transform="translate(595.20,898.90) rotate(-90) scale(0.8,1)" font-size="17" xml:space="preserve" ><tspan stroke="#000" stroke-width="0.5" letter-spacing="0.66">LED Connectors</tspan></text>
<path d="M603.00,799.50 L672.00,799.50" fill="none" stroke="#000" stroke-width="3" stroke-linejoin="miter" stroke-linecap="butt"/>
<rect x="671.00" y="751.20" width="31.80" height="59.50" fill="#000"/>
<ellipse cx="680.40" cy="761.40" rx="3.90" ry="4.20" fill="#fff"/>
<ellipse cx="693.10" cy="761.40" rx="3.90" ry="4.20" fill="#fff"/>
<ellipse cx="680.40" cy="774.43" rx="3.90" ry="4.20" fill="#fff"/>
<ellipse cx="693.10" cy="774.43" rx="3.90" ry="4.20" fill="#fff"/>
<ellipse cx="680.40" cy="787.46" rx="3.90" ry="4.20" fill="#fff"/>
<ellipse cx="693.10" cy="787.46" rx="3.90" ry="4.20" fill="#fff"/>
<ellipse cx="680.40" cy="800.49" rx="3.90" ry="4.20" fill="#fff"/>
<ellipse cx="693.10" cy="800.49" rx="3.90" ry="4.20" fill="#fff"/>
<rect x="676.30" y="797.70" width="3.00" height="3.30" fill="#000"/>
<rect x="671.00" y="818.20" width="31.80" height="66.50" fill="#000"/>
<ellipse cx="680.40" cy="829.00" rx="3.90" ry="4.20" fill="#fff"/>
<ellipse cx="693.10" cy="829.00" rx="3.90" ry="4.20" fill="#fff"/>
<ellipse cx="680.40" cy="843.83" rx="3.90" ry="4.20" fill="#fff"/>
<ellipse cx="693.10" cy="843.83" rx="3.90" ry="4.20" fill="#fff"/>
<ellipse cx="680.40" cy="858.66" rx="3.90" ry="4.20" fill="#fff"/>
<ellipse cx="693.10" cy="858.66" rx="3.90" ry="4.20" fill="#fff"/>
<ellipse cx="680.40" cy="873.49" rx="3.90" ry="4.20" fill="#fff"/>
<ellipse cx="693.10" cy="873.49" rx="3.90" ry="4.20" fill="#fff"/>
<text transform="translate(634.30,898.50) rotate(-90) scale(0.8,1)" font-size="17" xml:space="preserve" ><tspan stroke="#000" stroke-width="0.5" letter-spacing="0.55">Power LED</tspan></text>
<text transform="translate(652.80,898.50) rotate(-90) scale(0.8,1)" font-size="17" xml:space="preserve" ><tspan stroke="#000" stroke-width="0.5" letter-spacing="0.65">Speaker</tspan></text>
<path d="M627.10,827.20 L627.10,815.80 L694.40,815.80 L694.40,818.50" fill="none" stroke="#000" stroke-width="3" stroke-linejoin="miter" stroke-linecap="butt"/>
<path d="M647.70,842.10 L647.70,834.60 L671.50,834.60" fill="none" stroke="#000" stroke-width="3" stroke-linejoin="miter" stroke-linecap="butt"/>
<path d="M684.10,895.90 L694.60,895.90 M684.40,895.60 L688.10,899.30" fill="none" stroke="#000" stroke-width="1.6"/>
<rect x="619.10" y="759.00" width="25.80" height="7.90" fill="#000"/>
<ellipse cx="624.50" cy="763.00" rx="4.20" ry="3.30" fill="#fff"/>
<ellipse cx="637.00" cy="763.00" rx="4.20" ry="3.30" fill="#fff"/>
<text transform="translate(586.50,777.00) rotate(-90) scale(0.8,1)" font-size="17" xml:space="preserve" ><tspan stroke="#000" stroke-width="0.5" letter-spacing="0.2">JP14:</tspan><tspan stroke="#000" stroke-width="0.25"> Voice</tspan></text>
<text transform="translate(606.40,777.00) rotate(-90) scale(0.8,1)" font-size="17" xml:space="preserve" ><tspan stroke="#000" stroke-width="0.25">Warning</tspan></text>
<rect x="686.10" y="685.20" width="16.80" height="44.60" fill="#a9a9a9"/>
<ellipse cx="694.10" cy="694.30" rx="2.60" ry="2.60" fill="#000"/>
<ellipse cx="694.10" cy="708.50" rx="2.60" ry="2.60" fill="#000"/>
<ellipse cx="694.10" cy="722.30" rx="2.60" ry="2.60" fill="#000"/>
<text transform="translate(640.60,744.30) rotate(-90) scale(0.8,1)" font-size="17" xml:space="preserve" ><tspan stroke="#000" stroke-width="0.5" letter-spacing="0.2">CN17:</tspan><tspan stroke="#000" stroke-width="0.25"> Chassis</tspan></text>
<text transform="translate(659.30,703.00) rotate(-90) scale(0.8,1)" font-size="17" xml:space="preserve" ><tspan stroke="#000" stroke-width="0.25">Fan</tspan></text>
<path d="M654.00,674.50 L692.50,674.50 L692.50,685.50" fill="none" stroke="#000" stroke-width="2.8" stroke-linejoin="miter" stroke-linecap="butt"/>
<path d="M688.2,721.8 L675.2,717.0999999999999 L675.2,726.5 Z"/>
<rect x="675.20" y="720.40" width="1.00" height="2.80" fill="#000"/>
<path d="M663.30,723.60 L674.70,723.60 M663.60,723.30 L667.30,727.00" fill="none" stroke="#000" stroke-width="1.6"/>
<path d="M673.10,727.20 L673.10,733.40 L678.10,733.40 L678.10,737.50" fill="none" stroke="#000" stroke-width="3" stroke-linejoin="miter" stroke-linecap="butt"/>
<path d="M678.1,750.5 L673.2,736.5 L683.0,736.5 Z"/>
<rect x="676.60" y="736.50" width="3.00" height="1.00" fill="#000"/>
</svg>
</body></html>
